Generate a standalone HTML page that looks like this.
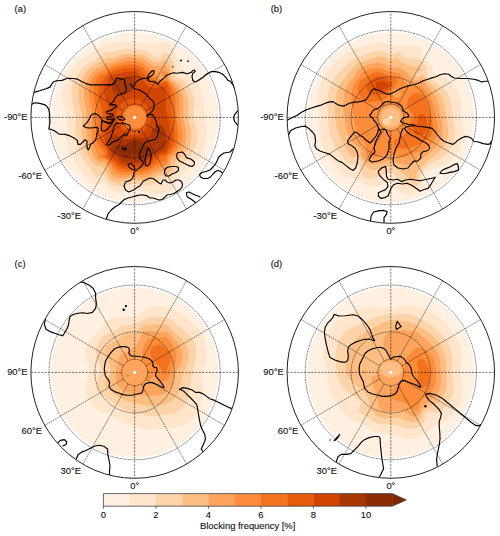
<!DOCTYPE html>
<html><head><meta charset="utf-8"><style>
html,body{margin:0;padding:0;background:#fff;width:500px;height:536px;overflow:hidden}
svg{display:block}
text{font-family:"Liberation Sans",sans-serif;fill:#111;stroke:#111;stroke-width:0.12px}
</style></head><body>
<svg width="500" height="536" viewBox="0 0 500 536">
<rect width="500" height="536" fill="#fff"/>
<clipPath id="cda"><ellipse cx="134.65" cy="117.4" rx="83.52" ry="85.25"/></clipPath>
<clipPath id="coa"><ellipse cx="134.65" cy="117.4" rx="103.75" ry="105.9"/></clipPath>
<g clip-path="url(#cda)">
<ellipse cx="134.65" cy="117.4" rx="103.75" ry="105.9" fill="#fff0e1"/>
<path d="M118.0 42.1L118.6 42.1L119.5 42.0L120.5 41.9L121.4 41.8L122.4 41.8L123.3 41.7L124.3 41.7L125.2 41.7L126.1 41.7L127.1 41.7L128.0 41.8L129.0 41.8L129.9 41.9L130.9 42.0L131.8 42.0L132.8 42.1L132.9 42.1L133.7 42.2L134.7 42.3L135.6 42.4L136.5 42.4L137.5 42.5L138.4 42.6L139.4 42.7L140.3 42.8L141.3 42.9L142.2 43.0L142.9 43.1L143.2 43.1L144.1 43.3L145.0 43.4L146.0 43.6L146.9 43.8L147.9 44.0L148.2 44.1L148.8 44.2L149.8 44.4L150.7 44.6L151.7 44.7L152.6 44.8L153.6 44.8L154.5 44.8L155.4 44.7L156.4 44.5L157.3 44.3L158.0 44.1L158.3 44.0L159.2 43.7L160.2 43.4L161.1 43.2L161.5 43.1L162.1 43.0L163.0 42.9L164.0 42.8L164.9 42.9L165.8 43.1L165.9 43.1L166.8 43.4L167.7 43.8L168.2 44.1L168.7 44.4L169.6 45.0L169.6 45.0L170.6 45.8L170.8 46.0L171.5 46.8L171.7 47.0L172.4 47.9L172.5 48.0L173.0 48.9L173.4 49.5L173.6 49.9L174.0 50.8L174.4 51.5L174.5 51.8L174.8 52.8L175.1 53.7L175.3 54.3L175.4 54.7L175.7 55.6L176.0 56.6L176.2 57.2L176.4 57.6L177.0 58.5L177.2 58.9L177.6 59.5L178.1 60.4L178.2 60.5L178.8 61.4L179.1 62.0L179.4 62.4L179.9 63.4L180.0 63.6L180.4 64.3L180.9 65.3L181.0 65.4L181.4 66.3L181.9 67.2L181.9 67.2L182.5 68.2L182.9 68.8L183.1 69.2L183.8 70.1L183.8 70.1L184.7 71.1L184.7 71.2L185.6 72.1L185.7 72.1L186.6 73.0L186.7 73.0L187.6 73.8L187.8 74.0L188.5 74.6L188.9 74.9L189.5 75.5L190.0 75.9L190.4 76.3L191.0 76.9L191.4 77.2L192.1 77.8L192.3 78.1L193.1 78.8L193.3 79.0L194.1 79.8L194.2 79.9L195.0 80.7L195.1 80.9L195.9 81.7L196.1 82.0L196.7 82.7L197.0 83.2L197.4 83.6L198.0 84.5L198.1 84.6L198.7 85.6L198.9 85.9L199.3 86.5L199.8 87.5L199.9 87.6L200.3 88.5L200.8 89.4L200.8 89.5L201.2 90.4L201.6 91.3L201.8 91.9L201.9 92.3L202.2 93.3L202.5 94.2L202.7 95.0L202.8 95.2L203.0 96.2L203.2 97.1L203.4 98.1L203.5 99.1L203.7 100.0L203.7 100.0L203.8 101.0L203.9 102.0L204.0 102.9L204.0 103.9L204.1 104.9L204.1 105.8L204.2 106.8L204.2 107.8L204.3 108.7L204.3 109.7L204.4 110.6L204.5 111.6L204.6 112.6L204.6 112.8L204.7 113.5L204.9 114.5L205.0 115.5L205.2 116.4L205.4 117.4L205.5 118.4L205.5 118.8L205.6 119.3L205.7 120.3L205.8 121.3L205.9 122.2L206.0 123.2L206.1 124.2L206.2 125.1L206.3 126.1L206.4 127.0L206.5 128.0L206.5 128.0L206.6 129.0L206.6 129.9L206.7 130.9L206.7 131.9L206.8 132.8L206.8 133.8L206.8 134.8L206.7 135.7L206.7 136.7L206.6 137.7L206.5 138.6L206.5 138.7L206.4 139.6L206.2 140.6L206.1 141.5L205.9 142.5L205.7 143.5L205.5 143.9L205.4 144.4L205.2 145.4L204.9 146.3L204.6 147.2L204.6 147.3L204.2 148.3L203.8 149.2L203.7 149.7L203.5 150.2L203.0 151.2L202.7 151.8L202.6 152.1L202.1 153.1L201.8 153.7L201.6 154.1L201.0 155.0L200.8 155.4L200.5 156.0L199.9 157.0L199.9 157.0L199.3 157.9L198.9 158.5L198.6 158.9L198.0 159.9L198.0 159.9L197.3 160.8L197.0 161.1L196.5 161.8L196.1 162.3L195.7 162.7L195.1 163.4L194.9 163.7L194.2 164.4L194.0 164.7L193.3 165.4L193.0 165.6L192.3 166.3L191.9 166.6L191.4 167.1L190.8 167.6L190.4 167.9L189.6 168.5L189.5 168.6L188.5 169.3L188.3 169.5L187.6 170.0L187.0 170.5L186.6 170.7L185.7 171.4L185.7 171.4L184.7 172.1L184.4 172.4L183.8 172.9L183.2 173.4L182.9 173.6L182.0 174.3L181.9 174.4L181.0 175.2L180.9 175.3L180.0 176.1L179.9 176.3L179.1 177.1L179.0 177.2L178.3 178.2L178.1 178.4L177.7 179.2L177.2 180.0L177.1 180.1L176.6 181.1L176.2 181.9L176.2 182.0L175.7 183.0L175.3 183.9L175.3 184.0L174.8 184.9L174.4 185.9L174.3 185.9L173.8 186.9L173.4 187.6L173.3 187.8L172.6 188.8L172.5 189.0L171.8 189.8L171.5 190.1L170.9 190.7L170.6 191.0L169.6 191.7L169.6 191.7L168.7 192.3L167.8 192.7L167.7 192.7L166.8 193.1L165.8 193.3L164.9 193.5L164.4 193.6L164.0 193.7L163.0 193.9L162.1 194.0L161.1 194.0L160.2 194.0L159.2 194.0L158.3 193.9L157.3 193.8L156.4 193.7L155.8 193.6L155.4 193.6L154.5 193.4L153.6 193.3L152.6 193.2L151.7 193.0L150.7 192.9L149.8 192.8L149.0 192.7L148.8 192.6L147.9 192.5L146.9 192.3L146.0 192.1L145.0 192.0L144.1 191.7L143.9 191.7L143.2 191.5L142.2 191.3L141.3 191.1L140.3 190.8L139.9 190.7L139.4 190.6L138.4 190.4L137.5 190.2L136.5 190.0L135.6 189.9L134.7 189.9L133.7 190.0L132.8 190.2L131.8 190.4L130.9 190.6L130.5 190.7L129.9 190.9L129.0 191.2L128.0 191.5L127.4 191.7L127.1 191.8L126.1 192.1L125.2 192.3L124.3 192.5L123.3 192.6L123.2 192.7L122.4 192.8L121.4 192.8L120.5 192.9L119.5 192.9L118.6 192.8L117.9 192.7L117.6 192.6L116.7 192.4L115.7 192.2L114.8 191.8L114.5 191.7L113.9 191.4L112.9 190.9L112.6 190.7L112.0 190.4L111.0 189.8L111.0 189.7L110.1 189.1L109.8 188.8L109.1 188.3L108.6 187.8L108.2 187.4L107.6 186.9L107.2 186.5L106.7 185.9L106.3 185.5L105.7 184.9L105.3 184.6L104.4 184.0L104.4 184.0L103.5 183.6L102.5 183.4L101.6 183.4L100.6 183.5L99.7 183.7L98.7 183.9L98.4 184.0L97.8 184.1L96.8 184.2L95.9 184.3L94.9 184.3L94.0 184.2L93.2 184.0L93.1 183.9L92.1 183.6L91.2 183.1L91.0 183.0L90.2 182.5L89.7 182.0L89.3 181.7L88.7 181.1L88.3 180.7L87.9 180.1L87.4 179.4L87.2 179.2L86.6 178.2L86.4 177.9L85.9 177.2L85.5 176.6L85.2 176.3L84.6 175.5L84.4 175.3L83.6 174.3L83.6 174.3L82.8 173.4L82.7 173.1L82.1 172.4L81.7 172.0L81.3 171.4L80.8 170.7L80.6 170.5L79.8 169.5L79.8 169.5L79.2 168.5L78.9 168.1L78.5 167.6L77.9 166.8L77.8 166.6L77.2 165.6L77.0 165.3L76.6 164.7L76.0 163.8L76.0 163.7L75.4 162.7L75.1 162.2L74.9 161.8L74.4 160.8L74.2 160.4L73.8 159.9L73.4 158.9L73.2 158.6L72.9 157.9L72.4 157.0L72.3 156.8L71.8 156.0L71.3 155.0L71.3 155.0L70.8 154.1L70.4 153.2L70.3 153.1L69.9 152.1L69.4 151.2L69.4 151.2L69.0 150.2L68.6 149.2L68.5 148.9L68.2 148.3L67.9 147.3L67.6 146.3L67.5 146.1L67.3 145.4L67.0 144.4L66.8 143.5L66.6 142.5L66.6 142.3L66.4 141.5L66.3 140.6L66.1 139.6L66.0 138.6L66.0 137.7L65.9 136.7L65.9 135.7L65.9 134.8L65.9 133.8L65.9 132.8L65.9 131.9L66.0 130.9L66.1 129.9L66.2 129.0L66.2 128.0L66.4 127.0L66.5 126.1L66.6 125.1L66.6 125.0L66.7 124.2L66.8 123.2L66.9 122.2L66.9 121.3L67.0 120.3L67.0 119.3L67.0 118.4L67.0 117.4L66.8 116.4L66.6 115.5L66.6 115.3L66.4 114.5L66.1 113.5L65.8 112.6L65.6 112.0L65.5 111.6L65.2 110.6L64.9 109.7L64.7 109.0L64.6 108.7L64.3 107.8L64.1 106.8L63.8 105.8L63.8 105.6L63.6 104.9L63.4 103.9L63.2 102.9L63.0 102.0L62.8 101.0L62.8 100.7L62.7 100.0L62.6 99.1L62.5 98.1L62.5 97.1L62.5 96.2L62.5 95.2L62.5 94.2L62.6 93.3L62.6 92.3L62.8 91.3L62.8 91.0L62.9 90.4L63.1 89.4L63.2 88.5L63.4 87.5L63.7 86.5L63.8 86.2L63.9 85.6L64.2 84.6L64.5 83.6L64.7 83.1L64.8 82.7L65.2 81.7L65.5 80.7L65.6 80.5L65.9 79.8L66.4 78.8L66.6 78.3L66.8 77.8L67.3 76.9L67.5 76.3L67.7 75.9L68.2 74.9L68.5 74.5L68.8 74.0L69.3 73.0L69.4 72.9L69.9 72.1L70.4 71.4L70.6 71.1L71.2 70.1L71.3 70.0L71.9 69.2L72.3 68.7L72.6 68.2L73.2 67.5L73.4 67.2L74.2 66.3L74.2 66.3L75.1 65.3L75.1 65.3L76.0 64.3L76.0 64.3L77.0 63.4L77.0 63.4L77.9 62.5L78.0 62.4L78.9 61.7L79.1 61.4L79.8 60.9L80.3 60.5L80.8 60.2L81.6 59.5L81.7 59.5L82.7 58.8L83.0 58.5L83.6 58.2L84.5 57.6L84.6 57.6L85.5 56.9L86.0 56.6L86.4 56.4L87.4 55.8L87.6 55.6L88.3 55.2L89.2 54.7L89.3 54.6L90.2 54.0L90.7 53.7L91.2 53.4L92.1 52.8L92.2 52.8L93.1 52.1L93.5 51.8L94.0 51.4L94.8 50.8L94.9 50.7L95.9 49.9L96.0 49.9L96.8 49.2L97.2 48.9L97.8 48.4L98.4 47.9L98.7 47.7L99.7 47.0L99.8 47.0L100.6 46.4L101.4 46.0L101.6 45.9L102.5 45.4L103.3 45.0L103.5 45.0L104.4 44.6L105.3 44.3L106.1 44.1L106.3 44.0L107.2 43.8L108.2 43.6L109.1 43.4L110.1 43.2L110.8 43.1L111.0 43.1L112.0 42.9L112.9 42.8L113.9 42.7L114.8 42.5L115.7 42.4L116.7 42.3L117.6 42.2Z" fill="#fee5cb"/>
<path d="M119.9 49.9L120.5 49.7L121.4 49.5L122.4 49.3L123.3 49.2L124.3 49.1L125.2 49.1L126.1 49.1L127.1 49.1L128.0 49.1L129.0 49.2L129.9 49.3L130.9 49.4L131.8 49.5L132.8 49.6L133.7 49.7L134.7 49.8L135.6 49.8L136.5 49.8L137.5 49.8L138.4 49.8L138.8 49.9L139.4 49.9L140.3 50.0L141.3 50.1L142.2 50.3L143.2 50.5L144.1 50.8L144.1 50.8L145.0 51.2L146.0 51.6L146.4 51.8L146.9 52.0L147.9 52.5L148.3 52.8L148.8 53.0L149.8 53.6L150.0 53.7L150.7 54.2L151.5 54.7L151.7 54.8L152.6 55.3L153.2 55.6L153.6 55.9L154.5 56.4L155.0 56.6L155.4 56.8L156.4 57.1L157.3 57.4L158.3 57.5L159.2 57.4L160.2 57.0L160.6 56.6L161.1 56.1L161.5 55.6L162.1 55.0L162.4 54.7L163.0 54.0L163.4 53.7L164.0 53.3L164.9 52.9L165.8 52.8L166.8 53.1L167.7 53.7L167.8 53.7L168.7 54.5L168.9 54.7L169.6 55.5L169.7 55.6L170.4 56.6L170.6 56.8L171.1 57.6L171.5 58.3L171.6 58.5L172.2 59.5L172.5 60.0L172.7 60.5L173.2 61.4L173.4 61.9L173.6 62.4L174.1 63.4L174.4 64.1L174.5 64.3L174.8 65.3L175.1 66.3L175.3 67.2L175.3 67.3L175.5 68.2L175.6 69.2L175.6 70.1L175.6 71.1L175.6 72.1L175.5 73.0L175.4 74.0L175.4 74.9L175.8 75.9L176.2 76.3L177.2 76.8L177.3 76.9L178.1 77.2L179.1 77.6L179.5 77.8L180.0 78.1L181.0 78.8L181.0 78.8L181.9 79.5L182.3 79.8L182.9 80.2L183.5 80.7L183.8 81.0L184.6 81.7L184.7 81.8L185.7 82.7L185.7 82.7L186.6 83.6L186.6 83.7L187.5 84.6L187.6 84.7L188.3 85.6L188.5 85.9L189.0 86.5L189.5 87.2L189.7 87.5L190.3 88.5L190.4 88.7L190.8 89.4L191.3 90.4L191.4 90.4L191.8 91.3L192.2 92.3L192.3 92.6L192.6 93.3L192.9 94.2L193.2 95.2L193.3 95.5L193.4 96.2L193.6 97.1L193.8 98.1L194.0 99.1L194.1 100.0L194.2 101.0L194.2 101.9L194.2 102.0L194.2 102.9L194.2 103.9L194.2 104.9L194.2 105.8L194.2 105.9L194.2 106.8L194.1 107.8L194.0 108.7L193.9 109.7L193.9 110.6L193.8 111.6L193.7 112.6L193.6 113.5L193.5 114.5L193.5 115.5L193.5 116.4L193.5 117.4L193.7 118.4L193.9 119.3L194.2 120.3L194.2 120.4L194.5 121.3L194.8 122.2L195.1 123.2L195.1 123.5L195.4 124.2L195.6 125.1L195.9 126.1L196.1 126.8L196.2 127.0L196.4 128.0L196.6 129.0L196.8 129.9L197.0 130.9L197.0 131.3L197.1 131.9L197.2 132.8L197.3 133.8L197.4 134.8L197.4 135.7L197.4 136.7L197.4 137.7L197.3 138.6L197.3 139.6L197.1 140.6L197.0 141.2L197.0 141.5L196.8 142.5L196.6 143.5L196.3 144.4L196.1 145.2L196.0 145.4L195.7 146.3L195.4 147.3L195.1 147.9L195.0 148.3L194.6 149.2L194.2 150.0L194.1 150.2L193.6 151.2L193.3 151.7L193.0 152.1L192.4 153.1L192.3 153.3L191.8 154.1L191.4 154.7L191.1 155.0L190.4 156.0L190.4 156.0L189.6 157.0L189.5 157.1L188.7 157.9L188.5 158.1L187.7 158.9L187.6 159.0L186.7 159.9L186.6 159.9L185.7 160.7L185.6 160.8L184.7 161.5L184.5 161.8L183.8 162.4L183.4 162.7L182.9 163.2L182.4 163.7L181.9 164.2L181.4 164.7L181.0 165.1L180.5 165.6L180.0 166.2L179.7 166.6L179.1 167.4L178.9 167.6L178.2 168.5L178.1 168.6L177.5 169.5L177.2 169.9L176.8 170.5L176.2 171.3L176.1 171.4L175.4 172.4L175.3 172.6L174.7 173.4L174.4 173.9L174.0 174.3L173.4 175.1L173.2 175.3L172.5 176.1L172.3 176.3L171.5 177.0L171.2 177.2L170.6 177.6L169.6 178.1L169.1 178.2L168.7 178.3L167.7 178.3L167.2 178.2L166.8 178.1L165.8 177.9L164.9 177.6L164.0 177.7L163.0 178.1L162.7 178.2L162.1 178.7L161.3 179.2L161.1 179.4L160.3 180.1L160.2 180.3L159.3 181.1L159.2 181.2L158.3 182.0L158.2 182.0L157.3 182.6L156.4 183.0L156.4 183.0L155.4 183.5L154.5 183.8L154.2 184.0L153.6 184.2L152.6 184.5L151.7 184.8L150.9 184.9L150.7 185.0L149.8 185.2L148.8 185.3L147.9 185.4L146.9 185.4L146.0 185.4L145.0 185.4L144.1 185.3L143.2 185.2L142.2 185.0L141.7 184.9L141.3 184.9L140.3 184.7L139.4 184.5L138.4 184.3L137.5 184.2L136.5 184.0L136.1 184.0L135.6 183.9L134.7 183.9L133.7 184.0L133.6 184.0L132.8 184.1L131.8 184.3L130.9 184.5L129.9 184.7L129.0 184.9L129.0 184.9L128.0 185.2L127.1 185.4L126.1 185.7L125.2 185.9L125.1 185.9L124.3 186.1L123.3 186.2L122.4 186.4L121.4 186.5L120.5 186.5L119.5 186.5L118.6 186.5L117.6 186.4L116.7 186.2L115.7 186.0L115.4 185.9L114.8 185.8L113.9 185.4L112.9 185.0L112.7 184.9L112.0 184.6L111.0 184.1L110.9 184.0L110.1 183.5L109.4 183.0L109.1 182.8L108.2 182.1L108.1 182.0L107.2 181.2L107.1 181.1L106.3 180.2L106.2 180.1L105.6 179.2L105.3 178.4L105.3 178.2L105.0 177.2L104.7 176.3L104.4 175.8L103.7 175.3L103.5 175.1L102.5 174.7L101.6 174.7L100.6 174.9L100.1 175.3L99.7 175.6L99.0 176.3L98.7 176.5L97.8 177.2L97.8 177.3L96.8 177.3L96.7 177.2L95.9 176.7L95.4 176.3L94.9 175.8L94.6 175.3L94.0 174.5L93.9 174.3L93.3 173.4L93.1 173.0L92.6 172.4L92.1 171.7L91.9 171.4L91.2 170.5L91.2 170.4L90.5 169.5L90.2 169.2L89.7 168.5L89.3 168.0L89.0 167.6L88.3 166.7L88.2 166.6L87.5 165.6L87.4 165.4L86.9 164.7L86.4 164.1L86.2 163.7L85.6 162.7L85.5 162.6L84.9 161.8L84.6 161.2L84.3 160.8L83.7 159.9L83.6 159.7L83.1 158.9L82.7 158.2L82.5 157.9L82.0 157.0L81.7 156.5L81.4 156.0L80.9 155.0L80.8 154.7L80.5 154.1L80.0 153.1L79.8 152.7L79.5 152.1L79.1 151.2L78.9 150.6L78.7 150.2L78.3 149.2L78.0 148.3L77.9 148.2L77.6 147.3L77.3 146.3L77.0 145.4L77.0 145.4L76.7 144.4L76.5 143.5L76.2 142.5L76.1 141.5L76.0 141.5L75.9 140.6L75.7 139.6L75.6 138.6L75.5 137.7L75.4 136.7L75.4 135.7L75.3 134.8L75.3 133.8L75.3 132.8L75.3 131.9L75.3 130.9L75.4 129.9L75.4 129.0L75.4 128.0L75.5 127.0L75.6 126.1L75.6 125.1L75.7 124.2L75.7 123.2L75.7 122.2L75.7 121.3L75.7 120.3L75.7 119.3L75.6 118.4L75.5 117.4L75.4 116.4L75.3 115.5L75.2 114.5L75.1 114.2L75.0 113.5L74.8 112.6L74.6 111.6L74.4 110.6L74.2 109.7L74.2 109.6L73.9 108.7L73.7 107.8L73.4 106.8L73.2 105.8L73.2 105.8L73.0 104.9L72.8 103.9L72.6 102.9L72.4 102.0L72.3 101.3L72.2 101.0L72.0 100.0L71.9 99.1L71.8 98.1L71.7 97.1L71.6 96.2L71.6 95.2L71.6 94.2L71.6 93.3L71.6 92.3L71.7 91.3L71.8 90.4L71.9 89.4L72.0 88.5L72.2 87.5L72.3 87.3L72.4 86.5L72.6 85.6L72.9 84.6L73.2 83.6L73.2 83.6L73.5 82.7L73.8 81.7L74.2 80.9L74.2 80.7L74.6 79.8L75.1 78.8L75.1 78.8L75.6 77.8L76.0 77.0L76.1 76.9L76.7 75.9L77.0 75.4L77.3 74.9L77.9 74.0L77.9 73.9L78.6 73.0L78.9 72.6L79.3 72.1L79.8 71.4L80.1 71.1L80.8 70.2L80.9 70.1L81.7 69.2L81.7 69.2L82.6 68.2L82.7 68.2L83.6 67.3L83.6 67.2L84.6 66.4L84.7 66.3L85.5 65.6L85.9 65.3L86.4 64.9L87.1 64.3L87.4 64.2L88.3 63.5L88.5 63.4L89.3 62.9L90.1 62.4L90.2 62.3L91.2 61.7L91.7 61.4L92.1 61.2L93.1 60.7L93.4 60.5L94.0 60.2L94.9 59.7L95.3 59.5L95.9 59.2L96.8 58.7L97.0 58.5L97.8 58.1L98.6 57.6L98.7 57.5L99.7 56.7L99.8 56.6L100.6 55.9L100.9 55.6L101.6 55.0L102.0 54.7L102.5 54.3L103.3 53.7L103.5 53.6L104.4 53.1L105.2 52.8L105.3 52.7L106.3 52.4L107.2 52.2L108.2 52.1L109.1 52.0L110.1 51.9L111.0 51.8L111.4 51.8L112.0 51.7L112.9 51.6L113.9 51.4L114.8 51.2L115.7 51.0L116.4 50.8L116.7 50.7L117.6 50.5L118.6 50.2L119.5 49.9Z" fill="#fdd4aa"/>
<path d="M125.5 53.7L126.1 53.7L127.1 53.7L128.0 53.7L128.5 53.7L129.0 53.8L129.9 53.8L130.9 53.9L131.8 54.1L132.8 54.2L133.7 54.2L134.7 54.3L135.6 54.2L136.5 54.1L137.5 54.1L138.4 54.1L139.4 54.2L140.3 54.3L141.3 54.6L141.5 54.7L142.2 54.9L143.2 55.3L143.8 55.6L144.1 55.8L145.0 56.3L145.5 56.6L146.0 56.9L146.9 57.5L147.1 57.6L147.9 58.1L148.7 58.5L148.8 58.7L149.8 59.2L150.3 59.5L150.7 59.8L151.7 60.3L152.0 60.5L152.6 60.7L153.6 61.1L154.4 61.4L154.5 61.5L155.4 61.7L156.4 61.9L157.3 61.9L158.3 61.9L159.2 61.8L160.2 61.5L160.5 61.4L161.1 61.2L162.1 60.8L162.9 60.5L163.0 60.4L164.0 60.0L164.9 59.7L165.8 59.8L166.8 60.3L167.1 60.5L167.7 61.0L168.1 61.4L168.7 62.1L168.9 62.4L169.6 63.4L169.6 63.5L170.1 64.3L170.6 65.2L170.6 65.3L171.0 66.3L171.3 67.2L171.5 67.9L171.6 68.2L171.8 69.2L171.9 70.1L172.0 71.1L171.9 72.1L171.8 73.0L171.6 74.0L171.5 74.3L171.4 74.9L171.1 75.9L170.9 76.9L171.1 77.8L171.5 78.5L171.9 78.8L172.5 79.3L173.2 79.8L173.4 79.9L174.4 80.5L174.8 80.7L175.3 81.0L176.2 81.5L176.6 81.7L177.2 82.1L178.1 82.7L178.1 82.7L179.1 83.4L179.4 83.6L180.0 84.2L180.5 84.6L181.0 85.0L181.5 85.6L181.9 86.0L182.4 86.5L182.9 87.1L183.1 87.5L183.8 88.4L183.8 88.5L184.5 89.4L184.7 89.9L185.0 90.4L185.5 91.3L185.7 91.7L186.0 92.3L186.4 93.3L186.6 94.0L186.7 94.2L187.0 95.2L187.3 96.2L187.5 97.1L187.6 97.4L187.7 98.1L187.9 99.1L188.0 100.0L188.1 101.0L188.2 102.0L188.2 102.9L188.3 103.9L188.3 104.9L188.2 105.8L188.2 106.8L188.2 107.8L188.1 108.7L188.1 109.7L188.1 110.6L188.1 111.6L188.0 112.6L188.1 113.5L188.1 114.5L188.2 115.5L188.3 116.4L188.4 117.4L188.5 118.4L188.5 118.9L188.6 119.3L188.7 120.3L188.9 121.3L189.0 122.2L189.2 123.2L189.4 124.2L189.5 124.3L189.7 125.1L189.9 126.1L190.1 127.0L190.3 128.0L190.4 128.7L190.5 129.0L190.7 129.9L190.8 130.9L190.9 131.9L191.0 132.8L191.1 133.8L191.2 134.8L191.2 135.7L191.2 136.7L191.1 137.7L191.1 138.6L190.9 139.6L190.8 140.6L190.6 141.5L190.4 142.3L190.4 142.5L190.1 143.5L189.8 144.4L189.5 145.4L189.5 145.4L189.1 146.3L188.7 147.3L188.5 147.6L188.2 148.3L187.6 149.2L187.6 149.3L187.0 150.2L186.6 150.8L186.4 151.2L185.7 152.1L185.6 152.1L184.8 153.1L184.7 153.2L184.0 154.1L183.8 154.2L183.0 155.0L182.9 155.2L182.0 156.0L181.9 156.1L181.0 156.9L180.9 157.0L180.0 157.7L179.8 157.9L179.1 158.6L178.7 158.9L178.1 159.4L177.6 159.9L177.2 160.3L176.7 160.8L176.2 161.4L175.9 161.8L175.3 162.7L175.3 162.8L174.8 163.7L174.4 164.6L174.3 164.7L173.8 165.6L173.4 166.5L173.4 166.6L172.9 167.6L172.5 168.3L172.3 168.5L171.7 169.5L171.5 169.9L171.1 170.5L170.6 171.4L170.5 171.4L169.8 172.4L169.6 172.7L169.1 173.4L168.7 173.8L168.1 174.3L167.7 174.6L166.8 175.2L166.7 175.3L165.8 175.6L164.9 175.7L164.0 175.6L163.0 175.4L162.1 175.4L161.1 175.4L160.2 175.5L159.2 175.7L158.3 176.0L157.4 176.3L157.3 176.3L156.4 176.6L155.4 177.0L154.9 177.2L154.5 177.4L153.6 178.0L153.2 178.2L152.6 178.6L151.7 179.1L151.6 179.2L150.7 179.7L149.8 180.1L149.7 180.1L148.8 180.5L147.9 180.8L146.9 180.9L146.0 181.1L145.8 181.1L145.0 181.1L144.1 181.1L143.3 181.1L143.2 181.1L142.2 181.0L141.3 180.9L140.3 180.8L139.4 180.6L138.4 180.5L137.5 180.3L136.5 180.2L135.6 180.1L135.0 180.1L134.7 180.1L134.4 180.1L133.7 180.2L132.8 180.3L131.8 180.4L130.9 180.6L129.9 180.7L129.0 180.9L128.2 181.1L128.0 181.1L127.1 181.3L126.1 181.5L125.2 181.6L124.3 181.8L123.3 181.9L122.4 182.0L122.0 182.0L121.4 182.1L120.5 182.1L119.5 182.1L118.6 182.1L118.0 182.0L117.6 182.0L116.7 181.9L115.7 181.7L114.8 181.5L113.9 181.2L113.4 181.1L112.9 180.9L112.0 180.5L111.1 180.1L111.0 180.1L110.1 179.5L109.5 179.2L109.1 178.9L108.4 178.2L108.2 177.9L107.8 177.2L107.6 176.3L107.5 175.3L107.2 174.4L107.2 174.3L106.9 173.4L106.5 172.4L106.3 172.0L106.0 171.4L105.4 170.5L105.3 170.3L104.7 169.5L104.4 169.1L103.8 168.5L103.5 168.2L102.6 167.6L102.5 167.5L101.6 167.0L100.7 166.6L100.6 166.6L99.7 166.3L98.7 166.0L97.8 165.7L97.6 165.6L96.8 165.4L95.9 164.9L95.5 164.7L94.9 164.4L94.1 163.7L94.0 163.7L93.1 162.8L93.0 162.7L92.1 161.8L92.1 161.7L91.4 160.8L91.2 160.5L90.8 159.9L90.2 158.9L90.2 158.9L89.7 157.9L89.3 157.2L89.1 157.0L88.6 156.0L88.3 155.6L88.0 155.0L87.5 154.1L87.4 153.9L86.9 153.1L86.4 152.1L86.4 152.1L86.0 151.2L85.5 150.2L85.5 150.1L85.1 149.2L84.7 148.3L84.6 147.8L84.3 147.3L84.0 146.3L83.7 145.4L83.6 145.1L83.4 144.4L83.1 143.5L82.9 142.5L82.7 141.6L82.6 141.5L82.4 140.6L82.3 139.6L82.1 138.6L82.0 137.7L81.9 136.7L81.8 135.7L81.8 134.8L81.7 133.8L81.7 132.8L81.7 131.9L81.7 130.9L81.8 129.9L81.8 129.0L81.8 128.0L81.9 127.0L82.0 126.1L82.0 125.1L82.1 124.2L82.2 123.2L82.2 122.2L82.3 121.3L82.3 120.3L82.3 119.3L82.3 118.4L82.3 117.4L82.2 116.4L82.0 115.5L81.9 114.5L81.7 113.7L81.7 113.5L81.5 112.6L81.3 111.6L81.0 110.6L80.8 109.7L80.8 109.5L80.6 108.7L80.4 107.8L80.1 106.8L79.9 105.8L79.8 105.4L79.7 104.9L79.5 103.9L79.3 102.9L79.1 102.0L78.9 101.0L78.9 100.6L78.8 100.0L78.6 99.1L78.5 98.1L78.4 97.1L78.4 96.2L78.3 95.2L78.3 94.2L78.3 93.3L78.3 92.3L78.4 91.3L78.5 90.4L78.6 89.4L78.8 88.5L78.9 87.9L79.0 87.5L79.2 86.5L79.4 85.6L79.7 84.6L79.8 84.2L80.0 83.6L80.4 82.7L80.8 81.7L80.8 81.7L81.2 80.7L81.7 79.8L81.7 79.7L82.2 78.8L82.7 78.0L82.7 77.8L83.3 76.9L83.6 76.4L83.9 75.9L84.5 74.9L84.6 74.9L85.2 74.0L85.5 73.6L85.9 73.0L86.4 72.4L86.7 72.1L87.4 71.3L87.6 71.1L88.3 70.3L88.5 70.1L89.3 69.4L89.5 69.2L90.2 68.6L90.7 68.2L91.2 67.8L92.0 67.2L92.1 67.1L93.1 66.5L93.4 66.3L94.0 65.9L94.9 65.3L95.0 65.3L95.9 64.7L96.6 64.3L96.8 64.2L97.8 63.6L98.2 63.4L98.7 63.1L99.7 62.5L99.8 62.4L100.6 61.9L101.3 61.4L101.6 61.2L102.5 60.6L102.6 60.5L103.5 59.9L104.0 59.5L104.4 59.3L105.3 58.8L106.0 58.5L106.3 58.4L107.2 58.2L108.2 58.0L109.1 57.9L110.1 57.8L111.0 57.8L112.0 57.7L112.9 57.6L113.2 57.6L113.9 57.5L114.8 57.2L115.7 56.9L116.4 56.6L116.7 56.5L117.6 56.1L118.6 55.7L118.6 55.6L119.5 55.3L120.5 54.9L121.1 54.7L121.4 54.6L122.4 54.3L123.3 54.0L124.3 53.9L125.2 53.7Z" fill="#fdbe84"/>
<path d="M124.8 57.6L125.2 57.5L126.1 57.4L127.1 57.3L128.0 57.3L129.0 57.4L129.9 57.4L130.9 57.5L131.8 57.5L132.4 57.6L132.8 57.6L133.7 57.6L134.6 57.6L134.9 57.6L135.6 57.5L136.5 57.4L137.5 57.4L138.4 57.5L138.7 57.6L139.4 57.8L140.3 58.1L141.3 58.5L141.3 58.5L142.2 59.0L143.1 59.5L143.2 59.6L144.1 60.1L144.6 60.5L145.0 60.7L146.0 61.4L146.1 61.4L146.9 62.0L147.6 62.4L147.9 62.6L148.8 63.2L149.1 63.4L149.8 63.8L150.7 64.3L150.7 64.3L151.7 64.8L152.6 65.3L152.6 65.3L153.6 65.7L154.5 66.0L155.4 66.3L155.4 66.3L156.4 66.4L157.3 66.5L158.3 66.4L159.2 66.3L159.5 66.3L160.2 66.1L161.1 65.9L162.1 65.8L163.0 65.6L164.0 65.6L164.9 65.8L165.8 66.2L165.9 66.3L166.8 67.0L167.0 67.2L167.7 68.1L167.8 68.2L168.4 69.2L168.7 69.6L168.9 70.1L169.3 71.1L169.5 72.1L169.6 72.7L169.7 73.0L169.7 74.0L169.6 74.3L169.6 74.9L169.4 75.9L169.3 76.9L169.3 77.8L169.6 78.8L169.6 78.9L170.3 79.8L170.6 80.1L171.2 80.7L171.5 81.0L172.3 81.7L172.5 81.8L173.4 82.6L173.5 82.7L174.4 83.4L174.6 83.6L175.3 84.3L175.7 84.6L176.2 85.2L176.6 85.6L177.2 86.2L177.5 86.5L178.1 87.3L178.3 87.5L179.0 88.5L179.1 88.5L179.7 89.4L180.0 90.0L180.3 90.4L180.8 91.3L181.0 91.8L181.2 92.3L181.6 93.3L181.9 94.0L182.0 94.2L182.3 95.2L182.6 96.2L182.8 97.1L182.9 97.4L183.0 98.1L183.2 99.1L183.3 100.0L183.4 101.0L183.5 102.0L183.5 102.9L183.5 103.9L183.5 104.9L183.5 105.8L183.5 106.8L183.4 107.8L183.4 108.7L183.4 109.7L183.3 110.6L183.2 111.6L183.2 112.6L183.2 113.5L183.2 114.5L183.2 115.5L183.2 116.4L183.3 117.4L183.4 118.4L183.6 119.3L183.8 120.2L183.8 120.3L184.0 121.3L184.3 122.2L184.5 123.2L184.7 124.2L184.7 124.3L184.9 125.1L185.2 126.1L185.4 127.0L185.5 128.0L185.7 128.8L185.7 129.0L185.9 129.9L186.0 130.9L186.1 131.9L186.2 132.8L186.3 133.8L186.3 134.8L186.3 135.7L186.3 136.7L186.2 137.7L186.1 138.6L186.0 139.6L185.8 140.6L185.7 141.0L185.6 141.5L185.3 142.5L185.0 143.5L184.7 144.1L184.6 144.4L184.2 145.4L183.8 146.2L183.8 146.3L183.2 147.3L182.9 147.9L182.7 148.3L182.0 149.2L181.9 149.4L181.3 150.2L181.0 150.6L180.5 151.2L180.0 151.7L179.6 152.1L179.1 152.6L178.6 153.1L178.1 153.5L177.5 154.1L177.2 154.4L176.4 155.0L176.2 155.1L175.3 155.9L175.1 156.0L174.4 156.6L173.8 157.0L173.4 157.2L172.5 157.9L172.4 157.9L171.5 158.9L171.5 158.9L171.2 159.9L171.0 160.8L170.8 161.8L170.6 162.7L170.6 162.8L170.3 163.7L169.9 164.7L169.6 165.1L169.3 165.6L168.7 166.6L168.6 166.6L167.8 167.6L167.7 167.6L166.8 168.5L166.7 168.5L165.8 169.2L165.3 169.5L164.9 169.9L164.1 170.5L164.0 170.6L163.0 171.1L162.2 171.4L162.1 171.5L161.1 171.7L160.2 171.9L159.2 172.1L158.3 172.4L158.2 172.4L157.3 172.7L156.4 173.0L155.4 173.3L155.3 173.4L154.5 173.7L153.6 174.1L153.2 174.3L152.6 174.6L151.7 175.1L151.3 175.3L150.7 175.6L149.8 176.1L149.5 176.3L148.8 176.6L147.9 177.0L147.3 177.2L146.9 177.4L146.0 177.6L145.0 177.7L144.1 177.7L143.2 177.7L142.2 177.7L141.3 177.6L140.3 177.6L139.4 177.5L138.4 177.4L137.5 177.3L136.5 177.3L135.7 177.2L135.6 177.2L134.7 177.2L134.0 177.2L133.7 177.2L132.8 177.3L131.8 177.4L130.9 177.5L129.9 177.6L129.0 177.7L128.0 177.8L127.1 178.0L126.1 178.1L125.2 178.2L124.9 178.2L124.3 178.2L123.3 178.3L122.4 178.3L121.4 178.4L120.5 178.3L119.5 178.3L118.6 178.2L118.5 178.2L117.6 178.1L116.7 177.9L115.7 177.6L114.8 177.3L114.5 177.2L113.9 177.0L112.9 176.4L112.6 176.3L112.0 175.7L111.6 175.3L111.0 174.4L111.0 174.3L110.5 173.4L110.1 172.4L110.1 172.3L109.7 171.4L109.2 170.5L109.1 170.2L108.8 169.5L108.3 168.5L108.2 168.4L107.7 167.6L107.2 166.8L107.1 166.6L106.4 165.6L106.3 165.4L105.8 164.7L105.3 164.1L105.1 163.7L104.4 162.8L104.3 162.7L103.5 162.2L102.5 162.1L101.6 162.1L100.6 162.0L99.7 161.9L99.4 161.8L98.7 161.6L97.8 161.2L97.1 160.8L96.8 160.6L96.0 159.9L95.9 159.8L95.1 158.9L94.9 158.6L94.5 157.9L94.0 157.0L94.0 157.0L93.5 156.0L93.1 155.1L93.0 155.0L92.6 154.1L92.2 153.1L92.1 152.9L91.8 152.1L91.4 151.2L91.2 150.6L91.0 150.2L90.6 149.2L90.2 148.3L90.2 148.3L89.8 147.3L89.5 146.3L89.3 145.8L89.1 145.4L88.8 144.4L88.5 143.5L88.3 142.9L88.2 142.5L88.0 141.5L87.8 140.6L87.6 139.6L87.4 138.6L87.4 138.4L87.3 137.7L87.2 136.7L87.1 135.7L87.0 134.8L87.0 133.8L87.0 132.8L87.0 131.9L87.0 130.9L87.0 129.9L87.0 129.0L87.1 128.0L87.2 127.0L87.2 126.1L87.3 125.1L87.3 124.2L87.4 123.4L87.4 123.2L87.4 122.2L87.5 121.3L87.5 120.3L87.5 119.3L87.5 118.4L87.4 117.4L87.4 117.1L87.3 116.4L87.3 115.5L87.2 114.5L87.0 113.5L86.9 112.6L86.7 111.6L86.6 110.6L86.4 110.1L86.4 109.7L86.1 108.7L85.9 107.8L85.7 106.8L85.5 105.8L85.5 105.7L85.3 104.9L85.1 103.9L84.9 102.9L84.7 102.0L84.6 101.0L84.6 101.0L84.4 100.0L84.3 99.1L84.1 98.1L84.0 97.1L84.0 96.2L83.9 95.2L83.9 94.2L83.9 93.3L83.9 92.3L84.0 91.3L84.1 90.4L84.2 89.4L84.3 88.5L84.5 87.5L84.6 87.4L84.7 86.5L85.0 85.6L85.3 84.6L85.5 84.0L85.6 83.6L86.0 82.7L86.4 81.7L86.4 81.5L86.8 80.7L87.3 79.8L87.4 79.6L87.8 78.8L88.3 77.9L88.3 77.8L88.9 76.9L89.3 76.3L89.5 75.9L90.2 74.9L90.2 74.9L91.0 74.0L91.2 73.8L91.8 73.0L92.1 72.7L92.8 72.1L93.1 71.8L94.0 71.1L94.0 71.0L94.9 70.3L95.2 70.1L95.9 69.7L96.7 69.2L96.8 69.1L97.8 68.5L98.3 68.2L98.7 68.0L99.7 67.4L100.0 67.2L100.6 66.9L101.6 66.3L101.6 66.3L102.5 65.7L103.2 65.3L103.5 65.2L104.4 64.6L104.9 64.3L105.3 64.1L106.3 63.6L106.8 63.4L107.2 63.2L108.2 62.8L109.1 62.5L109.3 62.4L110.1 62.2L111.0 61.9L112.0 61.7L112.9 61.5L113.1 61.4L113.9 61.2L114.8 61.0L115.7 60.7L116.4 60.5L116.7 60.4L117.6 60.0L118.6 59.7L119.0 59.5L119.5 59.3L120.5 58.9L121.4 58.6L121.5 58.5L122.4 58.3L123.3 58.0L124.3 57.7ZM164.0 77.8L163.3 77.8L164.0 78.0L164.0 77.8Z" fill="#fda55f"/>
<path d="M124.0 61.4L124.3 61.4L125.2 61.2L126.1 61.0L127.1 60.9L128.0 60.9L129.0 60.8L129.9 60.9L130.9 60.9L131.8 60.9L132.8 60.9L133.7 61.0L134.7 61.0L135.6 61.1L136.5 61.2L137.5 61.3L138.0 61.4L138.4 61.5L139.4 61.9L140.3 62.3L140.6 62.4L141.3 62.7L142.2 63.2L142.4 63.4L143.2 63.8L144.0 64.3L144.1 64.4L145.0 65.1L145.4 65.3L146.0 65.7L146.7 66.3L146.9 66.4L147.9 67.1L148.0 67.2L148.8 67.9L149.3 68.2L149.8 68.6L150.5 69.2L150.7 69.3L151.7 70.1L151.7 70.1L152.6 70.9L152.9 71.1L153.6 71.7L154.0 72.1L154.5 72.6L155.0 73.0L155.4 73.6L155.8 74.0L156.4 74.9L156.4 74.9L157.0 75.9L157.3 76.4L157.6 76.9L158.3 77.7L158.3 77.8L159.2 78.7L159.4 78.8L160.2 79.2L161.1 79.6L161.7 79.8L162.1 79.8L163.0 79.9L163.9 79.8L164.0 79.8L164.9 79.5L165.8 78.9L166.3 78.8L165.8 78.0L165.8 77.8L164.9 77.2L164.6 76.9L164.0 76.3L163.3 75.9L163.0 75.5L162.3 74.9L162.1 74.4L161.7 74.0L161.6 73.0L162.0 72.1L162.1 72.0L163.0 71.3L164.0 71.1L164.9 71.1L165.8 71.3L166.8 71.9L166.9 72.1L167.6 73.0L167.7 73.2L168.0 74.0L168.1 74.9L168.0 75.9L167.7 76.9L167.7 76.9L167.2 77.8L167.2 78.8L167.7 79.2L168.1 79.8L168.7 80.3L169.0 80.7L169.6 81.4L169.9 81.7L170.6 82.4L170.8 82.7L171.5 83.5L171.7 83.6L172.5 84.6L172.5 84.6L173.3 85.6L173.4 85.7L174.0 86.5L174.4 87.0L174.7 87.5L175.3 88.4L175.3 88.5L175.9 89.4L176.2 90.1L176.4 90.4L176.9 91.3L177.2 92.1L177.3 92.3L177.7 93.3L178.0 94.2L178.1 94.7L178.3 95.2L178.5 96.2L178.7 97.1L178.9 98.1L179.0 99.1L179.1 99.4L179.2 100.0L179.2 101.0L179.3 102.0L179.3 102.9L179.4 103.9L179.4 104.9L179.4 105.8L179.3 106.8L179.3 107.8L179.3 108.7L179.2 109.7L179.2 110.6L179.1 111.6L179.1 112.2L179.1 112.6L179.0 113.5L179.0 114.5L179.0 115.5L179.0 116.4L179.0 117.4L179.1 117.8L179.2 118.4L179.4 119.3L179.6 120.3L179.8 121.3L180.0 122.0L180.1 122.2L180.3 123.2L180.6 124.2L180.8 125.1L181.0 125.8L181.0 126.1L181.2 127.0L181.4 128.0L181.6 129.0L181.8 129.9L181.9 130.9L181.9 131.1L182.0 131.9L182.1 132.8L182.1 133.8L182.2 134.8L182.1 135.7L182.1 136.7L182.0 137.7L181.9 138.4L181.9 138.6L181.7 139.6L181.5 140.6L181.3 141.5L181.0 142.5L181.0 142.5L180.6 143.5L180.3 144.4L180.0 144.9L179.8 145.4L179.3 146.3L179.1 146.7L178.7 147.3L178.1 148.2L178.1 148.3L177.4 149.2L177.2 149.5L176.6 150.2L176.2 150.6L175.7 151.2L175.3 151.6L174.7 152.1L174.4 152.5L173.6 153.1L173.4 153.3L172.5 154.0L172.4 154.1L171.5 154.7L171.0 155.0L170.6 155.4L169.7 156.0L169.6 156.1L168.7 157.0L168.7 157.1L168.4 157.9L168.4 158.9L168.3 159.9L168.2 160.8L167.9 161.8L167.7 162.3L167.5 162.7L166.8 163.7L166.8 163.8L165.8 164.6L165.8 164.7L164.9 165.3L164.2 165.6L164.0 165.8L163.0 166.3L162.3 166.6L162.1 166.7L161.1 167.2L160.3 167.6L160.2 167.6L159.2 168.1L158.3 168.5L158.2 168.5L157.3 168.9L156.4 169.3L156.0 169.5L155.4 169.8L154.5 170.2L154.0 170.5L153.6 170.7L152.6 171.1L152.0 171.4L151.7 171.6L150.7 172.1L150.1 172.4L149.8 172.6L148.8 173.0L148.0 173.4L147.9 173.4L146.9 173.8L146.0 174.1L145.0 174.3L144.9 174.3L144.1 174.4L143.2 174.5L142.2 174.6L141.3 174.6L140.3 174.6L139.4 174.6L138.4 174.6L137.5 174.6L136.5 174.6L135.6 174.6L134.7 174.6L133.7 174.6L132.8 174.6L131.8 174.7L130.9 174.7L129.9 174.8L129.0 174.8L128.0 174.9L127.1 174.9L126.1 175.0L125.2 175.0L124.3 175.0L123.3 175.0L122.4 174.9L121.4 174.9L120.5 174.7L119.5 174.5L118.7 174.3L118.6 174.3L117.6 174.0L116.7 173.6L116.3 173.4L115.7 173.0L114.9 172.4L114.8 172.3L113.9 171.4L113.9 171.4L113.1 170.5L112.9 170.2L112.4 169.5L112.0 168.9L111.7 168.5L111.1 167.6L111.0 167.5L110.5 166.6L110.1 166.1L109.8 165.6L109.1 164.7L109.1 164.7L108.4 163.7L108.2 163.4L107.7 162.7L107.2 162.0L107.1 161.8L106.4 160.8L106.3 160.7L105.7 159.9L105.3 159.5L104.4 159.0L103.5 159.1L102.5 159.3L101.6 159.4L100.6 159.3L99.7 158.9L99.7 158.9L98.7 158.1L98.6 157.9L97.9 157.0L97.8 156.6L97.5 156.0L97.2 155.0L97.0 154.1L96.8 153.1L96.8 153.1L96.6 152.1L96.4 151.2L96.0 150.2L95.9 149.9L95.6 149.2L95.2 148.3L94.9 147.7L94.8 147.3L94.4 146.3L94.0 145.5L94.0 145.4L93.6 144.4L93.2 143.5L93.1 142.9L92.9 142.5L92.7 141.5L92.4 140.6L92.2 139.6L92.1 139.1L92.0 138.6L91.9 137.7L91.8 136.7L91.7 135.7L91.6 134.8L91.6 133.8L91.6 132.8L91.6 131.9L91.6 130.9L91.7 129.9L91.7 129.0L91.8 128.0L91.9 127.0L92.0 126.1L92.1 125.1L92.1 124.9L92.2 124.2L92.3 123.2L92.3 122.2L92.4 121.3L92.5 120.3L92.5 119.3L92.5 118.4L92.5 117.4L92.5 116.4L92.4 115.5L92.3 114.5L92.2 113.5L92.1 113.3L92.0 112.6L91.8 111.6L91.7 110.6L91.5 109.7L91.3 108.7L91.2 108.2L91.1 107.8L90.9 106.8L90.7 105.8L90.4 104.9L90.2 103.9L90.2 103.8L90.0 102.9L89.8 102.0L89.7 101.0L89.5 100.0L89.4 99.1L89.3 98.5L89.2 98.1L89.1 97.1L89.0 96.2L89.0 95.2L88.9 94.2L88.9 93.3L88.9 92.3L89.0 91.3L89.0 90.4L89.1 89.4L89.3 88.5L89.3 88.5L89.4 87.5L89.7 86.5L89.9 85.6L90.2 84.6L90.2 84.4L90.5 83.6L90.8 82.7L91.2 81.7L91.2 81.7L91.6 80.7L92.1 79.8L92.1 79.7L92.6 78.8L93.1 77.9L93.1 77.8L93.8 76.9L94.0 76.6L94.5 75.9L94.9 75.4L95.4 74.9L95.9 74.5L96.4 74.0L96.8 73.6L97.7 73.0L97.8 72.9L98.7 72.4L99.3 72.1L99.7 71.9L100.6 71.5L101.5 71.1L101.6 71.1L102.5 70.6L103.4 70.1L103.5 70.1L104.4 69.4L104.7 69.2L105.3 68.7L106.1 68.2L106.3 68.1L107.2 67.5L107.7 67.2L108.2 66.9L109.1 66.5L109.5 66.3L110.1 66.0L111.0 65.6L111.9 65.3L112.0 65.3L112.9 64.9L113.9 64.6L114.7 64.3L114.8 64.3L115.7 64.0L116.7 63.7L117.6 63.4L117.8 63.4L118.6 63.1L119.5 62.8L120.5 62.5L120.7 62.4L121.4 62.2L122.4 61.9L123.3 61.6Z" fill="#fd8c3b"/>
<path d="M128.7 64.3L129.0 64.3L129.9 64.3L130.9 64.3L131.1 64.3L131.8 64.4L132.8 64.4L133.7 64.6L134.7 64.7L135.6 64.8L136.5 65.0L137.5 65.2L137.7 65.3L138.4 65.5L139.4 65.9L140.1 66.3L140.3 66.3L141.3 66.9L141.8 67.2L142.2 67.5L143.2 68.1L143.2 68.2L144.1 68.9L144.5 69.2L145.0 69.7L145.6 70.1L146.0 70.5L146.6 71.1L146.9 71.4L147.6 72.1L147.9 72.4L148.5 73.0L148.8 73.4L149.3 74.0L149.8 74.5L150.2 74.9L150.7 75.6L151.0 75.9L151.7 76.6L151.9 76.9L152.6 77.6L152.8 77.8L153.6 78.5L153.9 78.8L154.5 79.3L155.2 79.8L155.4 79.9L156.4 80.4L157.0 80.7L157.3 80.8L158.3 81.1L159.2 81.3L160.2 81.4L161.1 81.4L162.1 81.3L163.0 81.1L164.0 80.9L164.8 80.7L164.9 80.7L165.8 80.7L166.0 80.7L166.8 81.0L167.7 81.6L167.8 81.7L168.7 82.6L168.7 82.7L169.4 83.6L169.6 83.9L170.1 84.6L170.6 85.4L170.7 85.6L171.2 86.5L171.5 87.0L171.8 87.5L172.3 88.5L172.5 88.9L172.7 89.4L173.1 90.4L173.4 91.2L173.5 91.3L173.8 92.3L174.1 93.3L174.3 94.2L174.4 94.3L174.6 95.2L174.8 96.2L174.9 97.1L175.1 98.1L175.2 99.1L175.3 100.0L175.3 100.7L175.3 101.0L175.4 102.0L175.4 102.9L175.4 103.9L175.4 104.9L175.4 105.8L175.4 106.8L175.4 107.8L175.4 108.7L175.4 109.7L175.4 110.6L175.4 111.6L175.4 112.6L175.5 113.5L175.5 114.5L175.5 115.5L175.6 116.4L175.7 117.4L175.8 118.4L175.9 119.3L176.1 120.3L176.2 121.0L176.3 121.3L176.5 122.2L176.7 123.2L176.9 124.2L177.1 125.1L177.2 125.5L177.3 126.1L177.5 127.0L177.7 128.0L177.8 129.0L178.0 129.9L178.1 130.9L178.1 131.1L178.2 131.9L178.3 132.8L178.3 133.8L178.3 134.8L178.3 135.7L178.3 136.7L178.2 137.7L178.1 138.1L178.1 138.6L177.9 139.6L177.7 140.6L177.5 141.5L177.2 142.4L177.2 142.5L176.8 143.5L176.4 144.4L176.2 144.8L176.0 145.4L175.5 146.3L175.3 146.7L174.9 147.3L174.4 148.2L174.3 148.3L173.6 149.2L173.4 149.5L172.8 150.2L172.5 150.6L172.0 151.2L171.5 151.7L171.1 152.1L170.6 152.7L170.2 153.1L169.6 153.6L169.2 154.1L168.7 154.6L168.3 155.0L167.7 155.8L167.6 156.0L167.2 157.0L167.0 157.9L166.8 158.6L166.7 158.9L166.1 159.9L165.8 160.4L165.4 160.8L164.9 161.2L164.0 161.5L163.0 161.5L162.2 161.8L162.1 161.8L161.1 162.3L160.4 162.7L160.2 162.9L159.2 163.5L158.9 163.7L158.3 164.1L157.4 164.7L157.3 164.7L156.4 165.3L155.9 165.6L155.4 165.9L154.5 166.5L154.3 166.6L153.6 167.0L152.7 167.6L152.6 167.6L151.7 168.1L150.9 168.5L150.7 168.7L149.8 169.2L149.1 169.5L148.8 169.6L147.9 170.0L146.9 170.4L146.8 170.5L146.0 170.8L145.0 171.1L144.1 171.3L143.3 171.4L143.2 171.5L142.2 171.6L141.3 171.7L140.3 171.8L139.4 171.8L138.4 171.9L137.5 171.9L136.5 171.9L135.6 172.0L134.6 172.0L133.7 172.0L132.8 172.0L131.8 172.0L130.9 172.0L129.9 172.0L129.0 172.0L128.0 172.0L127.1 172.0L126.1 172.0L125.2 172.0L124.3 171.9L123.3 171.8L122.4 171.6L121.4 171.4L121.4 171.4L120.5 171.2L119.5 170.8L118.7 170.5L118.6 170.4L117.6 169.9L117.1 169.5L116.7 169.2L115.9 168.5L115.7 168.4L114.9 167.6L114.8 167.5L114.0 166.6L113.9 166.5L113.1 165.6L112.9 165.4L112.3 164.7L112.0 164.3L111.4 163.7L111.0 163.3L110.5 162.7L110.1 162.3L109.6 161.8L109.1 161.3L108.6 160.8L108.2 160.4L107.6 159.9L107.2 159.6L106.5 158.9L106.3 158.8L105.3 158.0L105.1 157.9L104.4 157.4L103.5 157.1L102.5 157.2L102.0 157.0L101.8 156.0L102.5 155.2L102.8 155.0L103.5 154.8L104.4 154.2L104.5 154.1L104.8 153.1L104.4 152.1L104.4 152.1L103.6 151.2L103.5 151.0L102.6 150.2L102.5 150.1L101.6 149.2L101.6 149.2L100.7 148.3L100.6 148.2L99.9 147.3L99.7 147.0L99.2 146.3L98.7 145.6L98.6 145.4L98.1 144.4L97.8 143.8L97.6 143.5L97.2 142.5L96.9 141.5L96.8 141.2L96.7 140.6L96.4 139.6L96.2 138.6L96.1 137.7L96.0 136.7L95.9 135.7L95.9 134.8L95.9 133.8L95.9 132.8L96.0 131.9L96.1 130.9L96.1 129.9L96.3 129.0L96.4 128.0L96.5 127.0L96.6 126.1L96.8 125.1L96.8 124.7L96.9 124.2L97.1 123.2L97.2 122.2L97.3 121.3L97.4 120.3L97.5 119.3L97.6 118.4L97.6 117.4L97.6 116.4L97.5 115.5L97.4 114.5L97.3 113.5L97.1 112.6L97.0 111.6L96.8 110.9L96.8 110.6L96.6 109.7L96.4 108.7L96.2 107.8L96.0 106.8L95.9 106.5L95.7 105.8L95.5 104.9L95.3 103.9L95.1 102.9L94.9 102.4L94.9 102.0L94.7 101.0L94.5 100.0L94.3 99.1L94.1 98.1L94.0 97.1L94.0 97.1L93.9 96.2L93.8 95.2L93.7 94.2L93.7 93.3L93.7 92.3L93.7 91.3L93.8 90.4L93.9 89.4L94.0 88.5L94.0 88.4L94.2 87.5L94.4 86.5L94.6 85.6L94.9 84.6L94.9 84.3L95.2 83.6L95.5 82.7L95.9 81.7L95.9 81.6L96.3 80.7L96.7 79.8L96.8 79.6L97.3 78.8L97.8 78.0L97.9 77.8L98.6 76.9L98.7 76.7L99.5 75.9L99.7 75.7L100.6 75.1L101.0 74.9L101.6 74.7L102.5 74.5L103.5 74.4L104.4 74.3L105.2 74.0L105.3 73.9L106.3 73.0L106.3 73.0L107.1 72.1L107.2 72.0L108.2 71.1L108.2 71.1L109.1 70.3L109.4 70.1L110.1 69.7L111.0 69.2L111.0 69.1L112.0 68.7L112.9 68.3L113.1 68.2L113.9 67.9L114.8 67.6L115.7 67.2L115.8 67.2L116.7 66.9L117.6 66.7L118.6 66.4L119.0 66.3L119.5 66.1L120.5 65.8L121.4 65.6L122.4 65.3L122.5 65.3L123.3 65.1L124.3 64.9L125.2 64.7L126.1 64.6L127.1 64.4L128.0 64.4ZM164.8 74.9L164.9 74.7L165.8 74.6L166.1 74.9L166.1 75.9L165.8 76.1L164.9 75.9L164.9 75.9Z" fill="#f4721e"/>
<path d="M125.7 68.2L126.1 68.1L127.1 68.0L128.0 67.9L129.0 67.8L129.9 67.8L130.9 67.8L131.8 67.8L132.8 67.8L133.7 67.9L134.7 68.1L135.1 68.2L135.6 68.3L136.5 68.6L137.5 68.9L138.0 69.2L138.4 69.4L139.4 69.9L139.7 70.1L140.3 70.5L141.0 71.1L141.3 71.3L142.2 72.1L142.2 72.1L143.1 73.0L143.2 73.0L144.0 74.0L144.1 74.1L144.8 74.9L145.0 75.2L145.6 75.9L146.0 76.4L146.4 76.9L146.9 77.6L147.2 77.8L147.9 78.7L148.0 78.8L148.8 79.7L148.9 79.8L149.8 80.6L149.9 80.7L150.7 81.4L151.1 81.7L151.7 82.1L152.6 82.6L152.8 82.7L153.6 83.0L154.5 83.3L155.4 83.5L156.0 83.6L156.4 83.7L157.3 83.8L158.3 83.7L159.2 83.7L159.4 83.6L160.2 83.5L161.1 83.3L162.1 83.0L162.9 82.7L163.0 82.6L164.0 82.3L164.9 82.1L165.8 82.3L166.4 82.7L166.8 83.1L167.2 83.6L167.7 84.5L167.8 84.6L168.2 85.6L168.6 86.5L168.7 86.7L169.0 87.5L169.3 88.5L169.6 89.4L169.6 89.5L169.9 90.4L170.1 91.3L170.3 92.3L170.5 93.3L170.6 93.7L170.7 94.2L170.8 95.2L170.9 96.2L171.0 97.1L171.1 98.1L171.1 99.1L171.1 100.0L171.2 101.0L171.2 102.0L171.2 102.9L171.2 103.9L171.2 104.9L171.3 105.8L171.3 106.8L171.3 107.8L171.4 108.7L171.4 109.7L171.5 110.6L171.5 110.8L171.6 111.6L171.7 112.6L171.8 113.5L171.9 114.5L172.0 115.5L172.2 116.4L172.3 117.4L172.4 118.4L172.5 118.7L172.5 119.3L172.7 120.3L172.8 121.3L173.0 122.2L173.1 123.2L173.3 124.2L173.4 124.7L173.5 125.1L173.7 126.1L173.8 127.0L174.0 128.0L174.1 129.0L174.3 129.9L174.4 130.5L174.4 130.9L174.5 131.9L174.6 132.8L174.6 133.8L174.6 134.8L174.6 135.7L174.6 136.7L174.5 137.7L174.4 138.6L174.4 139.0L174.3 139.6L174.1 140.6L173.9 141.5L173.6 142.5L173.4 143.1L173.3 143.5L172.9 144.4L172.5 145.4L172.5 145.5L172.1 146.3L171.6 147.3L171.5 147.5L171.1 148.3L170.6 149.1L170.5 149.2L169.9 150.2L169.6 150.5L169.2 151.2L168.7 151.8L168.5 152.1L167.7 153.1L167.7 153.1L166.9 154.1L166.8 154.2L166.0 155.0L165.8 155.2L164.9 155.5L164.0 155.3L163.0 155.3L162.1 155.5L161.1 156.0L161.1 156.0L160.2 156.8L160.0 157.0L159.2 157.8L159.1 157.9L158.3 158.7L158.1 158.9L157.3 159.7L157.1 159.9L156.4 160.6L156.1 160.8L155.4 161.4L155.0 161.8L154.5 162.2L153.9 162.7L153.6 163.0L152.7 163.7L152.6 163.8L151.7 164.4L151.3 164.7L150.7 165.1L149.8 165.6L149.8 165.7L148.8 166.2L148.1 166.6L147.9 166.7L146.9 167.2L146.0 167.6L146.0 167.6L145.0 167.9L144.1 168.2L143.2 168.4L142.5 168.5L142.2 168.6L141.3 168.7L140.3 168.9L139.4 168.9L138.4 169.0L137.5 169.0L136.5 169.0L135.6 169.0L134.7 169.0L133.7 169.0L132.8 169.1L131.8 169.1L130.9 169.1L129.9 169.1L129.0 169.1L128.0 169.1L127.1 169.1L126.1 169.0L125.2 168.9L124.3 168.8L123.3 168.6L123.0 168.5L122.4 168.4L121.4 168.1L120.5 167.7L120.2 167.6L119.5 167.2L118.6 166.7L118.5 166.6L117.6 166.0L117.2 165.6L116.7 165.2L116.1 164.7L115.7 164.3L115.1 163.7L114.8 163.4L114.1 162.7L113.9 162.5L113.0 161.8L112.9 161.7L112.0 161.0L111.8 160.8L111.0 160.3L110.4 159.9L110.1 159.6L109.1 159.0L108.9 158.9L108.2 158.4L107.3 157.9L107.2 157.9L106.3 157.2L106.1 157.0L106.1 156.0L106.3 155.5L106.5 155.0L106.9 154.1L107.0 153.1L106.9 152.1L106.6 151.2L106.3 150.4L106.2 150.2L105.6 149.2L105.3 148.8L105.0 148.3L104.4 147.5L104.2 147.3L103.5 146.3L103.5 146.3L102.7 145.4L102.5 145.0L102.1 144.4L101.6 143.5L101.6 143.4L101.2 142.5L100.8 141.5L100.6 140.7L100.6 140.6L100.4 139.6L100.2 138.6L100.2 137.7L100.1 136.7L100.1 135.7L100.1 134.8L100.2 133.8L100.3 132.8L100.4 131.9L100.5 130.9L100.6 130.4L100.7 129.9L100.9 129.0L101.0 128.0L101.2 127.0L101.4 126.1L101.6 125.2L101.6 125.1L101.8 124.2L101.9 123.2L102.1 122.2L102.3 121.3L102.4 120.3L102.5 119.4L102.5 119.3L102.6 118.4L102.7 117.4L102.7 116.4L102.6 115.5L102.5 114.5L102.5 114.1L102.5 113.5L102.3 112.6L102.2 111.6L102.1 110.6L101.9 109.7L101.7 108.7L101.6 107.9L101.5 107.8L101.3 106.8L101.1 105.8L100.9 104.9L100.7 103.9L100.6 103.8L100.4 102.9L100.2 102.0L99.9 101.0L99.7 100.0L99.7 99.9L99.5 99.1L99.3 98.1L99.1 97.1L99.0 96.2L98.8 95.2L98.7 94.4L98.7 94.2L98.6 93.3L98.6 92.3L98.6 91.3L98.7 90.4L98.7 89.8L98.8 89.4L98.9 88.5L99.1 87.5L99.4 86.5L99.7 85.7L99.7 85.6L100.2 84.6L100.6 83.7L100.6 83.6L101.3 82.7L101.6 82.2L102.0 81.7L102.5 81.0L102.9 80.7L103.5 80.1L104.4 79.9L104.5 79.8L104.4 78.9L103.5 79.0L103.3 78.8L103.2 77.8L103.5 77.7L104.4 77.8L105.3 77.2L105.6 76.9L106.3 76.3L106.7 75.9L107.2 75.4L107.7 74.9L108.2 74.5L108.8 74.0L109.1 73.7L110.1 73.1L110.1 73.0L111.0 72.5L111.8 72.1L112.0 72.0L112.9 71.5L113.9 71.2L114.0 71.1L114.8 70.8L115.7 70.5L116.7 70.2L117.1 70.1L117.6 70.0L118.6 69.7L119.5 69.5L120.5 69.3L120.9 69.2L121.4 69.0L122.4 68.8L123.3 68.6L124.3 68.4L125.2 68.3Z" fill="#e65a0b"/>
<path d="M126.3 72.1L127.1 71.9L128.0 71.8L129.0 71.7L129.9 71.6L130.9 71.5L131.8 71.5L132.8 71.6L133.7 71.6L134.7 71.8L135.3 72.1L135.6 72.2L136.5 72.7L137.0 73.0L137.5 73.4L138.3 74.0L138.4 74.1L139.3 74.9L139.4 75.1L140.1 75.9L140.3 76.2L140.8 76.9L141.3 77.5L141.5 77.8L142.1 78.8L142.2 79.0L142.6 79.8L143.2 80.7L143.2 80.7L143.8 81.7L144.1 82.2L144.4 82.7L145.0 83.6L145.1 83.6L145.9 84.6L146.0 84.7L146.9 85.5L147.0 85.6L147.9 86.3L148.3 86.5L148.8 86.8L149.8 87.2L150.6 87.5L150.7 87.5L151.7 87.8L152.6 87.9L153.6 88.0L154.5 88.0L155.4 88.0L156.4 87.9L157.3 87.7L158.3 87.5L158.4 87.5L159.2 87.3L160.2 87.1L161.1 86.7L161.7 86.5L162.1 86.4L163.0 86.2L164.0 86.2L164.3 86.5L164.9 87.5L164.9 87.6L165.1 88.5L165.4 89.4L165.6 90.4L165.7 91.3L165.8 92.1L165.9 92.3L165.9 93.3L166.0 94.2L166.0 95.2L166.0 96.2L166.0 97.1L166.0 98.1L166.0 99.1L165.9 100.0L165.9 101.0L165.8 101.8L165.8 102.0L165.8 102.9L165.8 103.9L165.8 104.9L165.8 105.8L165.8 106.8L165.8 107.2L165.9 107.8L166.0 108.7L166.1 109.7L166.3 110.6L166.4 111.6L166.7 112.6L166.8 113.0L166.9 113.5L167.2 114.5L167.5 115.5L167.7 116.4L167.7 116.4L168.0 117.4L168.1 118.4L168.3 119.3L168.5 120.3L168.6 121.3L168.7 121.6L168.8 122.2L169.0 123.2L169.1 124.2L169.3 125.1L169.5 126.1L169.6 126.5L169.7 127.0L169.9 128.0L170.1 129.0L170.3 129.9L170.4 130.9L170.5 131.9L170.6 132.3L170.6 132.8L170.7 133.8L170.7 134.8L170.7 135.7L170.7 136.7L170.7 137.7L170.6 138.6L170.6 139.0L170.5 139.6L170.4 140.6L170.2 141.5L170.0 142.5L169.8 143.5L169.6 143.9L169.5 144.4L169.2 145.4L168.8 146.3L168.7 146.8L168.5 147.3L168.1 148.3L167.7 149.0L167.6 149.2L167.1 150.2L166.8 150.8L166.5 151.2L165.9 152.1L165.8 152.2L164.9 153.0L164.5 153.1L164.0 153.2L163.0 153.3L162.1 153.4L161.1 153.6L160.2 154.0L159.9 154.1L159.2 154.4L158.3 154.9L158.1 155.0L157.3 155.6L156.7 156.0L156.4 156.2L155.4 156.9L155.4 157.0L154.5 157.7L154.2 157.9L153.6 158.5L153.2 158.9L152.6 159.4L152.2 159.9L151.7 160.3L151.1 160.8L150.7 161.2L150.0 161.8L149.8 161.9L148.8 162.6L148.7 162.7L147.9 163.3L147.1 163.7L146.9 163.8L146.0 164.3L145.1 164.7L145.0 164.7L144.1 165.0L143.2 165.3L142.2 165.5L141.6 165.6L141.3 165.7L140.3 165.8L139.4 165.9L138.4 166.0L137.5 166.0L136.5 166.0L135.6 166.0L134.7 166.0L133.7 166.0L132.8 166.0L131.8 166.0L130.9 166.0L129.9 166.0L129.0 166.0L128.0 166.0L127.1 166.0L126.1 165.9L125.2 165.8L124.3 165.6L124.3 165.6L123.3 165.4L122.4 165.1L121.4 164.7L121.3 164.7L120.5 164.2L119.7 163.7L119.5 163.6L118.6 162.9L118.4 162.7L117.6 162.0L117.4 161.8L116.7 161.0L116.5 160.8L115.7 160.1L115.4 159.9L114.8 159.4L113.9 158.9L113.9 158.9L112.9 158.4L112.0 157.9L112.0 157.9L111.0 157.4L110.3 157.0L110.1 156.7L109.4 156.0L109.1 155.1L109.1 155.0L109.1 154.1L109.0 153.1L108.9 152.1L108.6 151.2L108.4 150.2L108.2 149.7L108.0 149.2L107.7 148.3L107.2 147.3L107.2 147.3L106.8 146.3L106.3 145.5L106.2 145.4L105.7 144.4L105.3 143.7L105.2 143.5L104.8 142.5L104.6 141.5L104.5 140.6L104.4 139.9L104.4 139.6L104.4 138.6L104.4 137.9L104.4 137.7L104.5 136.7L104.7 135.7L104.8 134.8L105.1 133.8L105.3 132.8L105.3 132.6L105.6 131.9L105.8 130.9L106.1 129.9L106.3 129.4L106.4 129.0L106.7 128.0L106.9 127.0L107.2 126.1L107.2 125.7L107.4 125.1L107.5 124.2L107.6 123.2L107.7 122.2L107.8 121.3L107.8 120.3L107.8 119.3L107.8 118.4L107.8 117.4L107.9 116.4L108.0 115.5L108.2 114.5L108.2 114.3L108.3 113.5L108.4 112.6L108.5 111.6L108.5 110.6L108.5 109.7L108.4 108.7L108.3 107.8L108.2 106.8L108.2 106.8L108.0 105.8L107.8 104.9L107.5 103.9L107.2 103.1L107.2 102.9L106.9 102.0L106.5 101.0L106.3 100.3L106.2 100.0L105.9 99.1L105.5 98.1L105.3 97.5L105.2 97.1L105.0 96.2L104.7 95.2L104.5 94.2L104.4 93.7L104.3 93.3L104.2 92.3L104.1 91.3L104.1 90.4L104.2 89.4L104.4 88.5L104.4 88.3L104.6 87.5L105.0 86.5L105.3 86.0L105.6 85.6L106.3 84.7L106.3 84.6L107.0 83.6L107.2 83.2L107.5 82.7L107.9 81.7L108.1 80.7L108.2 80.0L108.2 79.8L108.3 78.8L108.5 77.8L109.1 76.9L109.2 76.9L110.1 76.2L110.7 75.9L111.0 75.7L112.0 75.3L112.8 74.9L112.9 74.9L113.9 74.6L114.8 74.3L115.7 74.0L116.0 74.0L116.7 73.8L117.6 73.6L118.6 73.4L119.5 73.2L120.5 73.1L120.8 73.0L121.4 72.9L122.4 72.7L123.3 72.6L124.3 72.4L125.2 72.2L126.1 72.1ZM134.7 108.7L134.4 108.7L133.7 108.8L132.8 109.1L131.8 109.5L131.4 109.7L130.9 110.0L129.9 110.6L129.8 110.6L129.0 111.3L128.7 111.6L128.0 112.3L127.8 112.6L127.1 113.5L127.0 113.5L126.4 114.5L126.1 115.0L125.9 115.5L125.5 116.4L125.2 117.1L125.1 117.4L124.7 118.4L124.4 119.3L124.3 120.0L124.2 120.3L123.9 121.3L123.8 122.2L123.7 123.2L123.6 124.2L123.6 125.1L123.7 126.1L123.8 127.0L124.1 128.0L124.3 128.6L124.4 129.0L124.8 129.9L125.2 130.6L125.3 130.9L126.1 131.9L126.1 132.0L127.0 132.8L127.1 132.9L128.0 133.6L128.3 133.8L129.0 134.2L129.9 134.6L130.3 134.8L130.9 135.0L131.8 135.3L132.8 135.6L133.4 135.7L133.7 135.8L134.7 135.8L135.4 135.7L135.6 135.7L136.5 135.4L137.5 135.0L138.2 134.8L138.4 134.7L139.4 134.3L140.3 133.8L140.4 133.8L141.3 133.3L142.1 132.8L142.2 132.8L143.2 132.1L143.5 131.9L144.1 131.3L144.5 130.9L145.0 130.2L145.2 129.9L145.8 129.0L146.0 128.5L146.2 128.0L146.5 127.0L146.8 126.1L146.9 125.1L146.9 125.1L147.1 124.2L147.2 123.2L147.2 122.2L147.2 121.3L147.2 120.3L147.1 119.3L146.9 118.5L146.9 118.4L146.6 117.4L146.3 116.4L146.0 115.8L145.8 115.5L145.3 114.5L145.0 114.1L144.6 113.5L144.1 112.9L143.8 112.6L143.2 111.9L142.8 111.6L142.2 111.1L141.6 110.6L141.3 110.4L140.3 109.8L140.0 109.7L139.4 109.4L138.4 109.0L137.5 108.8L137.0 108.7L136.5 108.6L135.6 108.6Z" fill="#d04501"/>
<path d="M127.7 76.9L128.0 76.8L129.0 76.8L129.9 76.9L129.9 76.9L130.9 77.1L131.8 77.4L132.8 77.7L133.2 77.8L133.7 78.1L134.7 78.7L134.7 78.8L135.3 79.8L135.6 80.7L135.6 81.0L135.7 81.7L135.6 82.7L135.6 82.7L135.4 83.6L135.1 84.6L134.6 85.6L134.6 85.6L134.3 86.5L133.9 87.5L133.7 87.9L133.4 88.5L132.8 89.4L132.8 89.5L132.0 90.4L131.8 90.6L131.1 91.3L130.9 91.5L129.9 92.3L129.8 92.3L129.0 92.9L128.3 93.3L128.0 93.4L127.1 93.9L126.3 94.2L126.1 94.3L125.2 94.7L124.3 95.0L123.3 95.2L123.3 95.2L122.4 95.4L121.4 95.5L120.5 95.6L119.5 95.6L118.6 95.5L117.6 95.3L117.3 95.2L116.7 95.0L115.7 94.5L115.3 94.2L114.8 93.9L114.2 93.3L113.9 93.0L113.4 92.3L112.9 91.5L112.8 91.3L112.4 90.4L112.2 89.4L112.1 88.5L112.0 87.5L112.1 86.5L112.2 85.6L112.4 84.6L112.6 83.6L112.8 82.7L112.9 82.2L113.1 81.7L113.7 80.7L113.9 80.5L114.7 79.8L114.8 79.7L115.7 79.3L116.7 79.0L117.3 78.8L117.6 78.7L118.6 78.5L119.5 78.4L120.5 78.2L121.4 78.1L122.4 77.9L122.7 77.8L123.3 77.8L124.3 77.6L125.2 77.4L126.1 77.2L127.1 77.0ZM158.3 125.1L158.3 125.1L159.2 124.9L160.2 124.9L160.9 125.1L161.1 125.2L162.1 125.9L162.3 126.1L163.0 126.9L163.1 127.0L163.7 128.0L164.0 128.4L164.2 129.0L164.7 129.9L164.9 130.5L165.0 130.9L165.3 131.9L165.5 132.8L165.6 133.8L165.7 134.8L165.8 135.7L165.8 135.9L165.9 136.7L165.9 137.7L165.9 138.6L165.9 139.6L165.9 140.6L165.8 140.9L165.8 141.5L165.7 142.5L165.5 143.5L165.4 144.4L165.1 145.4L164.9 146.3L164.9 146.4L164.6 147.3L164.2 148.3L164.0 148.7L163.5 149.2L163.0 149.7L162.2 150.2L162.1 150.3L161.1 150.6L160.2 151.0L159.7 151.2L159.2 151.3L158.3 151.6L157.3 152.0L157.0 152.1L156.4 152.4L155.4 152.8L155.0 153.1L154.5 153.4L153.6 154.0L153.5 154.1L152.6 154.8L152.4 155.0L151.7 155.7L151.4 156.0L150.7 156.7L150.4 157.0L149.8 157.6L149.5 157.9L148.8 158.6L148.5 158.9L147.9 159.4L147.3 159.9L146.9 160.2L146.0 160.7L145.9 160.8L145.0 161.2L144.1 161.6L143.7 161.8L143.2 162.0L142.2 162.2L141.3 162.4L140.3 162.5L139.4 162.5L138.4 162.5L137.5 162.4L136.5 162.3L135.6 162.2L134.7 162.2L133.7 162.1L132.8 162.2L131.8 162.2L130.9 162.3L129.9 162.3L129.0 162.4L128.0 162.5L127.1 162.5L126.1 162.5L125.2 162.4L124.3 162.2L123.3 162.0L122.7 161.8L122.4 161.6L121.4 161.2L120.9 160.8L120.5 160.5L119.9 159.9L119.5 159.4L119.2 158.9L118.9 157.9L118.6 157.0L118.6 156.9L117.6 156.2L117.2 156.0L116.7 155.8L115.7 155.4L114.8 155.1L114.6 155.0L113.9 154.7L112.9 154.2L112.8 154.1L112.0 153.2L111.9 153.1L111.4 152.1L111.0 151.4L110.9 151.2L110.6 150.2L110.4 149.2L110.2 148.3L110.1 147.7L110.0 147.3L109.8 146.3L109.7 145.4L109.5 144.4L109.4 143.5L109.3 142.5L109.4 141.5L109.5 140.6L109.8 139.6L110.1 138.8L110.2 138.6L110.7 137.7L111.0 137.2L111.5 136.7L112.0 136.3L112.7 135.7L112.9 135.6L113.9 135.2L114.8 135.1L115.7 135.1L116.7 135.3L117.6 135.7L117.7 135.7L118.6 136.1L119.5 136.7L119.6 136.7L120.5 137.2L121.3 137.7L121.4 137.7L122.4 138.2L123.3 138.5L123.6 138.6L124.3 138.8L125.2 138.9L126.1 138.9L127.1 138.8L128.0 138.7L128.7 138.6L129.0 138.6L129.9 138.5L130.9 138.4L131.8 138.3L132.8 138.3L133.7 138.3L134.7 138.3L135.6 138.2L136.5 138.1L137.5 138.1L138.4 138.0L139.4 138.0L140.3 137.9L141.3 137.9L142.2 137.9L143.2 137.9L144.1 137.8L145.0 137.8L145.8 137.7L146.0 137.6L146.9 137.4L147.9 137.1L148.6 136.7L148.8 136.6L149.8 135.8L149.8 135.7L150.7 134.8L150.7 134.7L151.3 133.8L151.7 133.2L151.9 132.8L152.4 131.9L152.6 131.4L152.9 130.9L153.5 129.9L153.6 129.8L154.1 129.0L154.5 128.4L154.8 128.0L155.4 127.2L155.6 127.0L156.4 126.3L156.7 126.1L157.3 125.6Z" fill="#a93703"/>
<path d="M132.8 140.6L133.7 140.3L134.7 140.1L135.6 140.2L136.5 140.4L137.4 140.6L137.5 140.6L138.4 140.9L139.4 141.2L140.3 141.5L140.3 141.5L141.3 142.0L142.2 142.4L142.3 142.5L143.2 143.0L143.9 143.5L144.1 143.6L145.0 144.4L145.0 144.4L146.0 145.4L146.0 145.4L146.8 146.3L146.9 146.5L147.6 147.3L147.9 147.7L148.3 148.3L148.8 149.2L148.8 149.5L149.0 150.2L149.0 151.2L148.8 152.0L148.8 152.1L148.5 153.1L148.0 154.1L147.9 154.3L147.4 155.0L146.9 155.6L146.6 156.0L146.0 156.5L145.4 157.0L145.0 157.2L144.1 157.6L143.2 157.8L142.2 157.9L141.3 157.8L140.3 157.5L139.4 157.1L139.2 157.0L138.4 156.5L137.9 156.0L137.5 155.7L136.8 155.0L136.5 154.8L135.6 154.1L135.6 154.1L134.7 153.8L133.7 153.9L133.3 154.1L132.8 154.4L131.9 155.0L131.8 155.1L130.9 155.8L130.7 156.0L129.9 156.5L129.2 157.0L129.0 157.1L128.0 157.5L127.1 157.8L126.1 157.9L125.8 157.9L125.2 157.9L125.1 157.9L124.3 157.8L123.3 157.4L122.7 157.0L122.4 156.6L122.0 156.0L121.4 155.1L121.4 155.0L120.8 154.1L120.5 153.7L120.0 153.1L119.5 152.6L118.9 152.1L118.6 151.8L117.6 151.2L117.6 151.2L116.7 150.5L116.1 150.2L115.7 149.8L115.2 149.2L114.8 148.3L114.9 147.3L115.4 146.3L115.7 145.9L116.5 145.4L116.7 145.3L117.6 145.0L118.6 144.9L119.5 144.9L120.5 145.0L121.4 145.0L122.4 145.0L123.3 144.9L124.3 144.8L125.2 144.6L125.6 144.4L126.1 144.2L127.1 143.8L127.6 143.5L128.0 143.2L129.0 142.6L129.2 142.5L129.9 142.0L130.8 141.5L130.9 141.5L131.8 141.0L132.8 140.6Z" fill="#8c2c04"/>
<ellipse cx="133.2" cy="115.9" rx="17" ry="17" transform="rotate(0 133.2 115.9)" fill="#e65a0b"/>
<ellipse cx="134.7" cy="117.4" rx="12.8" ry="13.2" transform="rotate(0 134.7 117.4)" fill="#f4721e"/>
<ellipse cx="134.7" cy="117.4" rx="10.8" ry="11.2" transform="rotate(0 134.7 117.4)" fill="#fd8c3b"/>
</g>
<g fill="none" stroke="#000" stroke-opacity="0.62" stroke-width="0.75" stroke-dasharray="2 0.65"><ellipse cx="134.65" cy="117.4" rx="85.55" ry="87.32"/><ellipse cx="134.65" cy="117.4" rx="39.70" ry="40.52"/><ellipse cx="134.65" cy="117.4" rx="12.96" ry="13.23"/></g>
<g fill="none" stroke="#000" stroke-opacity="0.68" stroke-width="0.75" stroke-dasharray="2.3 1.1"><path d="M134.65 130.63L134.65 223.30"/><path d="M147.61 117.40L238.40 117.40"/><path d="M134.65 104.17L134.65 11.50"/><path d="M121.69 117.40L30.90 117.40"/></g>
<g fill="none" stroke="#000" stroke-opacity="0.62" stroke-width="0.7" stroke-dasharray="2 0.5"><path d="M141.13 128.86L186.53 209.11"/><path d="M145.88 124.02L224.50 170.35"/><path d="M145.88 110.78L224.50 64.45"/><path d="M141.13 105.94L186.53 25.69"/><path d="M128.17 105.94L82.77 25.69"/><path d="M123.42 110.78L44.80 64.45"/><path d="M123.42 124.02L44.80 170.35"/><path d="M128.17 128.86L82.77 209.11"/></g>
<g clip-path="url(#coa)" fill="none" stroke="#000" stroke-width="1.15" stroke-linejoin="round" stroke-linecap="round"><path d="M34 92.4L39.6 90.8L46 88.7L50 87.1L51.6 84.4L53.2 82L56.4 80.7L62 80.4L66 78.8L68.4 78.3L73.2 78.5L77.2 79.1L81.2 81.2L86 83.6L90.8 84.9L97.2 84.9L103.6 84.9L110 84.6L112 85L114.5 82.5L116 79L117 78L119.5 78.5L122 79L124 79.5L125 81.5L124.5 83.5L125.5 85.5L126.4 88L126.2 91L123.8 93L120.6 94.2L118.2 95L116.2 96.6L114.6 98.6L113.8 101L111.4 103.4L109.8 104.2L111 105L114.2 104.6L116.2 105.4L116.2 107L114.2 107.8L113 109L110.6 110.6L107.8 111L106.2 111.8L107 113.4L109.8 114.2L112.2 113.8L113.4 115L111.8 116.2L109 116.6L107 117L106.6 118.6L108.2 119.4L111 119L113 119.4L113 121.4L111 122.6L108.6 123.4L107.6 122.4L104.4 121.6L102 120.8L101.2 118.4L99.6 116.4L97.6 114.8L95.2 113.6L92.8 114L90.8 115.6L89.6 118.4L88 121.2L86 123.6L83.2 126L86 127.6L90 128L94 127.6L97.2 127.2L98.4 129.2L97.6 132L96.4 134.4L96.9 135.6L95.6 139.6L93.2 142.8L90.5 144.4L89.5 147.6L88.4 150L87.3 148.4L86.8 144.4L87.1 141.2L85.2 139.6L82.8 142L80.4 144.4L78 144.4L77.2 140.4L74 138L69.2 135.6L65.2 134.4L59.6 134.2L58 133.4L54.8 131L51.6 129.4L48.8 129L49.2 127L50 122.2L49.8 117.4L49.6 113.4L48.8 109.4L46.8 106.2L44.4 104.6L39.6 103.4L35.6 102.8L33.2 103.4L31.6 104.6"/><path d="M101.6 124L101.2 128.8L102 130.8L104.4 131.2L106.8 129.6L109.2 127.2L111.6 124L113.6 120.8L114.8 118.8L113 119.4L111 122.6L108.6 123.4L104.4 121.6L102 120.8L101.6 124Z"/><path d="M117.4 117L119.8 116.2L122.2 117L124.6 118.6L125 119.8L122.2 120.2L119 119.4L117.8 118.2Z"/><path d="M117 123L120 123.5L123 123L126 124L128.5 124.5L130 126L130.5 129L129.5 130L128 133L126.5 136L124.8 134L120.8 137.2L117.6 140.4L112.8 142L108.8 145.2L106.4 144.5L109.6 139.6L111 137L112 134L113 131L114 126L117 123Z"/><path d="M122.4 148.2L124.5 147.6L126.4 148.4L125.6 150L123.2 150Z"/><path d="M128 164.4L131.2 163.2L133.6 166L135 169.2L133.6 170L130.4 168.4L128.8 166.8Z"/><path d="M132 86.5L135 89L138.5 89.5L140 90.5L143 92L146 94L147.5 96L149.5 98.5L152 100L153.5 102L154.4 105L153.6 108.2L152 111.4L149.6 113.4L146.8 115.4L147.2 116.6L148.8 114.6L152.4 114.6L153.6 116.2L154.8 118.2L156 120.6L156.8 123.4L156.4 125.8L158 127L159.2 129L158.8 130.6L158 133L157.6 135.4L156.8 137.8L155.2 139.4L152 140.2L148 141L145.6 142.2L144 144.2L142.4 147.6L140 152.4L139.2 156.4L140 158.8L142.4 160.4L143.2 163.6L140.8 166.8L137.6 169.2L134.4 171.6L133.6 174.8L132.8 178L130.4 180.4L125.6 182L124 186L125.6 190L128.8 192L133.6 190L136.8 187.6L140 186L143.2 181.2L148 178.8L150 178L153 178.5L156 180.5L159 183L161 184L162 182L163 180L165 180L167 182L170 183L173 182L176 180L179 180L181.5 181.5L182.5 184.5L182 187L180 189.5L177 191.5L174 193.5L170 194.5L167 195L165 197L162 199.5L159 200L156 199L153 198L150 198L146.4 195.6L141.6 194.8L136.8 195.6L132 197L128 198L124 199.6L121.6 202L119.2 204.4L115.2 206.8L111.2 210L108 214L106.4 218.8"/><path d="M148 147.6L146.4 154L144.8 160.4L145.6 165.2L148 166L150.4 162L151.2 155.6L149.6 149.2Z"/><path d="M165 169.5L167 167.5L171 166.5L176 166.5L178.5 167.5L178.5 170.5L176 172.5L172 174L169 176L166 176L164.5 173.5L164.5 171Z"/><path d="M177.6 152.8L182.4 152L184.8 154.4L186.4 157.6L191.2 159.2L194.5 162L194 165L192 166.5L188.8 165.6L184 163.2L179.2 160.8L176.8 157.6L176.8 154.4Z"/><path d="M200 197L198 196L195 195L192 193.5L189 192L186.5 192.5L186.5 195L187.5 197L190 198.5L193 200.5L195.5 202.5L198 205"/><path d="M233 149L230 152L227 152.5L224 153L221 155L218.5 157.5L217 161L215.5 164L213 167L210 170L206 171.5L202 172.5L199.5 174.5L200.5 177L203.5 178.5L207.5 178.5L210.5 177L213 174L215.5 171.5L217.5 170.5L220 171L222 172.5L223.5 175"/><path d="M237.6 110.8L234.4 114.8L233.6 118L234.9 122L237.6 125.2"/><path d="M153 81.5L156 82.5L158 84L160 81.2L163.2 78.8L166.4 75.6L169.6 74L173.6 72.7L177.6 73.2L182.4 72.4L187.2 73.7L191.2 72.4L192.8 70.5L194.4 70L195.2 71.6L192.8 73.2L192 76.4L192.8 80.4L195.2 82L198.4 80.4L200.8 78.8L203.2 77.2L205.6 74.8L208 73.2L211.2 71.6L215.2 71.6L219.2 72.4L222.4 74L225.6 77.2L228 80.4L230.4 81.2L232 83.6L233.6 86L234.4 88.4"/><path d="M132 86.5L134 85.5L135.5 83L137 81L140 79.5L143 78.5L145.5 78.5L147.5 78L148 80.5L150 81.5L153 81.5"/><path d="M147.5 78L148 76L149.5 73.5L152 71L154 70.5L154 73L152 75.5L149.5 77L148 78.5"/><path d="M187.5 60.8L188.6 61.6"/></g>
<g fill="#000"><circle cx="130.5" cy="84.5" r="1.0"/><circle cx="139.2" cy="132.1" r="1.1"/><circle cx="180.9" cy="60.5" r="1.1"/><circle cx="172.8" cy="66.8" r="0.7"/><circle cx="152.8" cy="130.6" r="0.6"/></g>
<circle cx="134.65" cy="117.4" r="1.6" fill="#fff"/>
<ellipse cx="134.65" cy="117.4" rx="103.75" ry="105.9" fill="none" stroke="#222" stroke-width="1"/>
<clipPath id="cdb"><ellipse cx="390.8" cy="117.4" rx="83.52" ry="85.25"/></clipPath>
<clipPath id="cob"><ellipse cx="390.8" cy="117.4" rx="103.75" ry="105.9"/></clipPath>
<g clip-path="url(#cdb)">
<ellipse cx="390.8" cy="117.4" rx="103.75" ry="105.9" fill="#fff0e1"/>
<path d="M372.3 43.1L372.8 43.0L373.8 42.9L374.7 42.7L375.7 42.7L376.6 42.6L377.6 42.6L378.5 42.7L379.5 42.7L380.4 42.9L381.3 43.0L381.7 43.1L382.3 43.2L383.2 43.5L384.2 43.7L385.1 44.0L385.3 44.1L386.1 44.3L387.0 44.6L388.0 45.0L388.2 45.0L388.9 45.2L389.9 45.4L390.8 45.6L391.7 45.6L392.7 45.6L393.6 45.5L394.6 45.4L395.5 45.3L396.5 45.2L397.4 45.1L398.4 45.1L399.3 45.1L400.3 45.1L401.2 45.1L402.1 45.2L403.1 45.3L404.0 45.4L405.0 45.5L405.9 45.6L406.9 45.7L407.8 45.8L408.8 45.9L409.7 45.9L410.7 45.9L411.6 45.9L412.5 45.9L413.5 45.8L414.4 45.8L415.4 45.8L416.3 45.9L417.0 46.0L417.3 46.0L418.2 46.3L419.2 46.7L419.6 47.0L420.1 47.3L420.6 47.9L420.9 48.9L421.0 49.9L421.0 50.8L421.0 51.3L421.1 51.8L421.2 52.8L421.4 53.7L421.8 54.7L422.0 55.2L422.2 55.6L422.7 56.6L422.9 56.9L423.6 57.6L423.9 57.8L424.8 58.4L425.0 58.5L425.8 59.0L426.5 59.5L426.7 59.7L427.7 60.4L427.8 60.5L428.6 61.2L428.9 61.4L429.6 62.2L429.8 62.4L430.5 63.4L430.5 63.4L431.1 64.3L431.4 64.9L431.7 65.3L432.1 66.3L432.4 67.0L432.5 67.2L432.8 68.2L433.1 69.2L433.3 70.0L433.4 70.1L433.7 71.1L434.1 72.1L434.3 72.5L434.6 73.0L435.2 73.7L435.5 74.0L436.2 74.5L436.9 74.9L437.1 75.0L438.1 75.4L439.0 75.8L439.4 75.9L440.0 76.1L440.9 76.3L441.8 76.6L442.8 76.9L442.8 76.9L443.7 77.2L444.7 77.5L445.4 77.8L445.6 78.0L446.6 78.5L447.1 78.8L447.5 79.1L448.5 79.7L448.6 79.8L449.4 80.4L449.8 80.7L450.4 81.2L450.9 81.7L451.3 82.1L451.9 82.7L452.2 83.0L452.8 83.6L453.2 84.1L453.6 84.6L454.1 85.2L454.4 85.6L455.1 86.5L455.1 86.5L455.7 87.5L456.0 88.0L456.3 88.5L456.8 89.4L457.0 89.7L457.3 90.4L457.8 91.3L457.9 91.7L458.2 92.3L458.6 93.3L458.9 94.1L458.9 94.2L459.2 95.2L459.5 96.2L459.8 97.1L459.8 97.2L460.0 98.1L460.2 99.1L460.4 100.0L460.6 101.0L460.7 102.0L460.8 102.1L460.9 102.9L461.0 103.9L461.1 104.9L461.1 105.8L461.2 106.8L461.3 107.8L461.3 108.7L461.3 109.7L461.4 110.6L461.4 111.6L461.4 112.6L461.4 113.5L461.4 114.5L461.5 115.5L461.5 116.4L461.6 117.4L461.7 118.0L461.8 118.4L461.9 119.3L462.1 120.3L462.3 121.3L462.5 122.2L462.6 122.9L462.7 123.2L462.9 124.2L463.0 125.1L463.2 126.1L463.3 127.0L463.4 128.0L463.5 129.0L463.6 129.9L463.6 130.8L463.6 130.9L463.6 131.9L463.6 132.8L463.6 133.7L463.6 133.8L463.5 134.8L463.5 135.7L463.4 136.7L463.2 137.7L463.1 138.6L462.9 139.6L462.7 140.6L462.6 140.8L462.5 141.5L462.2 142.5L461.9 143.5L461.7 144.1L461.6 144.4L461.3 145.4L460.9 146.3L460.8 146.6L460.5 147.3L460.0 148.3L459.8 148.7L459.5 149.2L459.0 150.2L458.9 150.5L458.5 151.2L457.9 152.1L457.9 152.1L457.3 153.1L457.0 153.5L456.6 154.1L456.0 154.8L455.9 155.0L455.1 156.0L455.1 156.1L454.4 157.0L454.1 157.2L453.6 157.9L453.2 158.4L452.8 158.9L452.2 159.6L452.0 159.9L451.3 160.6L451.1 160.8L450.4 161.5L450.0 161.8L449.4 162.3L448.8 162.7L448.5 163.0L447.5 163.6L447.3 163.7L446.6 164.1L445.6 164.6L445.4 164.7L444.7 165.0L443.7 165.3L442.8 165.6L442.6 165.6L441.8 165.9L440.9 166.1L440.0 166.4L439.0 166.6L439.0 166.6L438.1 166.9L437.1 167.1L436.2 167.4L435.5 167.6L435.2 167.6L434.3 167.9L433.3 168.3L432.6 168.5L432.4 168.6L431.4 169.0L430.5 169.3L430.2 169.5L429.6 169.8L428.6 170.2L428.1 170.5L427.7 170.7L426.7 171.2L426.3 171.4L425.8 171.8L424.8 172.4L424.8 172.4L423.9 173.2L423.7 173.4L422.9 174.3L422.9 174.3L422.4 175.3L422.1 176.3L422.1 177.2L422.5 178.2L422.8 179.2L422.9 179.6L423.1 180.1L423.3 181.1L423.4 182.0L423.4 183.0L423.3 184.0L423.1 184.9L422.9 185.4L422.7 185.9L422.3 186.9L422.0 187.4L421.7 187.8L421.0 188.6L420.9 188.8L420.1 189.7L420.1 189.8L419.2 190.7L419.1 190.7L418.2 191.5L417.9 191.7L417.3 192.1L416.3 192.6L416.3 192.7L415.4 193.1L414.4 193.4L413.7 193.6L413.5 193.7L412.5 193.9L411.6 194.0L410.7 194.1L409.7 194.2L408.8 194.2L407.8 194.1L406.9 194.0L405.9 193.8L405.0 193.6L405.0 193.6L404.0 193.3L403.1 193.0L402.4 192.7L402.1 192.6L401.2 192.1L400.6 191.7L400.3 191.5L399.3 190.8L399.2 190.7L398.4 190.0L398.1 189.8L397.4 189.1L397.1 188.8L396.5 188.2L396.2 187.8L395.5 187.1L395.3 186.9L394.6 186.1L394.4 185.9L393.6 185.0L393.6 184.9L392.7 184.1L392.6 184.0L391.7 183.3L391.3 183.0L390.8 182.7L389.9 182.5L388.9 182.4L388.0 182.4L387.0 182.6L386.1 182.9L385.6 183.0L385.1 183.2L384.2 183.6L383.3 184.0L383.2 184.0L382.3 184.5L381.3 184.9L381.2 184.9L380.4 185.3L379.5 185.7L378.9 185.9L378.5 186.1L377.6 186.4L376.6 186.6L375.7 186.9L375.6 186.9L374.7 187.0L373.8 187.1L372.8 187.2L371.9 187.1L370.9 187.0L370.0 186.9L370.0 186.9L369.1 186.7L368.1 186.3L367.2 186.0L367.1 185.9L366.2 185.5L365.3 184.9L365.3 184.9L364.3 184.3L363.9 184.0L363.4 183.6L362.8 183.0L362.4 182.7L361.7 182.0L361.5 181.9L360.6 181.1L360.6 181.1L359.6 180.6L358.7 180.1L358.7 180.1L357.7 179.7L356.8 179.3L356.5 179.2L355.8 178.9L354.9 178.6L353.9 178.3L353.4 178.2L353.0 178.1L352.0 177.9L351.1 177.8L350.2 177.7L349.2 177.7L348.3 177.6L347.3 177.4L346.8 177.2L346.4 177.0L345.4 176.5L345.0 176.3L344.5 175.9L343.7 175.3L343.5 175.1L342.6 174.3L342.6 174.3L341.6 173.4L341.6 173.4L340.7 172.4L340.7 172.4L339.8 171.4L339.8 171.4L339.0 170.5L338.8 170.3L338.2 169.5L337.9 169.1L337.4 168.5L336.9 168.0L336.6 167.6L336.0 166.8L335.8 166.6L335.1 165.6L335.0 165.6L334.3 164.7L334.1 164.3L333.6 163.7L333.1 163.2L332.8 162.7L332.2 162.0L332.0 161.8L331.3 160.8L331.2 160.8L330.5 159.9L330.3 159.6L329.7 158.9L329.4 158.4L329.0 157.9L328.4 157.1L328.3 157.0L327.6 156.0L327.5 155.8L327.0 155.0L326.5 154.3L326.4 154.1L325.8 153.1L325.6 152.8L325.2 152.1L324.7 151.2L324.6 151.1L324.2 150.2L323.7 149.2L323.7 149.2L323.3 148.3L322.8 147.3L322.7 147.1L322.4 146.3L322.1 145.4L321.8 144.6L321.7 144.4L321.4 143.5L321.1 142.5L320.8 141.5L320.8 141.5L320.6 140.6L320.4 139.6L320.2 138.6L320.0 137.7L319.9 136.9L319.9 136.7L319.8 135.7L319.7 134.8L319.6 133.8L319.5 132.8L319.5 131.9L319.5 130.9L319.5 129.9L319.5 129.0L319.6 128.0L319.6 127.0L319.7 126.1L319.8 125.1L319.9 124.2L319.9 124.1L320.0 123.2L320.1 122.2L320.2 121.3L320.3 120.3L320.4 119.3L320.5 118.4L320.5 117.4L320.4 116.4L320.2 115.5L320.0 114.5L319.9 114.0L319.8 113.5L319.6 112.6L319.3 111.6L319.1 110.6L319.0 109.9L318.9 109.7L318.7 108.7L318.5 107.8L318.4 106.8L318.2 105.8L318.1 104.9L318.0 104.0L318.0 103.9L317.9 102.9L317.9 102.0L317.8 101.0L317.8 100.0L317.8 99.1L317.8 98.1L317.9 97.1L318.0 96.2L318.0 95.8L318.1 95.2L318.2 94.2L318.3 93.3L318.5 92.3L318.7 91.3L318.9 90.4L319.0 90.1L319.1 89.4L319.4 88.5L319.6 87.5L319.9 86.7L319.9 86.5L320.3 85.6L320.6 84.6L320.8 83.9L321.0 83.6L321.3 82.7L321.7 81.7L321.8 81.6L322.2 80.7L322.6 79.8L322.7 79.5L323.1 78.8L323.6 77.8L323.7 77.6L324.1 76.9L324.6 76.0L324.7 75.9L325.3 74.9L325.6 74.5L325.9 74.0L326.5 73.1L326.6 73.0L327.3 72.1L327.5 71.8L328.0 71.1L328.4 70.6L328.8 70.1L329.4 69.4L329.6 69.2L330.3 68.3L330.4 68.2L331.2 67.3L331.3 67.2L332.2 66.3L332.2 66.3L333.1 65.3L333.1 65.3L334.1 64.4L334.1 64.3L335.0 63.5L335.1 63.4L336.0 62.6L336.2 62.4L336.9 61.8L337.3 61.4L337.9 61.0L338.4 60.5L338.8 60.1L339.6 59.5L339.8 59.4L340.7 58.6L340.7 58.5L341.6 57.8L341.9 57.6L342.6 57.0L343.0 56.6L343.5 56.1L344.0 55.6L344.5 55.3L345.1 54.7L345.4 54.4L346.3 53.7L346.4 53.6L347.3 52.9L347.5 52.8L348.3 52.2L348.8 51.8L349.2 51.5L350.2 50.9L350.2 50.8L351.1 50.3L351.8 49.9L352.0 49.7L353.0 49.2L353.7 48.9L353.9 48.8L354.9 48.4L355.8 48.1L356.2 47.9L356.8 47.7L357.7 47.5L358.7 47.2L359.6 47.0L359.7 47.0L360.6 46.8L361.5 46.5L362.4 46.2L362.9 46.0L363.4 45.8L364.3 45.5L365.3 45.2L365.6 45.0L366.2 44.8L367.2 44.5L368.1 44.2L368.5 44.1L369.1 43.9L370.0 43.6L370.9 43.4L371.9 43.2Z" fill="#fee5cb"/>
<path d="M377.0 50.8L377.6 50.8L378.5 50.7L379.5 50.8L380.3 50.8L380.4 50.8L381.3 51.0L382.3 51.1L383.2 51.4L384.2 51.7L384.5 51.8L385.1 52.0L386.1 52.5L386.6 52.8L387.0 52.9L388.0 53.5L388.4 53.7L388.9 54.0L389.9 54.4L390.8 54.5L391.7 54.2L392.7 53.7L392.7 53.7L393.6 53.3L394.6 52.9L395.2 52.8L395.5 52.7L396.5 52.5L397.4 52.6L398.4 52.7L398.6 52.8L399.3 52.9L400.3 53.3L401.0 53.7L401.2 53.9L402.1 54.6L402.3 54.7L403.1 55.4L403.4 55.6L404.0 56.3L404.4 56.6L405.0 57.1L405.9 57.6L405.9 57.6L406.9 57.9L407.8 58.0L408.8 58.1L409.7 58.2L410.7 58.2L411.6 58.2L412.5 58.2L413.5 58.2L414.4 58.3L415.4 58.5L415.7 58.5L416.3 58.7L417.3 58.9L418.2 59.3L418.8 59.5L419.2 59.7L420.1 60.1L420.7 60.5L421.0 60.7L421.8 61.4L422.0 61.6L422.8 62.4L422.9 62.5L423.7 63.4L423.9 63.6L424.5 64.3L424.8 64.9L425.1 65.3L425.7 66.3L425.8 66.5L426.1 67.2L426.4 68.2L426.6 69.2L426.7 69.8L426.8 70.1L426.9 71.1L427.0 72.1L427.1 73.0L427.3 74.0L427.5 74.9L427.7 75.5L427.8 75.9L428.2 76.9L428.6 77.6L428.8 77.8L429.6 78.6L429.9 78.8L430.5 79.3L431.2 79.8L431.4 80.0L432.4 80.6L432.6 80.7L433.3 81.2L434.2 81.7L434.3 81.7L435.2 82.3L435.9 82.7L436.2 82.8L437.1 83.4L437.5 83.6L438.1 84.0L439.0 84.6L439.0 84.6L440.0 85.2L440.4 85.6L440.9 85.9L441.6 86.5L441.8 86.7L442.7 87.5L442.8 87.5L443.7 88.5L443.7 88.5L444.6 89.4L444.7 89.5L445.4 90.4L445.6 90.7L446.1 91.3L446.6 92.0L446.8 92.3L447.4 93.3L447.5 93.5L447.9 94.2L448.4 95.2L448.5 95.3L448.9 96.2L449.3 97.1L449.4 97.6L449.6 98.1L449.9 99.1L450.2 100.0L450.4 100.5L450.5 101.0L450.7 102.0L451.0 102.9L451.1 103.9L451.3 104.8L451.3 104.9L451.5 105.8L451.6 106.8L451.7 107.8L451.8 108.7L452.0 109.7L452.1 110.6L452.2 111.6L452.2 112.2L452.3 112.6L452.4 113.5L452.5 114.5L452.7 115.5L452.8 116.4L453.0 117.4L453.1 118.4L453.2 118.7L453.3 119.3L453.4 120.3L453.6 121.3L453.7 122.2L453.9 123.2L454.0 124.2L454.1 124.9L454.2 125.1L454.3 126.1L454.4 127.0L454.5 128.0L454.6 129.0L454.7 129.9L454.7 130.9L454.7 131.9L454.7 132.8L454.7 133.8L454.6 134.8L454.5 135.7L454.4 136.7L454.3 137.7L454.1 138.3L454.1 138.6L453.9 139.6L453.6 140.6L453.3 141.5L453.2 142.0L453.0 142.5L452.7 143.5L452.3 144.4L452.2 144.6L451.9 145.4L451.4 146.3L451.3 146.6L450.9 147.3L450.4 148.3L450.4 148.4L449.8 149.2L449.4 149.9L449.2 150.2L448.6 151.2L448.5 151.3L447.9 152.1L447.5 152.6L447.1 153.1L446.6 153.8L446.3 154.1L445.6 154.8L445.5 155.0L444.7 155.8L444.5 156.0L443.7 156.7L443.4 157.0L442.8 157.4L442.0 157.9L441.8 158.0L440.9 158.6L440.3 158.9L440.0 159.1L439.0 159.5L438.4 159.9L438.1 160.0L437.1 160.5L436.4 160.8L436.2 160.9L435.2 161.4L434.6 161.8L434.3 162.0L433.3 162.5L433.0 162.7L432.4 163.1L431.5 163.7L431.4 163.7L430.5 164.4L430.1 164.7L429.6 165.0L428.6 165.6L428.6 165.7L427.7 166.3L427.3 166.6L426.7 167.0L426.0 167.6L425.8 167.7L424.8 168.4L424.7 168.5L423.9 169.2L423.5 169.5L422.9 170.0L422.4 170.5L422.0 170.9L421.5 171.4L421.0 172.1L420.9 172.4L420.4 173.4L420.1 174.3L420.1 174.3L420.0 175.3L420.1 176.3L420.1 176.4L420.3 177.2L420.6 178.2L420.7 179.2L420.7 180.1L420.4 181.1L420.1 182.0L420.1 182.0L419.5 183.0L419.2 183.5L418.7 184.0L418.2 184.5L417.6 184.9L417.3 185.2L416.3 185.8L416.0 185.9L415.4 186.2L414.4 186.5L413.5 186.7L412.5 186.8L411.9 186.9L411.6 186.9L411.5 186.9L410.7 186.8L409.7 186.7L408.8 186.4L407.8 186.1L407.3 185.9L406.9 185.7L405.9 185.2L405.6 184.9L405.0 184.5L404.2 184.0L404.0 183.8L403.1 183.0L403.1 183.0L402.1 182.1L402.1 182.0L401.2 181.1L401.2 181.1L400.3 180.1L400.3 180.0L399.5 179.2L399.3 179.0L398.6 178.2L398.4 178.0L397.7 177.2L397.4 177.0L396.7 176.3L396.5 176.1L395.5 175.3L395.5 175.3L394.6 174.6L394.2 174.3L393.6 174.0L392.7 173.5L392.5 173.4L391.7 173.1L390.8 172.8L389.9 172.7L388.9 172.7L388.0 172.9L387.0 173.1L386.1 173.3L385.9 173.4L385.1 173.6L384.2 174.0L383.3 174.3L383.2 174.3L382.3 174.7L381.3 175.2L381.1 175.3L380.4 175.6L379.5 176.0L378.9 176.3L378.5 176.4L377.6 176.8L376.6 177.2L376.6 177.2L375.7 177.6L374.7 177.9L373.8 178.2L373.7 178.2L372.8 178.4L371.9 178.6L370.9 178.7L370.0 178.8L369.1 178.8L368.1 178.7L367.2 178.6L366.2 178.4L365.5 178.2L365.3 178.1L364.3 177.7L363.7 177.2L363.4 176.8L363.0 176.3L362.5 175.3L362.4 175.1L362.2 174.3L361.9 173.4L361.7 172.4L361.6 171.4L361.5 170.8L361.4 170.5L361.3 169.5L361.1 168.5L360.8 167.6L360.6 167.1L360.3 166.6L359.7 165.6L359.6 165.6L358.9 164.7L358.7 164.5L357.7 163.8L357.5 163.7L356.8 163.5L355.8 163.5L354.9 163.6L354.0 163.7L353.9 163.7L353.0 163.8L352.0 163.9L351.1 163.8L350.4 163.7L350.2 163.7L349.2 163.4L348.3 163.0L347.7 162.7L347.3 162.5L346.4 161.8L346.4 161.8L345.4 160.8L345.4 160.8L344.6 159.9L344.5 159.7L343.9 158.9L343.5 158.2L343.3 157.9L342.7 157.0L342.6 156.9L341.9 156.0L341.6 155.7L341.1 155.0L340.7 154.6L340.3 154.1L339.8 153.4L339.5 153.1L338.8 152.2L338.7 152.1L338.0 151.2L337.9 151.0L337.3 150.2L336.9 149.6L336.6 149.2L336.0 148.3L336.0 148.2L335.4 147.3L335.0 146.7L334.8 146.3L334.3 145.4L334.1 145.0L333.8 144.4L333.3 143.5L333.1 143.1L332.8 142.5L332.4 141.5L332.2 141.0L332.0 140.6L331.7 139.6L331.3 138.6L331.2 138.4L331.0 137.7L330.7 136.7L330.5 135.7L330.3 135.1L330.2 134.8L330.0 133.8L329.8 132.8L329.6 131.9L329.4 130.9L329.4 130.4L329.3 129.9L329.1 129.0L329.0 128.0L328.9 127.0L328.8 126.1L328.7 125.1L328.6 124.2L328.6 123.2L328.5 122.2L328.4 121.3L328.4 121.1L328.4 120.3L328.3 119.3L328.3 118.4L328.2 117.4L328.1 116.4L328.1 115.5L328.0 114.5L327.9 113.5L327.9 112.6L327.8 111.6L327.8 110.6L327.7 109.7L327.6 108.7L327.6 107.8L327.5 106.8L327.5 105.8L327.5 104.9L327.5 104.9L327.4 103.9L327.4 102.9L327.4 102.0L327.5 101.1L327.5 101.0L327.5 100.0L327.6 99.1L327.6 98.1L327.7 97.1L327.8 96.2L328.0 95.2L328.1 94.2L328.3 93.3L328.4 92.7L328.5 92.3L328.7 91.3L328.9 90.4L329.2 89.4L329.4 88.9L329.5 88.5L329.8 87.5L330.2 86.5L330.3 86.1L330.5 85.6L330.9 84.6L331.2 83.9L331.4 83.6L331.8 82.7L332.2 81.9L332.3 81.7L332.8 80.7L333.1 80.2L333.4 79.8L334.0 78.8L334.1 78.7L334.7 77.8L335.0 77.4L335.4 76.9L336.0 76.2L336.2 75.9L336.9 75.0L337.0 74.9L337.9 74.0L337.9 74.0L338.8 73.0L338.8 73.0L339.7 72.1L339.8 72.0L340.6 71.1L340.7 71.0L341.5 70.1L341.6 70.0L342.4 69.2L342.6 69.0L343.3 68.2L343.5 68.0L344.3 67.2L344.5 67.0L345.2 66.3L345.4 66.0L346.1 65.3L346.4 65.0L347.1 64.3L347.3 64.1L348.1 63.4L348.3 63.2L349.1 62.4L349.2 62.3L350.2 61.5L350.2 61.4L351.1 60.7L351.4 60.5L352.0 60.0L352.7 59.5L353.0 59.3L353.9 58.8L354.3 58.5L354.9 58.2L355.8 57.8L356.4 57.6L356.8 57.4L357.7 57.1L358.7 56.9L359.6 56.7L360.6 56.7L361.5 56.8L361.7 56.6L362.4 56.2L363.3 55.6L363.4 55.6L364.3 55.1L365.2 54.7L365.3 54.6L366.2 54.2L367.2 53.7L367.2 53.7L368.1 53.3L369.1 52.9L369.5 52.8L370.0 52.5L370.9 52.2L371.9 51.9L372.2 51.8L372.8 51.6L373.8 51.3L374.7 51.1L375.7 51.0L376.6 50.9Z" fill="#fdd4aa"/>
<path d="M379.3 56.6L379.5 56.6L380.4 56.6L381.3 56.6L382.2 56.6L382.3 56.6L383.2 56.7L384.2 56.9L385.1 57.2L385.8 57.6L386.1 57.8L386.9 58.5L387.0 58.6L388.0 59.5L388.0 59.5L388.9 60.3L389.2 60.5L389.9 60.9L390.8 61.1L391.7 60.8L392.2 60.5L392.7 60.0L393.1 59.5L393.6 58.9L393.9 58.5L394.6 57.8L395.1 57.6L395.5 57.4L396.4 57.6L396.5 57.6L397.4 58.1L398.0 58.5L398.4 58.9L399.0 59.5L399.3 59.7L400.1 60.5L400.3 60.6L401.2 61.4L401.3 61.4L402.1 62.1L402.7 62.4L403.1 62.7L404.0 63.2L404.3 63.4L405.0 63.7L405.9 64.1L406.5 64.3L406.9 64.5L407.8 64.9L408.8 65.2L409.1 65.3L409.7 65.5L410.7 65.8L411.6 66.1L412.2 66.3L412.5 66.4L413.5 66.6L414.4 66.8L415.4 67.0L416.3 67.1L416.9 67.2L417.3 67.3L418.2 67.6L419.2 67.9L419.5 68.2L420.1 68.7L420.4 69.2L420.5 70.1L420.1 70.7L419.2 71.1L419.2 71.1L418.2 71.2L417.3 71.4L416.4 72.1L416.3 72.2L415.9 73.0L415.6 74.0L415.7 74.9L416.0 75.9L416.3 76.4L416.8 76.9L417.3 77.2L418.2 77.3L419.2 76.9L419.2 76.9L420.1 75.9L420.2 75.9L421.0 75.2L422.0 75.1L422.9 75.5L423.4 75.9L423.9 76.2L424.4 76.9L424.8 77.4L425.2 77.8L425.8 78.7L425.8 78.8L426.5 79.8L426.7 80.0L427.3 80.7L427.7 81.2L428.1 81.7L428.6 82.2L429.0 82.7L429.6 83.2L430.0 83.6L430.5 84.1L431.1 84.6L431.4 84.9L432.2 85.6L432.4 85.8L433.3 86.5L433.3 86.6L434.3 87.4L434.3 87.5L435.2 88.3L435.4 88.5L436.2 89.3L436.3 89.4L437.1 90.3L437.2 90.4L438.1 91.3L438.1 91.4L438.8 92.3L439.0 92.6L439.5 93.3L440.0 93.9L440.2 94.2L440.8 95.2L440.9 95.5L441.3 96.2L441.8 97.1L441.8 97.3L442.2 98.1L442.6 99.1L442.8 99.5L443.0 100.0L443.3 101.0L443.6 102.0L443.7 102.4L443.9 102.9L444.1 103.9L444.3 104.9L444.5 105.8L444.7 106.6L444.7 106.8L444.9 107.8L445.0 108.7L445.1 109.7L445.3 110.6L445.4 111.6L445.5 112.6L445.6 113.5L445.6 114.1L445.7 114.5L445.8 115.5L445.9 116.4L446.0 117.4L446.2 118.4L446.4 119.3L446.6 120.0L446.6 120.3L446.9 121.3L447.1 122.2L447.3 123.2L447.5 124.2L447.5 124.5L447.6 125.1L447.8 126.1L447.9 127.0L448.0 128.0L448.1 129.0L448.1 129.9L448.1 130.9L448.1 131.9L448.1 132.8L448.0 133.8L447.9 134.8L447.8 135.7L447.6 136.7L447.5 137.3L447.4 137.7L447.2 138.6L446.9 139.6L446.6 140.6L446.6 140.7L446.3 141.5L445.9 142.5L445.6 143.0L445.4 143.5L445.0 144.4L444.7 144.9L444.4 145.4L443.8 146.3L443.7 146.5L443.2 147.3L442.8 147.9L442.5 148.3L441.8 149.1L441.7 149.2L440.9 150.2L440.9 150.2L440.0 151.2L440.0 151.2L439.0 152.0L438.9 152.1L438.1 152.8L437.7 153.1L437.1 153.6L436.4 154.1L436.2 154.2L435.2 154.9L435.0 155.0L434.3 155.5L433.6 156.0L433.3 156.2L432.4 156.8L432.2 157.0L431.4 157.5L431.0 157.9L430.5 158.4L429.9 158.9L429.6 159.2L428.9 159.9L428.6 160.1L427.9 160.8L427.7 161.1L426.9 161.8L426.7 162.0L425.9 162.7L425.8 162.9L424.9 163.7L424.8 163.7L423.9 164.6L423.8 164.7L422.9 165.5L422.7 165.6L422.0 166.3L421.7 166.6L421.0 167.2L420.7 167.6L420.1 168.1L419.6 168.5L419.2 169.0L418.7 169.5L418.2 170.1L417.9 170.5L417.3 171.4L417.3 171.5L416.9 172.4L416.6 173.4L416.4 174.3L416.4 175.3L416.4 176.3L416.4 177.2L416.3 177.7L416.2 178.2L415.5 179.2L415.4 179.3L414.4 179.7L413.5 179.8L412.5 179.8L411.6 179.6L410.7 179.2L410.5 179.2L409.7 178.7L408.8 178.2L408.8 178.1L407.8 177.4L407.6 177.2L406.9 176.6L406.5 176.3L405.9 175.8L405.4 175.3L405.0 174.9L404.4 174.3L404.0 174.0L403.4 173.4L403.1 173.1L402.3 172.4L402.1 172.3L401.2 171.5L401.2 171.4L400.3 170.7L399.9 170.5L399.3 170.0L398.6 169.5L398.4 169.4L397.4 168.8L397.0 168.5L396.5 168.2L395.5 167.7L395.2 167.6L394.6 167.3L393.6 166.9L392.7 166.7L392.5 166.6L391.7 166.4L390.8 166.3L389.9 166.3L388.9 166.3L388.0 166.4L387.0 166.6L386.8 166.6L386.1 166.8L385.1 167.0L384.2 167.3L383.5 167.6L383.2 167.7L382.3 168.0L381.3 168.3L380.7 168.5L380.4 168.7L379.5 169.0L378.5 169.3L377.8 169.5L377.6 169.6L376.6 169.8L375.7 170.1L374.7 170.2L373.8 170.3L372.8 170.3L371.9 170.2L370.9 170.0L370.0 169.7L369.6 169.5L369.1 169.2L368.2 168.5L368.1 168.4L367.2 167.6L367.2 167.5L366.4 166.6L366.2 166.4L365.6 165.6L365.3 165.3L364.8 164.7L364.3 164.1L364.1 163.7L363.4 162.8L363.4 162.7L362.7 161.8L362.4 161.4L362.1 160.8L361.6 159.9L361.5 159.8L361.0 158.9L360.6 158.2L360.3 157.9L359.6 157.4L358.8 157.0L358.7 156.8L357.7 156.5L356.8 156.3L355.8 156.4L354.9 156.6L354.1 157.0L353.9 157.0L353.0 157.3L352.0 157.2L351.6 157.0L351.1 156.5L350.6 156.0L350.2 155.4L349.9 155.0L349.3 154.1L349.2 153.9L348.8 153.1L348.3 152.1L348.3 152.1L347.7 151.2L347.3 150.4L347.2 150.2L346.6 149.2L346.4 148.8L346.1 148.3L345.5 147.3L345.4 147.2L344.9 146.3L344.5 145.7L344.3 145.4L343.7 144.4L343.5 144.1L343.2 143.5L342.6 142.5L342.6 142.4L342.1 141.5L341.6 140.6L341.6 140.6L341.2 139.6L340.7 138.6L340.7 138.6L340.3 137.7L339.9 136.7L339.8 136.3L339.5 135.7L339.2 134.8L338.9 133.8L338.8 133.6L338.6 132.8L338.3 131.9L338.0 130.9L337.9 130.4L337.7 129.9L337.5 129.0L337.3 128.0L337.0 127.0L336.9 126.6L336.8 126.1L336.6 125.1L336.4 124.2L336.2 123.2L336.0 122.2L336.0 122.2L335.8 121.3L335.6 120.3L335.4 119.3L335.2 118.4L335.1 117.4L335.1 116.4L335.1 115.5L335.1 114.5L335.1 113.5L335.1 112.6L335.1 111.6L335.2 110.6L335.2 109.7L335.2 108.7L335.2 107.8L335.2 106.8L335.3 105.8L335.3 104.9L335.4 103.9L335.4 102.9L335.5 102.0L335.6 101.0L335.6 100.0L335.7 99.1L335.9 98.1L336.0 97.3L336.0 97.1L336.2 96.2L336.3 95.2L336.5 94.2L336.8 93.3L336.9 92.7L337.0 92.3L337.3 91.3L337.6 90.4L337.9 89.6L337.9 89.4L338.3 88.5L338.7 87.5L338.8 87.2L339.1 86.5L339.6 85.6L339.8 85.3L340.1 84.6L340.7 83.6L340.7 83.6L341.3 82.7L341.6 82.2L342.0 81.7L342.6 80.8L342.7 80.7L343.4 79.8L343.5 79.6L344.2 78.8L344.5 78.5L345.0 77.8L345.4 77.4L345.8 76.9L346.4 76.3L346.7 75.9L347.3 75.1L347.5 74.9L348.3 74.0L348.3 74.0L349.0 73.0L349.2 72.8L349.7 72.1L350.2 71.5L350.5 71.1L351.1 70.2L351.2 70.1L351.9 69.2L352.0 69.0L352.7 68.2L353.0 67.8L353.5 67.2L353.9 66.8L354.5 66.3L354.9 65.9L355.6 65.3L355.8 65.1L356.8 64.3L356.8 64.3L357.7 63.7L358.2 63.4L358.7 63.1L359.6 62.6L360.1 62.4L360.6 62.2L361.5 62.0L362.4 61.8L363.4 61.6L363.9 61.4L364.3 61.3L365.3 61.0L366.2 60.7L366.7 60.5L367.2 60.3L368.1 59.9L369.0 59.5L369.1 59.5L370.0 59.1L370.9 58.7L371.3 58.5L371.9 58.3L372.8 58.0L373.8 57.7L374.2 57.6L374.7 57.4L375.7 57.2L376.6 57.0L377.6 56.8L378.5 56.7Z" fill="#fdbe84"/>
<path d="M372.7 63.4L372.8 63.3L373.8 63.1L374.7 62.9L375.7 62.8L376.6 62.6L377.6 62.6L378.5 62.6L379.5 62.6L380.4 62.7L381.3 62.9L382.3 63.2L382.7 63.4L383.2 63.6L384.2 64.1L384.6 64.3L385.1 64.6L386.1 65.1L386.4 65.3L387.0 65.6L388.0 66.0L388.5 66.3L388.9 66.4L389.9 66.7L390.8 66.9L391.7 67.0L392.7 67.1L393.6 67.1L394.6 67.1L395.5 67.1L396.5 67.2L396.7 67.2L397.4 67.3L398.4 67.5L399.3 67.8L400.3 68.2L400.3 68.2L401.2 68.6L402.1 69.1L402.3 69.2L403.1 69.6L403.9 70.1L404.0 70.2L405.0 70.9L405.2 71.1L405.9 71.7L406.3 72.1L406.9 72.6L407.3 73.0L407.8 73.6L408.1 74.0L408.8 74.8L408.9 74.9L409.6 75.9L409.7 76.0L410.4 76.9L410.7 77.2L411.1 77.8L411.6 78.4L411.9 78.8L412.5 79.4L413.0 79.8L413.5 80.1L414.4 80.5L415.3 80.7L415.4 80.7L416.3 80.8L417.3 80.7L417.3 80.7L418.2 80.5L419.2 80.1L419.6 79.8L420.1 79.4L421.0 78.9L422.0 79.1L422.8 79.8L422.9 80.0L423.5 80.7L423.9 81.3L424.1 81.7L424.8 82.7L424.8 82.7L425.4 83.6L425.8 84.1L426.2 84.6L426.7 85.3L426.9 85.6L427.7 86.4L427.7 86.5L428.6 87.5L428.6 87.5L429.4 88.5L429.6 88.6L430.3 89.4L430.5 89.7L431.1 90.4L431.4 90.8L431.9 91.3L432.4 92.0L432.6 92.3L433.3 93.3L433.3 93.3L434.0 94.2L434.3 94.7L434.6 95.2L435.2 96.2L435.2 96.3L435.7 97.1L436.2 98.1L436.2 98.1L436.6 99.1L437.0 100.0L437.1 100.4L437.4 101.0L437.7 102.0L438.0 102.9L438.1 103.2L438.3 103.9L438.5 104.9L438.7 105.8L439.0 106.8L439.0 107.0L439.2 107.8L439.3 108.7L439.5 109.7L439.7 110.6L439.8 111.6L440.0 112.3L440.0 112.6L440.2 113.5L440.3 114.5L440.5 115.5L440.7 116.4L440.9 117.4L440.9 117.4L441.1 118.4L441.3 119.3L441.4 120.3L441.6 121.3L441.8 122.2L441.8 122.4L442.0 123.2L442.1 124.2L442.3 125.1L442.4 126.1L442.5 127.0L442.6 128.0L442.6 129.0L442.7 129.9L442.6 130.9L442.6 131.9L442.5 132.8L442.4 133.8L442.2 134.8L442.0 135.7L441.8 136.4L441.8 136.7L441.5 137.7L441.2 138.6L440.9 139.3L440.8 139.6L440.4 140.6L440.0 141.4L439.9 141.5L439.3 142.5L439.0 143.0L438.8 143.5L438.1 144.4L438.1 144.5L437.4 145.4L437.1 145.7L436.6 146.3L436.2 146.8L435.7 147.3L435.2 147.8L434.8 148.3L434.3 148.7L433.8 149.2L433.3 149.6L432.7 150.2L432.4 150.5L431.6 151.2L431.4 151.3L430.5 152.1L430.4 152.1L429.6 152.9L429.3 153.1L428.6 153.7L428.2 154.1L427.7 154.5L427.0 155.0L426.7 155.3L425.8 156.0L425.8 156.1L424.8 156.8L424.6 157.0L423.9 157.5L423.2 157.9L422.9 158.1L422.0 158.8L421.7 158.9L421.0 159.4L420.1 159.1L419.9 158.9L419.4 157.9L419.2 157.8L418.2 157.9L418.1 157.9L417.5 158.9L417.3 159.3L417.0 159.9L416.3 160.8L416.3 160.8L415.6 161.8L415.4 162.0L414.6 162.7L414.4 162.9L413.5 163.7L413.5 163.7L412.5 164.4L412.0 164.7L411.6 164.9L410.7 165.3L409.7 165.5L408.8 165.6L407.8 165.6L406.9 165.5L405.9 165.3L405.0 165.1L404.0 164.8L403.7 164.7L403.1 164.5L402.1 164.1L401.2 163.8L401.1 163.7L400.3 163.4L399.3 163.0L398.7 162.7L398.4 162.6L397.4 162.3L396.5 161.9L396.1 161.8L395.5 161.6L394.6 161.3L393.6 161.0L392.8 160.8L392.7 160.8L391.7 160.6L390.8 160.5L389.9 160.5L388.9 160.5L388.0 160.7L387.0 160.8L386.9 160.8L386.1 161.0L385.1 161.2L384.2 161.5L383.2 161.8L383.2 161.8L382.3 162.1L381.3 162.4L380.4 162.7L380.2 162.7L379.5 163.0L378.5 163.3L377.6 163.5L376.6 163.7L376.6 163.7L375.7 163.9L374.7 164.0L373.8 164.0L372.8 164.0L371.9 163.8L371.5 163.7L370.9 163.6L370.0 163.3L369.1 162.8L368.9 162.7L368.1 162.3L367.3 161.8L367.2 161.7L366.2 161.0L366.0 160.8L365.3 160.3L364.8 159.9L364.3 159.4L363.8 158.9L363.4 158.5L362.8 157.9L362.4 157.5L362.1 157.0L361.7 156.0L361.5 155.4L361.4 155.0L361.1 154.1L361.0 153.1L360.9 152.1L360.9 151.2L360.8 150.2L360.6 149.6L360.4 149.2L359.6 148.3L359.6 148.3L358.7 147.4L358.5 147.3L357.7 146.7L357.2 146.3L356.8 146.0L355.9 145.4L355.8 145.3L354.9 144.5L354.7 144.4L353.9 143.7L353.7 143.5L353.0 142.7L352.8 142.5L352.0 141.6L352.0 141.5L351.2 140.6L351.1 140.3L350.6 139.6L350.2 138.9L350.0 138.6L349.5 137.7L349.2 137.2L349.0 136.7L348.5 135.7L348.3 135.2L348.1 134.8L347.7 133.8L347.3 132.8L347.3 132.8L347.0 131.9L346.7 130.9L346.4 129.9L346.4 129.9L346.1 129.0L345.9 128.0L345.7 127.0L345.5 126.1L345.4 125.7L345.3 125.1L345.2 124.2L345.0 123.2L344.9 122.2L344.9 121.3L344.8 120.3L344.7 119.3L344.7 118.4L344.6 117.4L344.5 116.6L344.5 116.4L344.3 115.5L344.1 114.5L344.0 113.5L343.9 112.6L343.7 111.6L343.6 110.6L343.6 109.7L343.5 109.5L343.5 108.7L343.4 107.8L343.4 106.8L343.4 105.8L343.3 104.9L343.3 103.9L343.4 102.9L343.4 102.0L343.4 101.0L343.5 100.0L343.5 99.2L343.5 99.1L343.6 98.1L343.7 97.1L343.9 96.2L344.0 95.2L344.2 94.2L344.4 93.3L344.5 93.0L344.6 92.3L344.9 91.3L345.2 90.4L345.4 89.7L345.5 89.4L345.9 88.5L346.3 87.5L346.4 87.3L346.7 86.5L347.2 85.6L347.3 85.4L347.8 84.6L348.3 83.8L348.4 83.6L349.0 82.7L349.2 82.4L349.7 81.7L350.2 81.2L350.5 80.7L351.1 80.0L351.3 79.8L352.0 78.9L352.1 78.8L353.0 77.9L353.0 77.8L353.8 76.9L353.9 76.7L354.5 75.9L354.9 75.2L355.0 74.9L355.5 74.0L355.8 73.4L356.0 73.0L356.5 72.1L356.8 71.7L357.2 71.1L357.7 70.4L358.0 70.1L358.7 69.5L359.1 69.2L359.6 68.8L360.6 68.2L360.6 68.2L361.5 67.6L362.2 67.2L362.4 67.1L363.4 66.6L364.1 66.3L364.3 66.1L365.3 65.8L366.2 65.4L366.6 65.3L367.2 65.1L368.1 64.8L369.1 64.5L369.4 64.3L370.0 64.1L370.9 63.9L371.9 63.6Z" fill="#fda55f"/>
<path d="M372.8 68.2L372.8 68.2L373.8 68.0L374.7 67.8L375.7 67.7L376.6 67.7L377.6 67.7L378.5 67.8L379.5 67.9L380.4 68.1L380.8 68.2L381.3 68.3L382.3 68.6L383.2 69.0L383.7 69.2L384.2 69.4L385.1 69.8L385.9 70.1L386.1 70.2L387.0 70.6L388.0 71.0L388.2 71.1L388.9 71.4L389.9 71.7L390.8 71.9L391.6 72.1L391.7 72.1L392.7 72.2L393.6 72.3L394.6 72.3L395.5 72.5L396.5 72.6L397.4 72.9L397.6 73.0L398.4 73.3L399.3 73.8L399.5 74.0L400.3 74.5L400.8 74.9L401.2 75.4L401.7 75.9L402.1 76.5L402.4 76.9L403.1 77.8L403.1 77.8L403.7 78.8L404.0 79.5L404.2 79.8L404.7 80.7L405.0 81.3L405.2 81.7L405.7 82.7L405.9 83.0L406.5 83.6L406.9 84.0L407.7 84.6L407.8 84.7L408.8 85.1L409.7 85.3L410.7 85.5L410.9 85.6L411.6 85.7L412.5 85.7L413.5 85.8L414.4 85.8L415.4 85.8L416.3 85.8L417.3 85.8L418.2 85.8L419.2 85.9L420.1 86.2L420.8 86.5L421.0 86.6L422.0 87.2L422.3 87.5L422.9 88.0L423.5 88.5L423.9 88.8L424.5 89.4L424.8 89.8L425.4 90.4L425.8 90.9L426.2 91.3L426.7 92.0L427.0 92.3L427.7 93.3L427.7 93.3L428.3 94.2L428.6 94.7L428.9 95.2L429.5 96.2L429.6 96.3L430.0 97.1L430.5 98.1L430.5 98.1L431.0 99.1L431.4 100.0L431.4 100.2L431.8 101.0L432.1 102.0L432.4 102.8L432.4 102.9L432.7 103.9L433.0 104.9L433.3 105.8L433.3 106.0L433.5 106.8L433.8 107.8L434.0 108.7L434.2 109.7L434.3 110.2L434.4 110.6L434.6 111.6L434.7 112.6L434.9 113.5L435.1 114.5L435.2 115.0L435.3 115.5L435.6 116.4L435.8 117.4L436.0 118.4L436.2 118.9L436.3 119.3L436.5 120.3L436.8 121.3L437.0 122.2L437.1 122.9L437.2 123.2L437.3 124.2L437.5 125.1L437.6 126.1L437.7 127.0L437.7 128.0L437.7 129.0L437.7 129.9L437.6 130.9L437.5 131.9L437.3 132.8L437.1 133.8L437.1 133.8L436.9 134.8L436.6 135.7L436.2 136.7L436.2 136.7L435.8 137.7L435.3 138.6L435.2 138.7L434.7 139.6L434.3 140.3L434.1 140.6L433.4 141.5L433.3 141.6L432.6 142.5L432.4 142.7L431.8 143.5L431.4 143.8L430.8 144.4L430.5 144.7L429.8 145.4L429.6 145.7L428.8 146.3L428.6 146.5L427.7 147.3L427.7 147.4L426.7 148.2L426.6 148.3L425.8 149.0L425.5 149.2L424.8 149.8L424.4 150.2L423.9 150.6L423.0 151.2L422.9 151.2L422.0 151.7L421.0 152.1L420.9 152.1L420.1 152.2L419.2 152.2L418.2 152.3L417.3 152.3L416.3 152.5L415.4 152.7L414.4 153.0L414.2 153.1L413.5 153.4L412.5 153.9L412.1 154.1L411.6 154.4L410.7 154.9L410.4 155.0L409.7 155.4L408.8 156.0L408.7 156.0L407.8 156.4L406.9 156.8L406.5 157.0L405.9 157.1L405.0 157.3L404.0 157.4L403.1 157.3L402.1 157.2L401.2 157.0L400.9 157.0L400.3 156.8L399.3 156.6L398.4 156.3L397.4 156.1L397.1 156.0L396.5 155.8L395.5 155.6L394.6 155.4L393.6 155.2L392.7 155.0L392.7 155.0L391.7 154.9L390.8 154.8L389.9 154.7L388.9 154.7L388.0 154.6L387.0 154.7L386.1 154.8L385.1 154.9L384.4 155.0L384.2 155.1L383.2 155.3L382.3 155.5L381.3 155.8L380.7 156.0L380.4 156.1L379.5 156.4L378.5 156.7L377.8 157.0L377.6 157.0L376.6 157.3L375.7 157.6L374.7 157.8L373.9 157.9L373.8 157.9L372.8 158.0L371.9 158.0L370.9 158.0L370.5 157.9L370.0 157.8L369.1 157.5L368.1 157.1L367.9 157.0L367.2 156.4L366.8 156.0L366.2 155.1L366.2 155.0L366.0 154.1L366.0 153.1L366.0 152.1L366.1 151.2L366.1 150.2L366.1 149.2L366.0 148.3L365.9 147.3L365.6 146.3L365.3 145.6L365.2 145.4L364.7 144.4L364.3 143.9L364.0 143.5L363.4 142.7L363.2 142.5L362.4 141.7L362.3 141.5L361.5 140.7L361.3 140.6L360.6 139.7L360.5 139.6L359.8 138.6L359.6 138.3L359.2 137.7L358.7 136.7L358.7 136.6L358.2 135.7L357.8 134.8L357.7 134.6L357.4 133.8L357.0 132.8L356.8 132.1L356.7 131.9L356.4 130.9L356.1 129.9L355.8 129.2L355.8 129.0L355.5 128.0L355.3 127.0L355.0 126.1L354.9 125.6L354.8 125.1L354.5 124.2L354.3 123.2L354.1 122.2L353.9 121.4L353.9 121.3L353.7 120.3L353.5 119.3L353.4 118.4L353.2 117.4L353.1 116.4L353.1 115.5L353.0 114.5L353.0 113.5L353.0 113.3L353.0 112.6L352.9 111.6L352.8 110.6L352.7 109.7L352.7 108.7L352.5 107.8L352.4 106.8L352.3 105.8L352.2 104.9L352.1 103.9L352.0 103.7L351.9 102.9L351.8 102.0L351.7 101.0L351.6 100.0L351.5 99.1L351.5 98.1L351.4 97.1L351.4 96.2L351.4 95.2L351.4 94.2L351.4 93.3L351.5 92.3L351.7 91.3L351.8 90.4L352.0 89.4L352.0 89.3L352.2 88.5L352.5 87.5L352.9 86.5L353.0 86.2L353.2 85.6L353.7 84.6L353.9 84.1L354.2 83.6L354.7 82.7L354.9 82.5L355.4 81.7L355.8 81.1L356.1 80.7L356.8 80.0L357.0 79.8L357.7 79.1L358.0 78.8L358.7 78.2L359.2 77.8L359.6 77.4L360.0 76.9L360.3 75.9L360.5 74.9L360.6 74.6L360.7 74.0L361.3 73.0L361.5 72.9L362.4 72.2L362.8 72.1L363.4 71.8L364.3 71.3L364.8 71.1L365.3 70.9L366.2 70.5L367.1 70.1L367.2 70.1L368.1 69.7L369.1 69.3L369.6 69.2L370.0 69.0L370.9 68.7L371.9 68.4ZM390.8 111.5L390.6 111.6L389.9 111.9L388.9 112.4L388.6 112.6L388.0 113.0L387.3 113.5L387.0 113.9L386.6 114.5L386.2 115.5L386.1 115.9L386.0 116.4L385.9 117.4L386.0 118.4L386.1 118.7L386.2 119.3L386.5 120.3L386.8 121.3L387.0 121.7L387.3 122.2L387.9 123.2L388.0 123.3L388.7 124.2L388.9 124.4L389.7 125.1L389.9 125.2L390.8 125.8L391.5 126.1L391.7 126.2L392.7 126.4L393.6 126.6L394.6 126.6L395.5 126.6L396.5 126.4L397.4 126.1L397.5 126.1L398.4 125.6L399.0 125.1L399.3 124.8L399.8 124.2L400.3 123.4L400.4 123.2L400.8 122.2L401.1 121.3L401.2 120.8L401.3 120.3L401.4 119.3L401.4 118.4L401.2 117.4L401.2 117.3L400.9 116.4L400.4 115.5L400.3 115.2L399.8 114.5L399.3 113.8L399.1 113.5L398.4 112.7L398.2 112.6L397.4 111.9L397.0 111.6L396.5 111.3L395.5 110.9L394.6 110.8L393.6 110.8L392.7 111.0L391.7 111.2ZM394.6 90.4L394.6 90.4L393.6 90.8L393.0 91.3L392.7 92.0L392.6 92.3L392.6 93.3L392.7 93.7L392.8 94.2L393.3 95.2L393.6 95.7L394.0 96.2L394.6 96.8L395.0 97.1L395.5 97.5L396.5 98.0L397.4 98.0L398.4 97.7L399.0 97.1L399.3 96.8L399.8 96.2L400.3 95.3L400.3 95.2L400.7 94.2L400.9 93.3L400.9 92.3L400.6 91.3L400.3 90.8L399.7 90.4L399.3 90.2L398.4 90.0L397.4 90.0L396.5 90.0L395.5 90.2Z" fill="#fd8c3b"/>
<path d="M372.7 73.0L372.8 73.0L373.8 72.7L374.7 72.4L375.7 72.3L376.6 72.2L377.6 72.2L378.5 72.2L379.5 72.3L380.4 72.5L381.3 72.7L382.2 73.0L382.3 73.0L383.2 73.4L384.2 73.8L384.6 74.0L385.1 74.2L386.1 74.7L386.5 74.9L387.0 75.3L388.0 75.9L388.0 75.9L388.9 76.5L389.5 76.9L389.9 77.1L390.8 77.5L391.7 77.6L392.7 77.6L393.6 77.5L394.6 77.5L395.5 77.8L395.5 77.8L396.4 78.8L396.5 79.0L396.8 79.8L397.0 80.7L397.0 81.7L396.8 82.7L396.5 83.5L396.4 83.6L395.9 84.6L395.5 85.1L395.2 85.6L394.6 86.2L394.3 86.5L393.6 87.1L393.3 87.5L392.7 87.9L391.9 88.5L391.7 88.6L390.8 89.3L390.7 89.4L390.0 90.4L389.9 90.7L389.5 91.3L389.0 92.3L388.9 92.6L388.6 93.3L388.2 94.2L388.0 94.9L387.8 95.2L387.4 96.2L387.0 96.9L386.9 97.1L386.2 98.1L386.1 98.2L385.1 99.0L385.0 99.1L384.2 99.5L383.2 99.9L382.9 100.0L382.3 100.2L381.3 100.4L380.4 100.6L379.5 100.7L378.5 100.9L377.6 101.0L377.6 101.0L376.6 101.1L375.7 101.3L374.7 101.5L373.8 101.7L372.8 101.8L371.9 102.0L371.9 102.0L370.9 102.1L370.0 102.2L369.1 102.2L368.1 102.2L367.2 102.0L366.9 102.0L366.2 101.8L365.3 101.4L364.5 101.0L364.3 100.9L363.4 100.2L363.2 100.0L362.4 99.3L362.2 99.1L361.5 98.2L361.4 98.1L360.8 97.1L360.6 96.8L360.2 96.2L359.6 95.2L359.6 95.2L359.2 94.2L358.8 93.3L358.7 92.7L358.6 92.3L358.3 91.3L358.2 90.4L358.1 89.4L358.1 88.5L358.1 87.5L358.2 86.5L358.4 85.6L358.6 84.6L358.7 84.5L358.9 83.6L359.3 82.7L359.6 82.1L359.8 81.7L360.5 80.7L360.6 80.6L361.5 79.9L361.7 79.8L362.4 79.4L363.4 78.9L363.5 78.8L364.3 78.4L365.3 77.9L365.4 77.8L366.2 77.3L366.8 76.9L367.2 76.6L368.0 75.9L368.1 75.8L369.1 75.0L369.2 74.9L370.0 74.4L370.7 74.0L370.9 73.8L371.9 73.4ZM415.7 93.3L416.3 93.2L417.3 93.1L418.2 93.2L418.6 93.3L419.2 93.4L420.1 93.7L421.0 94.2L421.0 94.3L422.0 95.2L422.0 95.2L422.8 96.2L422.9 96.3L423.5 97.1L423.9 97.8L424.1 98.1L424.6 99.1L424.8 99.6L425.0 100.0L425.5 101.0L425.8 101.7L425.9 102.0L426.3 102.9L426.6 103.9L426.7 104.2L426.9 104.9L427.3 105.8L427.6 106.8L427.7 107.0L427.9 107.8L428.2 108.7L428.5 109.7L428.6 110.0L428.8 110.6L429.1 111.6L429.4 112.6L429.6 113.2L429.6 113.5L429.9 114.5L430.1 115.5L430.4 116.4L430.5 117.0L430.6 117.4L430.9 118.4L431.3 119.3L431.4 119.8L431.6 120.3L431.9 121.3L432.2 122.2L432.4 123.0L432.4 123.2L432.6 124.2L432.8 125.1L432.9 126.1L432.9 127.0L432.9 128.0L432.9 129.0L432.8 129.9L432.6 130.9L432.4 131.8L432.4 131.9L432.1 132.8L431.7 133.8L431.4 134.3L431.2 134.8L430.7 135.7L430.5 136.0L430.0 136.7L429.6 137.3L429.3 137.7L428.6 138.4L428.3 138.6L427.7 139.2L427.2 139.6L426.7 140.0L425.9 140.6L425.8 140.6L424.8 141.2L424.2 141.5L423.9 141.7L422.9 142.1L422.1 142.5L422.0 142.5L421.0 142.9L420.1 143.4L420.0 143.5L419.2 143.9L418.3 144.4L418.2 144.4L417.3 144.9L416.3 145.3L416.2 145.4L415.4 145.7L414.4 146.0L413.6 146.3L413.5 146.4L412.5 146.7L411.6 147.0L410.7 147.3L410.6 147.3L409.7 147.6L408.8 147.9L407.8 148.1L407.1 148.3L406.9 148.3L405.9 148.5L405.0 148.6L404.0 148.7L403.1 148.7L402.1 148.7L401.2 148.6L400.3 148.4L399.8 148.3L399.3 148.2L398.4 147.8L397.4 147.5L397.1 147.3L396.5 147.0L395.5 146.4L395.5 146.3L394.6 145.6L394.4 145.4L393.8 144.4L393.6 144.1L393.5 143.5L393.5 142.5L393.6 141.9L393.7 141.5L394.3 140.6L394.6 140.2L395.0 139.6L395.5 139.1L396.1 138.6L396.5 138.4L397.4 137.8L397.6 137.7L398.4 137.3L399.3 136.9L399.9 136.7L400.3 136.6L401.2 136.2L402.1 135.7L402.1 135.7L403.1 135.2L403.7 134.8L404.0 134.6L404.9 133.8L405.0 133.7L405.7 132.8L405.9 132.5L406.3 131.9L406.8 130.9L406.9 130.8L407.2 129.9L407.5 129.0L407.8 128.0L407.8 128.0L408.1 127.0L408.5 126.1L408.8 125.3L408.8 125.1L409.3 124.2L409.7 123.4L409.8 123.2L410.4 122.2L410.7 121.9L411.1 121.3L411.6 120.5L411.8 120.3L412.5 119.3L412.5 119.2L413.0 118.4L413.3 117.4L413.3 116.4L413.1 115.5L412.7 114.5L412.5 114.1L412.2 113.5L411.6 112.6L411.6 112.6L410.8 111.6L410.7 111.4L410.0 110.6L409.7 110.3L409.2 109.7L408.8 109.0L408.5 108.7L408.0 107.8L407.8 107.4L407.6 106.8L407.3 105.8L407.1 104.9L407.1 103.9L407.2 102.9L407.3 102.0L407.6 101.0L407.8 100.4L408.0 100.0L408.4 99.1L408.8 98.5L409.0 98.1L409.7 97.1L409.7 97.1L410.5 96.2L410.7 96.0L411.5 95.2L411.6 95.1L412.5 94.5L413.0 94.2L413.5 94.0L414.4 93.6L415.4 93.3Z" fill="#f4721e"/>
<path d="M375.5 76.9L375.7 76.8L376.6 76.6L377.6 76.5L378.5 76.4L379.5 76.4L380.4 76.5L381.3 76.7L382.0 76.9L382.3 77.0L383.2 77.3L384.2 77.6L384.6 77.8L385.1 78.1L386.1 78.6L386.5 78.8L387.0 79.1L388.0 79.6L388.2 79.8L388.9 80.2L389.9 80.7L389.9 80.7L390.8 81.4L391.2 81.7L391.7 82.4L391.9 82.7L392.2 83.6L392.2 84.6L392.0 85.6L391.7 86.0L391.5 86.5L390.9 87.5L390.8 87.6L390.0 88.5L389.9 88.6L388.9 89.4L388.9 89.4L388.0 90.2L387.8 90.4L387.0 91.1L386.7 91.3L386.1 92.0L385.7 92.3L385.1 92.8L384.5 93.3L384.2 93.5L383.2 94.0L382.8 94.2L382.3 94.5L381.3 94.8L380.4 95.0L379.5 95.2L379.1 95.2L378.5 95.3L377.6 95.3L376.6 95.2L376.4 95.2L375.7 95.1L374.7 95.0L373.8 94.8L372.8 94.5L372.2 94.2L371.9 94.1L370.9 93.6L370.3 93.3L370.0 93.1L369.1 92.3L369.0 92.3L368.1 91.4L368.1 91.3L367.4 90.4L367.2 90.0L366.9 89.4L366.5 88.5L366.3 87.5L366.3 86.5L366.5 85.6L367.0 84.6L367.2 84.3L367.6 83.6L368.1 83.1L368.5 82.7L369.1 82.1L369.4 81.7L370.0 81.1L370.3 80.7L370.9 80.1L371.2 79.8L371.9 79.1L372.3 78.8L372.8 78.3L373.5 77.8L373.8 77.7L374.7 77.2ZM419.7 114.5L420.1 114.1L421.0 113.7L422.0 113.8L422.9 114.2L423.3 114.5L423.9 115.0L424.3 115.5L424.8 116.2L425.0 116.4L425.5 117.4L425.8 117.9L426.0 118.4L426.4 119.3L426.7 120.3L426.7 120.3L427.0 121.3L427.2 122.2L427.4 123.2L427.5 124.2L427.6 125.1L427.5 126.1L427.4 127.0L427.3 128.0L427.1 129.0L426.8 129.9L426.7 130.1L426.4 130.9L425.8 131.9L425.8 131.9L425.0 132.8L424.8 133.0L423.9 133.7L423.7 133.8L422.9 134.2L422.0 134.6L421.4 134.8L421.0 134.9L420.1 135.0L419.2 135.1L418.2 135.1L417.3 135.0L416.5 134.8L416.3 134.7L415.4 134.1L415.1 133.8L414.4 132.9L414.4 132.8L414.0 131.9L413.8 130.9L413.7 129.9L413.6 129.0L413.7 128.0L413.9 127.0L414.2 126.1L414.4 125.6L414.7 125.1L415.4 124.4L415.8 124.2L416.3 123.7L417.1 123.2L417.3 122.9L417.5 122.2L417.6 121.3L417.7 120.3L417.9 119.3L418.0 118.4L418.2 117.4L418.2 117.4L418.6 116.4L419.0 115.5L419.2 115.2ZM420.1 124.9L419.8 125.1L420.1 125.3L420.3 125.1Z" fill="#e65a0b"/>
<path d="M377.6 81.7L378.5 81.3L379.5 81.0L380.4 80.9L381.3 80.9L382.3 81.0L383.2 81.2L384.2 81.5L384.8 81.7L385.1 81.8L386.1 82.3L386.9 82.7L387.0 82.7L388.0 83.4L388.2 83.6L388.9 84.5L389.0 84.6L389.2 85.6L389.1 86.5L388.9 86.9L388.3 87.5L388.0 87.7L387.0 88.2L386.5 88.5L386.1 88.6L385.1 89.0L384.2 89.4L384.2 89.4L383.2 89.7L382.3 89.9L381.3 90.0L380.4 90.0L379.5 89.9L378.5 89.6L378.1 89.4L377.6 89.1L376.8 88.5L376.6 88.3L376.1 87.5L375.7 86.5L375.7 86.1L375.6 85.6L375.7 84.9L375.7 84.6L376.0 83.6L376.6 82.7L376.6 82.6L377.6 81.8Z" fill="#d04501"/>
<ellipse cx="390.8" cy="117.4" rx="12.8" ry="13.2" transform="rotate(0 390.8 117.4)" fill="#fda55f"/>
<ellipse cx="390.8" cy="117.4" rx="10" ry="10" transform="rotate(0 390.8 117.4)" fill="#fdbe84"/>
<ellipse cx="386.8" cy="121.4" rx="4" ry="3.5" transform="rotate(0 386.8 121.4)" fill="#fdd4aa"/>
</g>
<g fill="none" stroke="#000" stroke-opacity="0.62" stroke-width="0.75" stroke-dasharray="2 0.65"><ellipse cx="390.8" cy="117.4" rx="85.55" ry="87.32"/><ellipse cx="390.8" cy="117.4" rx="39.70" ry="40.52"/><ellipse cx="390.8" cy="117.4" rx="12.96" ry="13.23"/></g>
<g fill="none" stroke="#000" stroke-opacity="0.68" stroke-width="0.75" stroke-dasharray="2.3 1.1"><path d="M390.80 130.63L390.80 223.30"/><path d="M403.76 117.40L494.55 117.40"/><path d="M390.80 104.17L390.80 11.50"/><path d="M377.84 117.40L287.05 117.40"/></g>
<g fill="none" stroke="#000" stroke-opacity="0.62" stroke-width="0.7" stroke-dasharray="2 0.5"><path d="M397.28 128.86L442.68 209.11"/><path d="M402.03 124.02L480.65 170.35"/><path d="M402.03 110.78L480.65 64.45"/><path d="M397.28 105.94L442.68 25.69"/><path d="M384.32 105.94L338.93 25.69"/><path d="M379.57 110.78L300.95 64.45"/><path d="M379.57 124.02L300.95 170.35"/><path d="M384.32 128.86L338.92 209.11"/></g>
<g clip-path="url(#cob)" fill="none" stroke="#000" stroke-width="1.15" stroke-linejoin="round" stroke-linecap="round"><path d="M287.6 120L292.4 117.6L297.2 115.2L302 112L306.8 109.6L311.6 108L316.4 106.4L321.2 105.1L326 102.9L330 101.9L333.2 101.6L335.6 103.5L338.8 105.1L342.8 106.1L346 105.1L349.2 103.2L353.2 102.4L358 101.9L362 101.2L365.6 100L368.8 96L371.2 91.2L373.6 88.8L376.8 89.6L380.8 91.2L385.6 93.6L389.6 94.4L392.8 92.8L396 91.2L400 88.8L404 87.2L408.8 85.6L413.6 84.8L418.4 83.2L423.2 80.8L428 79.2L432.8 77.6L436 76.8L440 74.8L444.8 73.7L448.8 74.3L451.2 76.4L454.4 78L460.8 78.5L467.2 78.5L473.6 79.3L478.4 80.4L481.6 82L484.8 81.2L488.5 81.2"/><path d="M288.4 135.2L290.8 130.4L295.6 128L300.4 126.7L305.2 126.1L309.2 128.8L312.4 132L314.8 135.2L315.6 140.8L314.8 145.6L316.4 148.8L320.4 151.2L325.2 152.8L330 154.4L334 157.6L338 160.8L342 162.4L346 165.6L350 168.8L353.2 170.4L355.6 168L357.2 163.2L358 156.8L357.2 152L354.8 148L351.6 145.6L348.4 144L347.6 140.8L350 137.6L353.2 133.6L354.8 132L357.2 132.8L359.6 135.2L362.8 136.8L366 140L370 143L373 140L376 136L378 132L378.5 128L377.5 125L376 122.5L374 120.5L372.5 118L370.5 116.5L369.5 115L371 114L372 112L373.5 110L376 109L378.5 108L381 106L383 103.5L385 102L388 101.5L391 102L394 102.5L397 103L399.5 104.5L401.5 106L402.5 108L403 110.5L405 112L407.5 113.5L409 116L407 117L404 117.5L402 119L400.5 121.5L403 123L407 124L410 125L413 124.5L416 126L422.4 126.8L428.8 127.6L432 128.4L434.4 130.8L436.8 134L440 138L444 141.2L448 142.8L452.8 144.4L455.2 142.8L457.6 140.4L461.6 138L465.6 136.4L469.6 137.2L472 138.8L473.6 141.2L478.4 142L483.2 143.6L488 144.4L490.4 143.6L491.2 141.2"/><path d="M378.5 128L381 132L379 135L377.5 138L376 141L375 144L374 148L375 152L371 156L369 160L372 162L378 161L383 159L387 155L389 149L389 142L390.5 138L388 135L387 132.5L386 130L384 129L381 129.5"/><path d="M403 128.5L401 133L400 138L399 143L396 148L394 154L393 160L394 165L398 168L403 169L408 168L411 164L414 161L417.6 161.2L420.8 158L420.8 154L423.2 151.6L427.2 150.8L429.6 148.4L428.8 145.2L425.6 142.8L420.8 140.4L416 137.2L411 135L407 132L404.5 128.5L406 127L410 126L414 126"/><path d="M378.4 171.2L381.6 168L385.6 166.4L386.4 171.2L386.4 176L388 179.2L392.8 180L397.6 179.2L401.6 181.6L405.6 180L410.4 179.2L415.2 180L420 180.8L428 179L433 178L435.2 177.2L432.8 181.2L430.4 185.2L428 188.4L424 189.5L420 191.2L416.8 188.8L412 185.6L407.2 183.2L402.4 184L397.6 183.2L393.6 184.8L391.2 188L389.6 192L388 196L384.8 197.6L380.8 198.4L378.4 196L378.4 192.8L381.6 191.2L385.6 189.6L388 186.4L387.2 182.4L383.2 179.2L380 176L378.4 172.8Z"/><path d="M440 173.2L442.4 170L446.4 168.4L450.4 166.8L454.4 164.4L457.3 163.6L458.4 166.8L458.4 170L454.4 171.6L449.6 172.4L444.8 173.7Z"/><path d="M370.4 220.8L371.2 216L373.6 212L378.4 210.9L383.2 210.4L387.2 211.5L386.4 214.4L384 217.6L384 222.4"/></g>
<g fill="#000"></g>
<circle cx="390.8" cy="117.4" r="1.6" fill="#fff"/>
<ellipse cx="390.8" cy="117.4" rx="103.75" ry="105.9" fill="none" stroke="#222" stroke-width="1"/>
<clipPath id="cdc"><ellipse cx="134.65" cy="372.4" rx="83.52" ry="85.25"/></clipPath>
<clipPath id="coc"><ellipse cx="134.65" cy="372.4" rx="103.75" ry="105.9"/></clipPath>
<g clip-path="url(#cdc)">
<ellipse cx="134.65" cy="372.4" rx="103.75" ry="105.9" fill="#fff0e1"/>
<path d="M154.9 306.8L155.4 306.7L156.4 306.6L157.3 306.5L158.3 306.5L159.2 306.5L160.2 306.6L161.1 306.6L162.1 306.7L162.5 306.8L163.0 306.8L164.0 307.0L164.9 307.1L165.8 307.3L166.8 307.4L167.7 307.6L168.3 307.8L168.7 307.8L169.6 308.1L170.6 308.4L171.5 308.7L171.7 308.7L172.5 309.0L173.4 309.4L174.1 309.7L174.4 309.8L175.3 310.2L176.1 310.6L176.2 310.7L177.2 311.2L177.8 311.6L178.1 311.8L179.1 312.4L179.4 312.6L180.0 313.0L180.8 313.5L181.0 313.7L181.9 314.4L182.1 314.5L182.9 315.1L183.4 315.5L183.8 315.8L184.7 316.4L184.7 316.5L185.7 317.3L185.9 317.4L186.6 318.0L187.1 318.4L187.6 318.8L188.3 319.3L188.5 319.5L189.5 320.3L189.5 320.3L190.4 321.1L190.6 321.3L191.4 321.9L191.8 322.2L192.3 322.7L192.9 323.2L193.3 323.5L193.9 324.2L194.2 324.4L195.0 325.1L195.1 325.3L196.0 326.1L196.1 326.2L196.9 327.1L197.0 327.2L197.8 328.0L198.0 328.2L198.6 329.0L198.9 329.3L199.4 329.9L199.9 330.5L200.2 330.9L200.8 331.8L200.9 331.9L201.5 332.8L201.8 333.4L202.0 333.8L202.5 334.8L202.7 335.3L202.9 335.7L203.3 336.7L203.7 337.5L203.7 337.7L204.1 338.6L204.4 339.6L204.6 340.1L204.8 340.6L205.1 341.5L205.3 342.5L205.5 343.4L205.6 343.5L205.8 344.4L206.0 345.4L206.2 346.3L206.3 347.3L206.5 348.3L206.5 348.6L206.6 349.2L206.6 350.2L206.7 351.2L206.7 352.1L206.8 353.1L206.7 354.1L206.7 355.0L206.6 356.0L206.6 357.0L206.5 357.6L206.5 357.9L206.3 358.9L206.2 359.9L206.0 360.8L205.8 361.8L205.6 362.8L205.5 362.8L205.3 363.7L205.0 364.7L204.8 365.6L204.6 366.2L204.5 366.6L204.2 367.6L203.9 368.5L203.7 369.2L203.6 369.5L203.3 370.5L203.0 371.4L202.8 372.4L202.7 373.1L202.7 373.4L202.6 374.3L202.6 375.3L202.5 376.3L202.6 377.2L202.6 378.2L202.6 379.2L202.6 380.1L202.7 381.1L202.7 381.4L202.7 382.0L202.8 383.0L202.9 384.0L202.9 384.9L202.9 385.9L203.0 386.9L203.0 387.8L203.0 388.8L203.0 389.8L203.0 390.7L203.0 391.7L203.0 392.7L203.0 393.6L202.9 394.6L202.8 395.6L202.7 396.5L202.7 396.5L202.6 397.5L202.5 398.5L202.3 399.4L202.1 400.4L201.9 401.3L201.8 402.1L201.7 402.3L201.5 403.3L201.2 404.2L201.0 405.2L200.8 405.6L200.7 406.2L200.3 407.1L200.0 408.1L199.9 408.4L199.6 409.1L199.2 410.0L198.9 410.6L198.7 411.0L198.2 412.0L198.0 412.4L197.7 412.9L197.0 413.8L197.0 413.9L196.2 414.9L196.1 415.0L195.4 415.8L195.1 416.1L194.6 416.8L194.2 417.2L193.6 417.7L193.3 418.1L192.6 418.7L192.3 419.0L191.5 419.7L191.4 419.8L190.4 420.5L190.3 420.6L189.5 421.3L189.0 421.6L188.5 421.9L187.6 422.6L187.6 422.6L186.6 423.1L186.0 423.5L185.7 423.7L184.7 424.2L184.2 424.5L183.8 424.7L182.9 425.1L182.1 425.5L181.9 425.5L181.0 425.9L180.0 426.3L179.5 426.4L179.1 426.6L178.1 426.9L177.2 427.1L176.2 427.3L175.9 427.4L175.3 427.5L174.4 427.7L173.4 427.9L172.5 428.0L171.5 428.1L170.6 428.2L169.6 428.3L168.7 428.4L168.7 428.4L167.7 428.4L166.8 428.5L165.8 428.5L164.9 428.6L164.0 428.7L163.0 428.8L162.1 428.9L161.1 429.0L160.2 429.1L159.2 429.1L158.3 429.2L157.3 429.3L156.5 429.3L156.4 429.3L155.4 429.4L154.5 429.4L153.6 429.4L152.6 429.4L151.7 429.4L150.7 429.3L150.6 429.3L149.8 429.3L148.8 429.2L147.9 429.1L146.9 429.0L146.0 428.9L145.0 428.7L144.1 428.6L143.2 428.4L143.0 428.4L142.2 428.2L141.3 428.0L140.3 427.8L139.4 427.5L138.9 427.4L138.4 427.3L137.5 427.0L136.5 426.7L135.6 426.5L135.5 426.4L134.7 426.2L133.7 426.0L132.8 425.7L131.9 425.5L131.8 425.4L130.9 425.2L129.9 424.9L129.0 424.6L128.6 424.5L128.0 424.3L127.1 424.0L126.1 423.7L125.7 423.5L125.2 423.4L124.3 423.0L123.3 422.6L123.2 422.6L122.4 422.2L121.4 421.8L121.0 421.6L120.5 421.4L119.5 420.9L119.0 420.6L118.6 420.4L117.6 419.9L117.2 419.7L116.7 419.4L115.7 418.8L115.6 418.7L114.8 418.2L114.0 417.7L113.9 417.6L112.9 417.0L112.5 416.8L112.0 416.4L111.1 415.8L111.0 415.7L110.1 415.1L109.8 414.9L109.1 414.4L108.4 413.9L108.2 413.7L107.2 413.1L106.9 412.9L106.3 412.5L105.3 412.1L104.8 412.0L104.4 411.9L104.2 412.0L103.5 412.2L102.5 412.3L101.6 412.0L101.4 412.0L100.6 411.6L99.7 411.1L99.5 411.0L98.7 410.5L98.1 410.0L97.8 409.8L96.8 409.1L96.8 409.1L95.9 408.3L95.7 408.1L94.9 407.5L94.6 407.1L94.0 406.6L93.6 406.2L93.1 405.6L92.7 405.2L92.1 404.6L91.8 404.2L91.2 403.5L91.0 403.3L90.3 402.3L90.2 402.2L89.6 401.3L89.3 400.9L89.0 400.4L88.4 399.4L88.3 399.2L87.9 398.5L87.5 397.5L87.4 397.3L87.1 396.5L86.7 395.6L86.4 394.6L86.4 394.6L86.2 393.6L86.0 392.7L85.8 391.7L85.7 390.7L85.6 389.8L85.6 388.8L85.6 387.8L85.7 386.9L85.7 385.9L85.9 384.9L86.0 384.0L86.2 383.0L86.4 382.1L86.5 382.0L86.7 381.1L87.0 380.1L87.3 379.2L87.4 378.9L87.6 378.2L88.0 377.2L88.3 376.3L88.3 376.2L88.6 375.3L88.9 374.3L89.2 373.4L89.3 373.0L89.4 372.4L89.4 371.4L89.4 370.5L89.3 369.5L89.3 369.4L89.1 368.5L88.9 367.6L88.6 366.6L88.4 365.6L88.3 365.6L88.0 364.7L87.7 363.7L87.4 362.8L87.4 362.7L87.1 361.8L86.8 360.8L86.5 359.9L86.4 359.6L86.2 358.9L86.0 357.9L85.8 357.0L85.6 356.0L85.5 355.0L85.5 354.7L85.4 354.1L85.4 353.1L85.4 352.1L85.4 351.2L85.5 350.7L85.5 350.2L85.7 349.2L85.9 348.3L86.1 347.3L86.4 346.4L86.5 346.3L86.8 345.4L87.3 344.4L87.4 344.2L87.7 343.5L88.3 342.5L88.3 342.5L89.0 341.5L89.3 341.1L89.7 340.6L90.2 339.9L90.5 339.6L91.2 338.8L91.3 338.6L92.1 337.9L92.3 337.7L93.1 337.0L93.3 336.7L94.0 336.1L94.4 335.7L94.9 335.3L95.6 334.8L95.9 334.5L96.7 333.8L96.8 333.7L97.8 332.8L97.8 332.8L98.6 331.9L98.7 331.6L99.2 330.9L99.7 330.1L99.8 329.9L100.4 329.0L100.6 328.6L101.0 328.0L101.6 327.1L101.6 327.1L102.3 326.1L102.5 325.7L103.0 325.1L103.5 324.5L103.7 324.2L104.4 323.4L104.6 323.2L105.3 322.5L105.7 322.2L106.3 321.8L107.1 321.3L107.2 321.2L108.2 320.6L108.8 320.3L109.1 320.1L110.1 319.7L110.9 319.3L111.0 319.3L112.0 318.9L112.9 318.6L113.6 318.4L113.9 318.3L114.8 318.0L115.7 317.7L116.7 317.5L117.3 317.4L117.6 317.3L118.6 317.2L119.5 317.0L120.5 316.9L121.4 316.8L122.4 316.8L123.3 316.7L124.3 316.7L125.2 316.7L126.1 316.7L127.1 316.7L128.0 316.7L129.0 316.8L129.9 316.8L130.9 316.7L131.8 316.7L132.8 316.6L133.7 316.4L133.7 316.4L134.7 316.2L135.6 315.8L136.2 315.5L136.5 315.3L137.5 314.8L137.9 314.5L138.4 314.2L139.4 313.6L139.4 313.5L140.3 313.0L140.9 312.6L141.3 312.4L142.2 311.8L142.5 311.6L143.2 311.2L144.1 310.7L144.1 310.6L145.0 310.1L145.9 309.7L146.0 309.7L146.9 309.2L147.9 308.8L148.0 308.7L148.8 308.4L149.8 308.0L150.6 307.8L150.7 307.7L151.7 307.4L152.6 307.2L153.6 307.0L154.5 306.8Z" fill="#fee5cb"/>
<path d="M151.0 317.4L151.7 317.2L152.6 317.1L153.6 316.9L154.5 316.8L155.4 316.6L156.4 316.6L157.3 316.5L158.3 316.5L159.2 316.4L160.2 316.5L161.1 316.5L162.1 316.6L163.0 316.7L164.0 316.9L164.9 317.0L165.8 317.3L166.3 317.4L166.8 317.6L167.7 317.9L168.7 318.3L168.9 318.4L169.6 318.7L170.6 319.2L170.8 319.3L171.5 319.8L172.2 320.3L172.5 320.5L173.4 321.2L173.5 321.3L174.4 322.0L174.6 322.2L175.3 322.9L175.6 323.2L176.2 323.8L176.6 324.2L177.2 324.7L177.6 325.1L178.1 325.7L178.6 326.1L179.1 326.6L179.6 327.1L180.0 327.4L180.8 328.0L181.0 328.1L181.9 328.8L182.1 329.0L182.9 329.5L183.5 329.9L183.8 330.2L184.7 330.9L184.8 330.9L185.7 331.5L186.1 331.9L186.6 332.3L187.3 332.8L187.6 333.1L188.4 333.8L188.5 334.0L189.3 334.8L189.5 334.9L190.2 335.7L190.4 336.0L191.0 336.7L191.4 337.2L191.7 337.7L192.3 338.6L192.4 338.6L192.9 339.6L193.3 340.2L193.5 340.6L193.9 341.5L194.2 342.2L194.3 342.5L194.7 343.5L195.0 344.4L195.1 344.8L195.3 345.4L195.6 346.3L195.8 347.3L196.0 348.3L196.1 349.1L196.1 349.2L196.2 350.2L196.3 351.2L196.4 352.1L196.4 353.1L196.4 354.1L196.3 355.0L196.3 356.0L196.2 357.0L196.1 357.5L196.0 357.9L195.9 358.9L195.7 359.9L195.5 360.8L195.3 361.8L195.1 362.6L195.1 362.8L194.9 363.7L194.6 364.7L194.4 365.6L194.2 366.2L194.1 366.6L193.8 367.6L193.5 368.5L193.3 369.5L193.3 369.6L193.0 370.5L192.8 371.4L192.5 372.4L192.3 373.2L192.3 373.4L192.1 374.3L191.9 375.3L191.7 376.3L191.5 377.2L191.4 378.0L191.3 378.2L191.2 379.2L191.0 380.1L190.9 381.1L190.8 382.0L190.7 383.0L190.5 384.0L190.4 384.9L190.4 385.1L190.3 385.9L190.2 386.9L190.1 387.8L190.0 388.8L189.9 389.8L189.8 390.7L189.6 391.7L189.5 392.5L189.5 392.7L189.3 393.6L189.1 394.6L188.9 395.6L188.6 396.5L188.5 396.8L188.3 397.5L188.0 398.5L187.7 399.4L187.6 399.7L187.3 400.4L186.9 401.3L186.6 401.8L186.4 402.3L185.9 403.3L185.7 403.6L185.3 404.2L184.7 405.0L184.6 405.2L183.9 406.2L183.8 406.2L183.0 407.1L182.9 407.3L182.1 408.1L181.9 408.3L181.0 409.1L181.0 409.1L180.0 409.8L179.8 410.0L179.1 410.5L178.3 411.0L178.1 411.1L177.2 411.6L176.6 412.0L176.2 412.1L175.3 412.5L174.4 412.9L174.2 412.9L173.4 413.2L172.5 413.4L171.5 413.7L170.6 413.9L170.5 413.9L169.6 414.1L168.7 414.2L167.7 414.4L166.8 414.5L165.8 414.6L164.9 414.8L164.3 414.9L164.0 414.9L163.0 415.0L162.1 415.1L161.1 415.3L160.2 415.4L159.2 415.5L158.3 415.5L157.3 415.6L156.4 415.7L155.4 415.7L154.5 415.7L153.6 415.7L152.6 415.7L151.7 415.7L150.7 415.7L149.8 415.6L148.8 415.6L147.9 415.5L146.9 415.4L146.0 415.3L145.0 415.2L144.1 415.0L143.2 414.9L142.9 414.9L142.2 414.7L141.3 414.6L140.3 414.4L139.4 414.2L138.4 414.0L138.2 413.9L137.5 413.7L136.5 413.5L135.6 413.3L134.7 413.0L134.4 412.9L133.7 412.7L132.8 412.4L131.8 412.1L131.3 412.0L130.9 411.8L129.9 411.5L129.0 411.2L128.4 411.0L128.0 410.9L127.1 410.5L126.1 410.1L125.9 410.0L125.2 409.7L124.3 409.3L123.7 409.1L123.3 408.9L122.4 408.5L121.6 408.1L121.4 408.0L120.5 407.5L119.8 407.1L119.5 407.0L118.6 406.4L118.1 406.2L117.6 405.9L116.7 405.3L116.5 405.2L115.7 404.7L115.0 404.2L114.8 404.1L113.9 403.5L113.6 403.3L112.9 402.8L112.2 402.3L112.0 402.2L111.0 401.5L110.8 401.3L110.1 400.8L109.5 400.4L109.1 400.1L108.2 399.4L108.2 399.4L107.2 398.6L107.0 398.5L106.3 397.9L105.9 397.5L105.3 397.1L104.7 396.5L104.4 396.3L103.5 395.6L103.4 395.6L102.5 394.9L102.1 394.6L101.6 394.2L100.9 393.6L100.6 393.3L100.0 392.7L99.7 392.3L99.1 391.7L98.7 391.1L98.5 390.7L97.9 389.8L97.8 389.5L97.5 388.8L97.1 387.8L96.8 386.9L96.8 386.8L96.7 385.9L96.6 384.9L96.6 384.0L96.6 383.0L96.8 382.0L96.8 381.7L97.0 381.1L97.2 380.1L97.6 379.2L97.8 378.6L97.9 378.2L98.4 377.2L98.7 376.5L98.8 376.3L99.3 375.3L99.7 374.5L99.8 374.3L100.2 373.4L100.6 372.4L100.6 372.3L100.8 371.4L101.0 370.5L101.0 369.5L100.9 368.5L100.7 367.6L100.6 367.3L100.4 366.6L100.1 365.6L99.8 364.7L99.7 364.5L99.4 363.7L98.9 362.8L98.7 362.3L98.5 361.8L98.1 360.8L97.8 360.1L97.7 359.9L97.3 358.9L97.0 357.9L96.8 357.5L96.7 357.0L96.4 356.0L96.2 355.0L96.0 354.1L95.9 353.1L95.9 352.8L95.9 352.1L95.9 351.2L95.9 350.8L95.9 350.2L96.1 349.2L96.3 348.3L96.5 347.3L96.8 346.5L96.9 346.3L97.3 345.4L97.8 344.4L97.8 344.4L98.3 343.5L98.7 342.8L98.9 342.5L99.5 341.5L99.7 341.3L100.2 340.6L100.6 340.1L101.0 339.6L101.6 338.8L101.7 338.6L102.5 337.7L102.5 337.6L103.3 336.7L103.5 336.5L104.2 335.7L104.4 335.5L105.3 334.9L105.5 334.8L106.3 334.4L107.2 334.0L107.8 333.8L108.2 333.7L109.1 333.4L110.1 333.2L111.0 332.9L111.3 332.8L112.0 332.6L112.9 332.2L113.5 331.9L113.9 331.6L114.8 331.0L114.9 330.9L115.7 330.2L116.1 329.9L116.7 329.5L117.4 329.0L117.6 328.8L118.6 328.2L118.8 328.0L119.5 327.6L120.5 327.1L120.5 327.0L121.4 326.6L122.4 326.2L122.7 326.1L123.3 325.9L124.3 325.6L125.2 325.4L126.1 325.2L126.9 325.1L127.1 325.1L128.0 325.0L129.0 325.0L129.9 324.9L130.9 324.9L131.8 324.9L132.8 324.8L133.7 324.6L134.7 324.4L135.3 324.2L135.6 324.0L136.5 323.6L137.4 323.2L137.5 323.1L138.4 322.6L139.2 322.2L139.4 322.1L140.3 321.6L141.0 321.3L141.3 321.1L142.2 320.6L142.9 320.3L143.2 320.2L144.1 319.7L145.0 319.3L145.0 319.3L146.0 318.9L146.9 318.6L147.6 318.4L147.9 318.3L148.8 318.0L149.8 317.7L150.7 317.5Z" fill="#fdd4aa"/>
<path d="M146.8 325.1L146.9 325.1L147.9 324.9L148.8 324.7L149.8 324.5L150.7 324.4L151.7 324.4L152.6 324.3L153.6 324.3L154.5 324.3L155.4 324.3L156.4 324.3L157.3 324.3L158.3 324.3L159.2 324.3L160.2 324.3L161.1 324.3L162.1 324.3L163.0 324.4L164.0 324.5L164.9 324.7L165.8 325.0L166.1 325.1L166.8 325.4L167.7 326.0L167.9 326.1L168.7 326.6L169.2 327.1L169.6 327.4L170.3 328.0L170.6 328.3L171.2 329.0L171.5 329.4L172.0 329.9L172.5 330.5L172.8 330.9L173.4 331.7L173.6 331.9L174.4 332.7L174.5 332.8L175.3 333.5L175.7 333.8L176.2 334.2L177.0 334.8L177.2 334.9L178.1 335.6L178.3 335.7L179.1 336.3L179.5 336.7L180.0 337.1L180.7 337.7L181.0 337.9L181.7 338.6L181.9 338.8L182.6 339.6L182.9 339.8L183.5 340.6L183.8 341.0L184.3 341.5L184.7 342.2L184.9 342.5L185.5 343.5L185.7 343.7L186.1 344.4L186.5 345.4L186.6 345.6L187.0 346.3L187.3 347.3L187.6 348.2L187.6 348.3L187.9 349.2L188.1 350.2L188.3 351.2L188.4 352.1L188.5 353.1L188.5 354.1L188.5 355.0L188.5 356.0L188.4 357.0L188.3 357.9L188.2 358.9L188.1 359.9L187.9 360.8L187.7 361.8L187.6 362.1L187.4 362.8L187.1 363.7L186.9 364.7L186.6 365.3L186.5 365.6L186.2 366.6L185.9 367.6L185.7 368.0L185.5 368.5L185.1 369.5L184.8 370.5L184.7 370.5L184.4 371.4L184.0 372.4L183.8 372.8L183.5 373.4L183.1 374.3L182.9 374.8L182.7 375.3L182.3 376.3L182.0 377.2L181.9 377.6L181.8 378.2L181.6 379.2L181.4 380.1L181.2 381.1L181.0 382.0L181.0 382.4L180.9 383.0L180.7 384.0L180.5 384.9L180.3 385.9L180.1 386.9L180.0 387.2L179.9 387.8L179.6 388.8L179.3 389.8L179.1 390.5L179.0 390.7L178.6 391.7L178.2 392.7L178.1 392.9L177.8 393.6L177.3 394.6L177.2 394.8L176.7 395.6L176.2 396.3L176.1 396.5L175.3 397.5L175.3 397.5L174.5 398.5L174.4 398.6L173.5 399.4L173.4 399.5L172.5 400.3L172.4 400.4L171.5 401.0L171.0 401.3L170.6 401.6L169.6 402.2L169.4 402.3L168.7 402.6L167.7 403.1L167.2 403.3L166.8 403.4L165.8 403.7L164.9 404.0L164.1 404.2L164.0 404.3L163.0 404.5L162.1 404.7L161.1 404.9L160.2 405.1L159.3 405.2L159.2 405.2L158.3 405.3L157.3 405.4L156.4 405.5L155.4 405.6L154.5 405.6L153.6 405.7L152.6 405.7L151.7 405.7L150.7 405.7L149.8 405.6L148.8 405.6L147.9 405.5L146.9 405.5L146.0 405.4L145.0 405.3L144.5 405.2L144.1 405.2L143.2 405.0L142.2 404.9L141.3 404.7L140.3 404.5L139.4 404.3L138.9 404.2L138.4 404.1L137.5 403.9L136.5 403.7L135.6 403.4L134.9 403.3L134.7 403.2L133.7 403.0L132.8 402.8L131.8 402.6L130.9 402.3L130.7 402.3L129.9 402.1L129.0 401.8L128.0 401.5L127.6 401.3L127.1 401.2L126.1 400.8L125.2 400.4L125.2 400.4L124.3 400.0L123.3 399.5L123.1 399.4L122.4 399.1L121.4 398.6L121.2 398.5L120.5 398.0L119.5 397.5L119.5 397.5L118.6 396.9L117.9 396.5L117.6 396.3L116.7 395.7L116.5 395.6L115.7 395.1L115.1 394.6L114.8 394.4L113.9 393.7L113.7 393.6L112.9 393.0L112.5 392.7L112.0 392.3L111.3 391.7L111.0 391.5L110.1 390.7L110.1 390.7L109.1 389.9L109.0 389.8L108.2 389.0L108.0 388.8L107.2 388.0L107.0 387.8L106.3 386.9L106.2 386.9L105.6 385.9L105.3 385.5L105.1 384.9L104.8 384.0L104.7 383.0L104.9 382.0L105.3 381.1L105.3 381.0L105.9 380.1L106.3 379.7L106.7 379.2L107.2 378.5L107.5 378.2L108.2 377.3L108.3 377.2L109.0 376.3L109.1 376.1L109.6 375.3L110.1 374.6L110.2 374.3L110.7 373.4L111.0 372.4L111.0 371.4L111.0 371.4L111.0 371.4L110.9 370.5L110.8 369.5L110.6 368.5L110.4 367.6L110.1 366.6L110.1 366.3L109.9 365.6L109.6 364.7L109.2 363.7L109.1 363.5L108.9 362.8L108.5 361.8L108.2 361.1L108.1 360.8L107.6 359.9L107.2 359.0L107.2 358.9L106.8 357.9L106.3 357.0L106.3 356.9L105.9 356.0L105.5 355.0L105.3 354.5L105.2 354.1L104.9 353.1L104.7 352.1L104.7 351.2L104.8 350.2L105.0 349.2L105.3 348.6L105.5 348.3L106.1 347.3L106.3 347.0L106.8 346.3L107.2 345.9L107.7 345.4L108.2 345.0L108.8 344.4L109.1 344.2L110.1 343.5L110.2 343.5L111.0 343.0L112.0 342.5L112.0 342.5L112.9 342.0L113.9 341.6L114.0 341.5L114.8 341.1L115.7 340.7L116.0 340.6L116.7 340.2L117.6 339.7L117.8 339.6L118.6 339.1L119.4 338.6L119.5 338.5L120.5 337.9L120.7 337.7L121.4 337.1L122.0 336.7L122.4 336.4L123.1 335.7L123.3 335.6L124.3 334.8L124.3 334.8L125.2 334.1L125.5 333.8L126.1 333.4L127.1 332.8L127.1 332.8L128.0 332.6L129.0 332.6L129.8 332.8L129.9 332.9L130.9 333.5L131.5 333.8L131.8 334.0L132.8 334.4L133.7 334.5L134.7 334.2L135.1 333.8L135.6 333.3L135.9 332.8L136.5 332.0L136.7 331.9L137.4 330.9L137.5 330.9L138.3 329.9L138.4 329.8L139.3 329.0L139.4 329.0L140.3 328.2L140.5 328.0L141.3 327.5L142.0 327.1L142.2 326.9L143.2 326.4L143.9 326.1L144.1 326.0L145.0 325.6L146.0 325.3Z" fill="#fdbe84"/>
<path d="M148.5 330.9L148.8 330.9L149.8 330.9L150.7 330.9L151.0 330.9L151.7 331.0L152.6 331.1L153.6 331.2L154.5 331.4L155.4 331.5L156.4 331.7L157.1 331.9L157.3 331.9L158.3 332.1L159.2 332.2L160.2 332.3L161.1 332.3L162.1 332.1L162.8 331.9L163.0 331.8L164.0 331.6L164.9 331.5L165.8 331.8L166.1 331.9L166.8 332.2L167.7 332.7L167.9 332.8L168.7 333.5L169.0 333.8L169.6 334.3L170.1 334.8L170.6 335.3L171.0 335.7L171.5 336.3L172.0 336.7L172.5 337.2L172.9 337.7L173.4 338.2L173.8 338.6L174.4 339.2L174.7 339.6L175.3 340.3L175.6 340.6L176.2 341.3L176.4 341.5L177.2 342.5L177.2 342.5L177.9 343.5L178.1 343.8L178.6 344.4L179.1 345.2L179.2 345.4L179.7 346.3L180.0 347.0L180.2 347.3L180.6 348.3L181.0 349.2L181.0 349.3L181.3 350.2L181.5 351.2L181.7 352.1L181.9 353.1L181.9 353.5L182.0 354.1L182.0 355.0L182.0 356.0L182.0 357.0L181.9 357.9L181.9 358.0L181.8 358.9L181.6 359.9L181.4 360.8L181.1 361.8L181.0 362.3L180.8 362.8L180.4 363.7L180.0 364.7L180.0 364.7L179.6 365.6L179.1 366.5L179.0 366.6L178.4 367.6L178.1 368.0L177.8 368.5L177.2 369.4L177.1 369.5L176.5 370.5L176.2 370.8L175.8 371.4L175.3 372.4L175.3 372.5L175.1 373.4L174.9 374.3L174.7 375.3L174.6 376.3L174.4 377.2L174.4 377.7L174.3 378.2L174.1 379.2L173.8 380.1L173.6 381.1L173.4 381.7L173.3 382.0L172.9 383.0L172.6 384.0L172.5 384.2L172.1 384.9L171.6 385.9L171.5 386.1L171.1 386.9L170.6 387.7L170.5 387.8L169.8 388.8L169.6 389.0L169.0 389.8L168.7 390.2L168.1 390.7L167.7 391.1L167.1 391.7L166.8 391.9L165.8 392.7L165.8 392.7L164.9 393.3L164.2 393.6L164.0 393.7L163.0 394.1L162.1 394.4L161.5 394.6L161.1 394.7L160.2 394.9L159.2 395.1L158.3 395.2L157.3 395.4L156.4 395.5L155.5 395.6L155.4 395.6L154.5 395.6L153.6 395.7L152.6 395.7L151.7 395.7L150.7 395.8L149.8 395.8L148.8 395.8L147.9 395.8L146.9 395.8L146.0 395.7L145.0 395.7L144.1 395.7L143.2 395.6L142.2 395.6L141.3 395.6L141.1 395.6L140.3 395.5L139.4 395.5L138.4 395.4L137.5 395.3L136.5 395.2L135.6 395.1L134.7 395.0L133.7 394.7L133.4 394.6L132.8 394.3L131.8 394.0L131.0 393.6L130.9 393.6L129.9 393.2L129.0 392.8L128.7 392.7L128.0 392.4L127.1 391.9L126.6 391.7L126.1 391.5L125.2 391.0L124.7 390.7L124.3 390.5L123.3 390.0L123.0 389.8L122.4 389.4L121.5 388.8L121.4 388.7L120.5 388.0L120.2 387.8L119.5 387.2L119.1 386.9L118.6 386.3L118.2 385.9L117.6 385.1L117.5 384.9L116.9 384.0L116.7 383.5L116.5 383.0L116.2 382.0L115.9 381.1L115.8 380.1L115.8 379.2L115.8 378.2L115.8 377.2L115.8 376.3L115.9 375.3L115.9 374.3L115.9 373.4L116.0 372.4L116.1 371.4L116.3 370.5L116.4 369.5L116.6 368.5L116.7 367.9L116.8 367.6L116.9 366.6L117.1 365.6L117.3 364.7L117.5 363.7L117.6 362.9L117.7 362.8L117.9 361.8L118.2 360.8L118.5 359.9L118.6 359.5L118.8 358.9L119.3 357.9L119.5 357.5L119.8 357.0L120.5 356.1L120.6 356.0L121.4 355.1L121.5 355.0L122.4 354.3L122.7 354.1L123.3 353.7L124.3 353.1L124.3 353.1L125.2 352.6L126.1 352.2L126.3 352.1L127.1 351.8L128.0 351.4L128.5 351.2L129.0 351.0L129.9 350.6L130.7 350.2L130.9 350.1L131.8 349.6L132.4 349.2L132.8 349.0L133.7 348.3L133.7 348.3L134.7 347.4L134.7 347.3L135.4 346.3L135.6 346.1L136.0 345.4L136.5 344.6L136.6 344.4L137.2 343.5L137.5 343.0L137.8 342.5L138.3 341.5L138.4 341.4L138.9 340.6L139.4 339.7L139.4 339.6L140.0 338.6L140.3 337.9L140.5 337.7L140.9 336.7L141.3 336.1L141.4 335.7L141.9 334.8L142.2 334.3L142.5 333.8L143.2 332.9L143.2 332.8L144.1 332.1L144.5 331.9L145.0 331.6L146.0 331.3L146.9 331.1L147.9 331.0Z" fill="#fda55f"/>
<path d="M154.6 337.7L155.4 337.6L156.4 337.6L157.3 337.5L158.3 337.5L159.2 337.4L160.2 337.3L161.1 337.2L162.1 337.0L163.0 336.9L164.0 336.9L164.9 337.0L165.8 337.5L166.1 337.7L166.8 338.2L167.2 338.6L167.7 339.2L168.1 339.6L168.7 340.3L168.9 340.6L169.6 341.5L169.7 341.5L170.4 342.5L170.6 342.7L171.1 343.5L171.5 344.1L171.7 344.4L172.4 345.4L172.5 345.5L173.0 346.3L173.4 347.1L173.5 347.3L174.1 348.3L174.4 348.9L174.5 349.2L174.9 350.2L175.3 351.2L175.3 351.2L175.6 352.1L175.8 353.1L176.0 354.1L176.2 355.0L176.2 355.9L176.2 356.0L176.3 357.0L176.2 357.9L176.2 357.9L176.2 358.9L176.0 359.9L175.8 360.8L175.6 361.8L175.3 362.6L175.3 362.8L174.9 363.7L174.5 364.7L174.4 364.9L174.0 365.6L173.5 366.6L173.4 366.9L173.1 367.6L172.6 368.5L172.5 368.8L172.1 369.5L171.7 370.5L171.5 371.0L171.3 371.4L171.0 372.4L170.7 373.4L170.6 373.7L170.3 374.3L170.0 375.3L169.6 376.1L169.5 376.3L169.0 377.2L168.7 377.8L168.4 378.2L167.7 379.0L167.6 379.2L166.8 379.9L166.5 380.1L165.8 380.6L164.9 381.1L164.9 381.1L164.0 381.4L163.0 381.7L162.1 381.7L161.1 381.7L160.2 381.4L159.3 381.1L159.2 381.1L158.3 380.4L157.9 380.1L157.3 379.5L157.0 379.2L156.5 378.2L156.4 377.6L156.3 377.2L156.2 376.3L156.2 375.3L156.3 374.3L156.3 373.4L155.5 372.4L155.4 372.4L155.4 372.4L154.5 373.1L154.3 373.4L153.9 374.3L153.6 375.1L153.5 375.3L152.9 376.3L152.6 376.6L152.0 377.2L151.7 377.5L150.7 378.2L150.7 378.2L149.8 378.7L148.8 379.0L148.5 379.2L147.9 379.3L146.9 379.5L146.0 379.7L145.0 379.7L144.1 379.8L143.2 379.7L142.2 379.7L141.3 379.6L140.3 379.4L139.4 379.3L138.5 379.2L138.4 379.1L137.5 378.9L136.5 378.7L135.6 378.5L134.7 378.3L134.4 378.2L133.7 377.9L132.8 377.6L131.9 377.2L131.8 377.2L130.9 376.6L130.4 376.3L129.9 375.7L129.6 375.3L129.1 374.3L129.0 373.4L129.3 372.4L129.8 371.4L129.9 371.3L130.7 370.5L130.9 370.4L131.8 369.6L132.0 369.5L132.8 369.0L133.5 368.5L133.7 368.4L134.7 367.9L135.2 367.6L135.6 367.3L136.5 366.8L136.8 366.6L137.5 366.1L138.1 365.6L138.4 365.4L139.2 364.7L139.4 364.5L140.0 363.7L140.3 363.3L140.7 362.8L141.1 361.8L141.3 361.4L141.4 360.8L141.6 359.9L141.7 358.9L141.8 357.9L141.8 357.0L141.8 356.0L141.9 355.0L142.0 354.1L142.1 353.1L142.2 352.7L142.3 352.1L142.5 351.2L142.7 350.2L143.0 349.2L143.2 348.6L143.2 348.3L143.6 347.3L143.9 346.3L144.1 345.9L144.3 345.4L144.8 344.4L145.0 343.8L145.2 343.5L145.8 342.5L146.0 342.2L146.4 341.5L146.9 340.9L147.2 340.6L147.9 339.9L148.3 339.6L148.8 339.2L149.8 338.7L149.9 338.6L150.7 338.3L151.7 338.1L152.6 337.9L153.6 337.8L154.5 337.7Z" fill="#fd8c3b"/>
<path d="M155.6 345.4L156.4 345.2L157.3 345.0L158.3 344.9L159.2 344.9L160.2 345.0L161.1 345.2L161.5 345.4L162.1 345.6L163.0 346.2L163.2 346.3L164.0 346.9L164.3 347.3L164.9 347.8L165.4 348.3L165.8 348.7L166.3 349.2L166.8 349.8L167.1 350.2L167.7 351.0L167.8 351.2L168.4 352.1L168.7 352.6L169.0 353.1L169.4 354.1L169.6 354.7L169.8 355.0L170.0 356.0L170.2 357.0L170.4 357.9L170.4 358.9L170.4 359.9L170.3 360.8L170.1 361.8L169.9 362.8L169.6 363.5L169.5 363.7L169.1 364.7L168.7 365.6L168.7 365.6L168.2 366.6L167.7 367.6L167.7 367.6L167.2 368.5L166.8 369.5L166.8 369.7L166.4 370.5L166.0 371.4L165.8 371.7L165.3 372.4L164.9 372.8L164.0 372.7L163.7 372.4L163.0 371.6L162.9 371.4L162.4 370.5L162.1 369.9L161.9 369.5L161.2 368.5L161.1 368.4L160.5 367.6L160.2 367.2L159.6 366.6L159.2 366.2L158.6 365.6L158.3 365.3L157.6 364.7L157.3 364.5L156.5 363.7L156.4 363.6L155.5 362.8L155.4 362.7L154.6 361.8L154.5 361.7L153.8 360.8L153.6 360.4L153.2 359.9L152.6 359.0L152.6 358.9L152.0 357.9L151.7 357.2L151.5 357.0L151.1 356.0L150.7 355.0L150.7 355.0L150.4 354.1L150.3 353.1L150.2 352.1L150.3 351.2L150.6 350.2L150.7 349.8L151.0 349.2L151.6 348.3L151.7 348.1L152.4 347.3L152.6 347.1L153.6 346.4L153.6 346.3L154.5 345.8L155.4 345.4Z" fill="#f4721e"/>
<ellipse cx="134.7" cy="372.4" rx="12.8" ry="13.2" transform="rotate(0 134.7 372.4)" fill="#fda55f"/>
<ellipse cx="127.7" cy="375.4" rx="2" ry="1.5" transform="rotate(0 127.7 375.4)" fill="#fd8c3b"/>
</g>
<g fill="none" stroke="#000" stroke-opacity="0.62" stroke-width="0.75" stroke-dasharray="2 0.65"><ellipse cx="134.65" cy="372.4" rx="85.55" ry="87.32"/><ellipse cx="134.65" cy="372.4" rx="39.70" ry="40.52"/><ellipse cx="134.65" cy="372.4" rx="12.96" ry="13.23"/></g>
<g fill="none" stroke="#000" stroke-opacity="0.68" stroke-width="0.75" stroke-dasharray="2.3 1.1"><path d="M134.65 385.63L134.65 478.30"/><path d="M147.61 372.40L238.40 372.40"/><path d="M134.65 359.17L134.65 266.50"/><path d="M121.69 372.40L30.90 372.40"/></g>
<g fill="none" stroke="#000" stroke-opacity="0.62" stroke-width="0.7" stroke-dasharray="2 0.5"><path d="M141.13 383.86L186.53 464.11"/><path d="M145.88 379.02L224.50 425.35"/><path d="M145.88 365.78L224.50 319.45"/><path d="M141.13 360.94L186.53 280.69"/><path d="M128.17 360.94L82.77 280.69"/><path d="M123.42 365.78L44.80 319.45"/><path d="M123.42 379.02L44.80 425.35"/><path d="M128.17 383.86L82.77 464.11"/></g>
<g clip-path="url(#coc)" fill="none" stroke="#000" stroke-width="1.15" stroke-linejoin="round" stroke-linecap="round"><path d="M79.6 282L84.4 282.8L89.2 285.2L93.2 288.4L95.6 293.2L95.6 298L96.4 303.6L95.6 308.4L92.4 312.4L87.6 313.5L82.8 312.7L78 313.2L73.2 314.5L70 316.4L69.2 320.4L68.4 325.2L66.8 329.2L64.4 333.2L62.8 335.6L58.8 334.8L54.8 333.2L50 331.6L46 329.2L44.4 324.4L45.2 319.6L44.4 318"/><path d="M116.8 347.8L121 346.6L125.2 346.6L128.8 347.8L129.4 350.2L128.8 353.2L130.6 355.6L133.6 356.2L137.2 356.2L140.2 356.8L143.2 357L146.4 357.8L149.6 359L152 361L153.2 363.8L152.8 366.2L154.8 367.4L156.8 367.8L157.2 369.8L156.8 371.8L155.6 373.8L155.6 375.8L157.2 377.8L159.2 380.2L161.2 382.6L163.2 385.4L164 387.8L161.6 387L159.2 385.8L156.8 384.6L154.4 383.4L152 382.6L148.8 382.6L146.4 383.4L144.4 384.6L143.6 387L143.2 389.4L142.4 391.8L140.8 393.2L137.2 394L132.4 395.2L127.6 395.2L122.8 394.6L118 392.8L114.4 391.6L110.8 389.2L109 386.2L109.6 383.2L109 380.8L107.2 378.4L105.4 376L104.8 372.4L104.2 368.8L104.8 365.2L105.4 361.6L107.2 358L109.6 354.4L112 351.4L114.4 349L116.8 347.8Z"/><path d="M231.4 408.4L229 407.6L224.2 405.2L219.4 402.8L214.6 400.4L209.8 398.8L206.6 396.4L203.4 394L199.4 392.4L195.4 392.4L192.2 390L187.4 388.4L182.6 387.6L180.2 389.2L184.2 391.6L187.4 394.8L190.6 398L193.8 401.2L197 405.2L197.8 410L198.6 414.8L199.4 419.6L200.7 425.8L203 431L204.8 434.5L205.5 438.5L204.7 441.4L202.7 445.8L201.2 449L202.8 451.2"/><path d="M76.4 458.8L78 454.8L81.2 452.4L85.2 450.8L90 448.4L94.8 446L99.6 445.2L104.4 446.5L107.6 449.2L107.9 454.8L109.2 461.2L110 466L109.5 470.8L109.5 474.8"/><path d="M58 442.8L60.4 440.4L64.4 439.6L66.8 442L66 444.4L62.8 446"/></g>
<g fill="#000"><circle cx="126" cy="306.2" r="1.15"/><circle cx="123.7" cy="309.7" r="1.25"/><circle cx="179.6" cy="389.4" r="0.8"/></g>
<circle cx="134.65" cy="372.4" r="1.6" fill="#fff"/>
<ellipse cx="134.65" cy="372.4" rx="103.75" ry="105.9" fill="none" stroke="#222" stroke-width="1"/>
<clipPath id="cdd"><ellipse cx="390.8" cy="372.4" rx="83.52" ry="85.25"/></clipPath>
<clipPath id="cod"><ellipse cx="390.8" cy="372.4" rx="103.75" ry="105.9"/></clipPath>
<g clip-path="url(#cdd)">
<ellipse cx="390.8" cy="372.4" rx="103.75" ry="105.9" fill="#fff0e1"/>
<path d="M403.1 305.8L403.1 305.8L404.0 305.7L405.0 305.5L405.9 305.4L406.9 305.4L407.8 305.3L408.8 305.3L409.7 305.3L410.7 305.4L411.6 305.5L412.5 305.6L413.5 305.7L414.0 305.8L414.4 305.9L415.4 306.1L416.3 306.4L417.3 306.6L417.8 306.8L418.2 306.9L419.2 307.2L420.1 307.6L420.7 307.8L421.0 307.9L422.0 308.2L422.9 308.5L423.5 308.7L423.9 308.8L424.8 309.2L425.8 309.6L426.1 309.7L426.7 309.9L427.7 310.4L428.3 310.6L428.6 310.8L429.6 311.3L430.2 311.6L430.5 311.8L431.4 312.3L432.0 312.6L432.4 312.8L433.3 313.4L433.6 313.5L434.3 314.0L435.1 314.5L435.2 314.6L436.2 315.3L436.5 315.5L437.1 315.9L437.8 316.4L438.1 316.7L439.0 317.4L439.0 317.4L440.0 318.2L440.1 318.4L440.9 319.0L441.2 319.3L441.8 319.9L442.3 320.3L442.8 320.8L443.3 321.3L443.7 321.7L444.2 322.2L444.7 322.7L445.1 323.2L445.6 323.8L446.0 324.2L446.6 324.8L446.8 325.1L447.5 326.0L447.6 326.1L448.4 327.1L448.5 327.1L449.2 328.0L449.4 328.3L449.9 329.0L450.4 329.6L450.6 329.9L451.3 330.9L451.3 330.9L452.0 331.9L452.2 332.2L452.7 332.8L453.2 333.5L453.4 333.8L454.1 334.8L454.1 334.8L454.8 335.7L455.1 336.1L455.4 336.7L456.0 337.6L456.1 337.7L456.6 338.6L457.0 339.2L457.2 339.6L457.7 340.6L457.9 341.0L458.2 341.5L458.6 342.5L458.9 343.1L459.0 343.5L459.4 344.4L459.7 345.4L459.8 345.6L460.1 346.3L460.3 347.3L460.6 348.3L460.8 348.9L460.8 349.2L461.0 350.2L461.2 351.2L461.4 352.1L461.5 353.1L461.6 354.1L461.6 355.0L461.7 356.0L461.7 356.3L461.7 357.0L461.7 357.9L461.7 358.9L461.7 359.0L461.7 359.9L461.6 360.8L461.5 361.8L461.5 362.8L461.4 363.7L461.3 364.7L461.1 365.6L461.0 366.6L460.9 367.6L460.8 368.5L460.8 369.2L460.7 369.5L460.7 370.5L460.6 371.4L460.6 372.4L460.7 373.4L460.8 374.0L460.8 374.3L460.9 375.3L461.1 376.3L461.3 377.2L461.4 378.2L461.6 379.2L461.7 379.7L461.8 380.1L461.9 381.1L462.1 382.0L462.2 383.0L462.3 384.0L462.4 384.9L462.5 385.9L462.5 386.9L462.5 387.8L462.6 388.8L462.5 389.8L462.5 390.7L462.4 391.7L462.3 392.7L462.2 393.6L462.1 394.6L461.9 395.6L461.7 396.4L461.7 396.5L461.4 397.5L461.2 398.5L460.9 399.4L460.8 399.9L460.6 400.4L460.2 401.3L459.9 402.3L459.8 402.4L459.5 403.3L459.0 404.2L458.9 404.6L458.5 405.2L458.0 406.2L457.9 406.4L457.5 407.1L457.0 408.0L456.9 408.1L456.3 409.1L456.0 409.5L455.7 410.0L455.1 410.9L455.0 411.0L454.3 412.0L454.1 412.2L453.6 412.9L453.2 413.5L452.9 413.9L452.2 414.8L452.2 414.9L451.4 415.8L451.3 415.9L450.5 416.8L450.4 417.0L449.6 417.7L449.4 418.0L448.6 418.7L448.5 418.8L447.5 419.6L447.5 419.7L446.6 420.3L446.1 420.6L445.6 421.0L444.7 421.6L444.6 421.6L443.7 422.1L442.8 422.6L442.8 422.6L441.8 423.0L440.9 423.4L440.6 423.5L440.0 423.8L439.0 424.2L438.3 424.5L438.1 424.6L437.1 425.0L436.2 425.5L436.2 425.5L435.2 426.0L434.5 426.4L434.3 426.6L433.3 427.2L433.1 427.4L432.4 428.0L432.0 428.4L431.4 428.8L430.8 429.3L430.5 429.6L429.7 430.3L429.6 430.4L428.6 431.2L428.6 431.3L427.7 432.0L427.4 432.2L426.7 432.7L426.0 433.2L425.8 433.4L424.8 434.0L424.6 434.2L423.9 434.6L423.0 435.1L422.9 435.1L422.0 435.6L421.1 436.1L421.0 436.1L420.1 436.5L419.2 436.9L418.9 437.0L418.2 437.3L417.3 437.6L416.3 437.9L415.9 438.0L415.4 438.2L414.4 438.4L413.5 438.5L412.5 438.7L411.6 438.7L410.7 438.8L409.7 438.8L408.8 438.8L407.8 438.7L406.9 438.6L405.9 438.5L405.0 438.4L404.0 438.2L403.3 438.0L403.1 438.0L402.1 437.7L401.2 437.5L400.3 437.2L399.8 437.0L399.3 436.9L398.4 436.6L397.4 436.3L396.8 436.1L396.5 436.0L395.5 435.7L394.6 435.4L393.7 435.1L393.6 435.1L392.7 434.8L391.7 434.6L390.8 434.4L389.9 434.3L389.0 434.2L388.9 434.1L388.0 434.0L387.0 434.0L386.1 433.9L385.1 433.8L384.2 433.7L383.2 433.6L382.3 433.5L381.3 433.4L380.4 433.2L380.2 433.2L379.5 433.0L378.5 432.8L377.6 432.6L376.6 432.3L376.4 432.2L375.7 432.0L374.7 431.6L374.0 431.3L373.8 431.2L372.8 430.7L372.0 430.3L371.9 430.2L370.9 429.7L370.4 429.3L370.0 429.1L369.1 428.5L368.9 428.4L368.1 427.8L367.6 427.4L367.2 427.1L366.3 426.4L366.2 426.4L365.3 425.6L365.1 425.5L364.3 424.9L363.9 424.5L363.4 424.2L362.5 423.5L362.4 423.5L361.5 422.9L360.9 422.6L360.6 422.4L359.6 422.1L358.7 421.9L357.7 421.7L357.4 421.6L356.8 421.5L355.8 421.3L354.9 421.0L353.9 420.7L353.7 420.6L353.0 420.4L352.0 420.0L351.3 419.7L351.1 419.6L350.2 419.1L349.5 418.7L349.2 418.5L348.3 417.9L348.1 417.7L347.3 417.1L346.9 416.8L346.4 416.3L345.9 415.8L345.4 415.3L345.0 414.9L344.5 414.3L344.1 413.9L343.5 413.1L343.4 412.9L342.7 412.0L342.6 411.8L342.0 411.0L341.6 410.5L341.3 410.0L340.7 409.2L340.6 409.1L340.0 408.1L339.8 407.8L339.3 407.1L338.8 406.4L338.7 406.2L338.0 405.2L337.9 405.0L337.4 404.2L336.9 403.5L336.8 403.3L336.1 402.3L336.0 402.1L335.5 401.3L335.0 400.6L334.9 400.4L334.3 399.4L334.1 399.0L333.7 398.5L333.2 397.5L333.1 397.4L332.7 396.5L332.2 395.6L332.2 395.6L331.7 394.6L331.3 393.6L331.2 393.5L330.9 392.7L330.5 391.7L330.3 391.1L330.2 390.7L329.8 389.8L329.5 388.8L329.4 388.2L329.3 387.8L329.0 386.9L328.8 385.9L328.6 384.9L328.4 384.0L328.4 383.8L328.3 383.0L328.2 382.0L328.1 381.1L328.0 380.1L327.9 379.2L327.8 378.2L327.8 377.2L327.7 376.3L327.7 375.3L327.6 374.3L327.5 373.4L327.5 373.0L327.4 372.4L327.2 371.4L326.9 370.5L326.6 369.5L326.5 369.3L326.3 368.5L325.9 367.6L325.6 366.6L325.6 366.4L325.3 365.6L325.0 364.7L324.7 363.7L324.6 363.3L324.5 362.8L324.2 361.8L324.0 360.8L323.8 359.9L323.7 359.2L323.6 358.9L323.5 357.9L323.3 357.0L323.2 356.0L323.1 355.0L323.1 354.1L323.1 353.1L323.1 352.1L323.1 351.2L323.1 350.2L323.2 349.2L323.3 348.3L323.4 347.3L323.6 346.3L323.7 345.7L323.8 345.4L323.9 344.4L324.2 343.5L324.4 342.5L324.6 341.8L324.7 341.5L325.0 340.6L325.3 339.6L325.6 338.9L325.7 338.6L326.1 337.7L326.5 336.7L326.5 336.6L326.9 335.7L327.4 334.8L327.5 334.6L327.8 333.8L328.4 332.8L328.4 332.7L328.9 331.9L329.4 331.1L329.5 330.9L330.1 329.9L330.3 329.6L330.7 329.0L331.2 328.2L331.4 328.0L332.1 327.1L332.2 326.9L332.9 326.1L333.1 325.8L333.7 325.1L334.1 324.7L334.6 324.2L335.0 323.7L335.5 323.2L336.0 322.7L336.5 322.2L336.9 321.9L337.6 321.3L337.9 321.0L338.8 320.3L338.8 320.3L339.8 319.5L340.0 319.3L340.7 318.8L341.4 318.4L341.6 318.2L342.6 317.6L342.9 317.4L343.5 317.0L344.5 316.4L344.5 316.4L345.4 315.9L346.2 315.5L346.4 315.4L347.3 314.9L348.1 314.5L348.3 314.4L349.2 314.0L350.2 313.6L350.2 313.5L351.1 313.1L352.0 312.7L352.4 312.6L353.0 312.3L353.9 311.9L354.7 311.6L354.9 311.5L355.8 311.1L356.8 310.8L357.1 310.6L357.7 310.4L358.7 310.1L359.6 309.7L359.7 309.7L360.6 309.4L361.5 309.1L362.4 308.8L362.7 308.7L363.4 308.5L364.3 308.3L365.3 308.1L366.2 307.9L366.8 307.8L367.2 307.7L368.1 307.5L369.1 307.4L370.0 307.3L370.9 307.2L371.9 307.1L372.8 307.1L373.8 307.1L374.7 307.1L375.7 307.1L376.6 307.1L377.6 307.2L378.5 307.3L379.5 307.4L380.4 307.5L381.3 307.6L382.3 307.7L382.5 307.8L383.2 307.9L384.2 308.0L385.1 308.2L386.1 308.3L387.0 308.4L388.0 308.6L388.9 308.7L389.1 308.7L389.9 308.8L390.8 308.8L391.3 308.7L391.7 308.7L392.7 308.5L393.6 308.2L394.6 308.0L395.4 307.8L395.5 307.7L396.5 307.4L397.4 307.2L398.4 306.9L398.8 306.8L399.3 306.6L400.3 306.4L401.2 306.2L402.1 306.0Z" fill="#fee5cb"/>
<path d="M392.3 314.5L392.7 314.5L393.6 314.4L394.6 314.4L395.5 314.3L396.5 314.3L397.4 314.2L398.4 314.2L399.3 314.1L400.3 314.1L401.2 314.1L402.1 314.1L403.1 314.1L404.0 314.1L405.0 314.2L405.9 314.2L406.9 314.3L407.8 314.4L408.5 314.5L408.8 314.5L409.7 314.7L410.7 314.9L411.6 315.1L412.5 315.3L413.1 315.5L413.5 315.6L414.4 315.9L415.4 316.2L416.1 316.4L416.3 316.5L417.3 316.9L418.2 317.3L418.5 317.4L419.2 317.7L420.1 318.1L420.5 318.4L421.0 318.6L422.0 319.2L422.3 319.3L422.9 319.7L423.9 320.3L423.9 320.3L424.8 320.9L425.4 321.3L425.8 321.5L426.7 322.1L427.0 322.2L427.7 322.7L428.5 323.2L428.6 323.3L429.6 323.9L430.0 324.2L430.5 324.5L431.4 325.1L431.4 325.2L432.4 325.9L432.7 326.1L433.3 326.6L433.9 327.1L434.3 327.3L435.1 328.0L435.2 328.1L436.2 329.0L436.2 329.0L437.1 329.9L437.2 329.9L438.1 330.8L438.2 330.9L439.0 331.8L439.1 331.9L440.0 332.8L440.0 332.8L440.9 333.8L440.9 333.8L441.8 334.8L441.8 334.8L442.7 335.7L442.8 335.9L443.5 336.7L443.7 337.0L444.2 337.7L444.7 338.2L445.0 338.6L445.6 339.5L445.7 339.6L446.3 340.6L446.6 340.9L447.0 341.5L447.5 342.4L447.5 342.5L448.1 343.5L448.5 344.1L448.6 344.4L449.1 345.4L449.4 346.1L449.5 346.3L449.9 347.3L450.3 348.3L450.4 348.5L450.6 349.2L450.9 350.2L451.2 351.2L451.3 351.6L451.4 352.1L451.6 353.1L451.8 354.1L452.0 355.0L452.1 356.0L452.2 357.0L452.2 357.8L452.3 357.9L452.3 358.9L452.3 359.9L452.4 360.8L452.3 361.8L452.3 362.8L452.3 363.7L452.3 364.7L452.2 364.9L452.2 365.6L452.2 366.6L452.1 367.6L452.1 368.5L452.0 369.5L452.0 370.5L452.0 371.4L452.0 372.4L452.1 373.4L452.1 374.3L452.2 375.3L452.2 375.4L452.3 376.3L452.5 377.2L452.6 378.2L452.7 379.2L452.8 380.1L452.9 381.1L453.0 382.0L453.1 383.0L453.1 384.0L453.2 384.9L453.2 385.9L453.2 386.9L453.1 387.8L453.1 388.8L453.0 389.8L452.9 390.7L452.7 391.7L452.6 392.7L452.4 393.6L452.2 394.1L452.1 394.6L451.8 395.6L451.5 396.5L451.3 397.2L451.2 397.5L450.8 398.5L450.4 399.4L450.4 399.5L449.9 400.4L449.4 401.3L449.4 401.4L448.9 402.3L448.5 403.0L448.3 403.3L447.6 404.2L447.5 404.4L446.9 405.2L446.6 405.7L446.2 406.2L445.6 406.9L445.4 407.1L444.7 407.9L444.5 408.1L443.7 408.8L443.5 409.1L442.8 409.7L442.4 410.0L441.8 410.4L441.0 411.0L440.9 411.1L440.0 411.6L439.3 412.0L439.0 412.1L438.1 412.4L437.1 412.5L436.2 412.5L435.2 412.5L434.3 412.5L433.3 412.4L432.4 412.4L431.4 412.4L430.5 412.5L429.6 412.6L428.6 412.8L428.1 412.9L427.7 413.1L426.7 413.6L426.4 413.9L425.8 414.7L425.7 414.9L425.5 415.8L425.4 416.8L425.3 417.7L425.2 418.7L425.0 419.7L424.8 420.1L424.7 420.6L424.3 421.6L423.9 422.2L423.7 422.6L422.9 423.5L422.9 423.5L422.0 424.5L422.0 424.5L421.0 425.3L420.8 425.5L420.1 426.0L419.5 426.4L419.2 426.6L418.2 427.1L417.7 427.4L417.3 427.6L416.3 427.9L415.4 428.2L414.8 428.4L414.4 428.5L413.5 428.6L412.5 428.7L411.6 428.8L410.7 428.8L409.7 428.7L408.8 428.6L407.8 428.5L407.0 428.4L406.9 428.3L405.9 428.1L405.0 427.9L404.0 427.6L403.2 427.4L403.1 427.4L402.1 427.1L401.2 426.8L400.3 426.5L400.1 426.4L399.3 426.2L398.4 425.9L397.4 425.6L396.8 425.5L396.5 425.4L395.5 425.2L394.6 425.0L393.6 424.8L392.7 424.7L391.7 424.6L390.8 424.5L389.9 424.5L388.9 424.5L388.0 424.6L387.0 424.6L386.1 424.7L385.1 424.7L384.2 424.6L383.2 424.6L382.3 424.5L382.3 424.5L381.3 424.4L380.4 424.2L379.5 424.0L378.5 423.7L377.9 423.5L377.6 423.4L376.6 423.1L375.7 422.6L375.5 422.6L374.7 422.2L373.8 421.7L373.7 421.6L372.8 421.1L372.1 420.6L371.9 420.5L370.9 419.9L370.6 419.7L370.0 419.2L369.3 418.7L369.1 418.6L368.1 417.9L367.9 417.7L367.2 417.2L366.5 416.8L366.2 416.6L365.3 416.0L364.9 415.8L364.3 415.4L363.4 414.9L363.2 414.9L362.4 414.4L361.5 414.0L361.3 413.9L360.6 413.5L359.6 412.9L359.6 412.9L358.8 412.0L358.7 411.4L358.6 411.0L358.6 410.0L358.7 409.6L358.8 409.1L359.1 408.1L359.6 407.1L359.6 407.0L360.0 406.2L360.4 405.2L360.6 404.7L360.7 404.2L360.8 403.3L360.7 402.3L360.6 402.0L360.2 401.3L359.6 400.6L359.4 400.4L358.7 399.6L358.4 399.4L357.7 398.8L357.2 398.5L356.8 398.1L355.9 397.5L355.8 397.4L354.9 396.8L354.4 396.5L353.9 396.2L353.0 395.6L353.0 395.6L352.0 394.9L351.6 394.6L351.1 394.3L350.2 393.6L350.2 393.6L349.2 392.9L348.9 392.7L348.3 392.1L347.8 391.7L347.3 391.3L346.7 390.7L346.4 390.5L345.6 389.8L345.4 389.5L344.7 388.8L344.5 388.5L343.9 387.8L343.5 387.4L343.1 386.9L342.6 386.2L342.4 385.9L341.7 384.9L341.6 384.9L341.1 384.0L340.7 383.3L340.5 383.0L340.0 382.0L339.8 381.5L339.6 381.1L339.1 380.1L338.8 379.3L338.7 379.2L338.4 378.2L338.1 377.2L337.9 376.6L337.8 376.3L337.5 375.3L337.2 374.3L337.0 373.4L336.9 373.0L336.8 372.4L336.6 371.4L336.5 370.5L336.3 369.5L336.2 368.5L336.1 367.6L336.0 366.6L336.0 366.5L335.9 365.6L335.8 364.7L335.7 363.7L335.6 362.8L335.6 361.8L335.5 360.8L335.5 359.9L335.5 358.9L335.5 357.9L335.5 357.0L335.5 356.0L335.5 355.0L335.6 354.1L335.7 353.1L335.8 352.1L335.9 351.2L336.0 351.0L336.1 350.2L336.3 349.2L336.5 348.3L336.7 347.3L336.9 346.5L336.9 346.3L337.2 345.4L337.5 344.4L337.9 343.5L337.9 343.5L338.2 342.5L338.6 341.5L338.8 341.1L339.1 340.6L339.5 339.6L339.8 339.1L340.0 338.6L340.6 337.7L340.7 337.5L341.2 336.7L341.6 336.0L341.8 335.7L342.5 334.8L342.6 334.7L343.3 333.8L343.5 333.5L344.2 332.8L344.5 332.5L345.2 331.9L345.4 331.7L346.3 330.9L346.4 330.9L347.3 330.2L347.7 329.9L348.3 329.6L349.2 329.0L349.2 329.0L350.2 328.4L350.9 328.0L351.1 327.9L352.0 327.5L352.9 327.1L353.0 327.0L353.9 326.6L354.9 326.2L355.2 326.1L355.8 325.8L356.8 325.5L357.7 325.1L357.7 325.1L358.7 324.8L359.6 324.4L360.2 324.2L360.6 324.0L361.5 323.5L362.1 323.2L362.4 323.0L363.4 322.5L363.9 322.2L364.3 322.0L365.3 321.4L365.6 321.3L366.2 320.9L367.2 320.4L367.4 320.3L368.1 320.0L369.1 319.5L369.4 319.3L370.0 319.1L370.9 318.7L371.7 318.4L371.9 318.3L372.8 317.9L373.8 317.6L374.3 317.4L374.7 317.3L375.7 317.0L376.6 316.7L377.6 316.5L377.7 316.4L378.5 316.2L379.5 316.0L380.4 315.8L381.3 315.7L382.3 315.5L382.6 315.5L383.2 315.4L384.2 315.2L385.1 315.1L386.1 315.0L387.0 314.9L388.0 314.8L388.9 314.7L389.9 314.7L390.8 314.6L391.7 314.5Z" fill="#fdd4aa"/>
<path d="M391.0 320.3L391.7 320.2L392.7 320.2L393.6 320.2L394.6 320.3L394.8 320.3L395.5 320.3L396.5 320.4L397.4 320.5L398.4 320.6L399.3 320.7L400.3 320.7L401.2 320.9L402.1 321.0L403.1 321.1L404.0 321.2L404.4 321.3L405.0 321.4L405.9 321.5L406.9 321.7L407.8 321.9L408.8 322.1L409.3 322.2L409.7 322.3L410.7 322.6L411.6 322.9L412.5 323.2L412.6 323.2L413.5 323.5L414.4 323.9L414.9 324.2L415.4 324.4L416.3 324.8L416.8 325.1L417.3 325.4L418.2 325.9L418.4 326.1L419.2 326.6L419.9 327.1L420.1 327.2L421.0 327.8L421.4 328.0L422.0 328.4L422.9 328.9L423.1 329.0L423.9 329.4L424.7 329.9L424.8 330.0L425.8 330.6L426.3 330.9L426.7 331.2L427.7 331.9L427.7 331.9L428.6 332.6L429.0 332.8L429.6 333.3L430.2 333.8L430.5 334.1L431.3 334.8L431.4 334.9L432.4 335.7L432.4 335.7L433.3 336.6L433.4 336.7L434.3 337.6L434.4 337.7L435.2 338.5L435.3 338.6L436.2 339.5L436.2 339.6L437.1 340.6L437.1 340.6L437.9 341.5L438.1 341.8L438.6 342.5L439.0 343.0L439.4 343.5L440.0 344.3L440.0 344.4L440.7 345.4L440.9 345.8L441.2 346.3L441.8 347.3L441.8 347.4L442.3 348.3L442.8 349.2L442.8 349.3L443.2 350.2L443.6 351.2L443.7 351.6L443.9 352.1L444.2 353.1L444.5 354.1L444.7 354.6L444.8 355.0L445.0 356.0L445.2 357.0L445.4 357.9L445.5 358.9L445.6 359.9L445.6 359.9L445.7 360.8L445.8 361.8L445.9 362.8L445.9 363.7L445.9 364.7L445.9 365.6L445.9 366.6L446.0 367.6L446.0 368.5L446.0 369.5L446.0 370.5L446.0 371.4L446.0 372.4L446.1 373.4L446.1 374.3L446.2 375.3L446.3 376.3L446.3 377.2L446.4 378.2L446.5 379.2L446.5 380.1L446.5 381.1L446.6 382.0L446.6 383.0L446.5 384.0L446.5 384.9L446.4 385.9L446.3 386.9L446.2 387.8L446.0 388.8L445.8 389.8L445.6 390.5L445.6 390.7L445.3 391.7L445.0 392.7L444.7 393.4L444.6 393.6L444.2 394.6L443.7 395.5L443.7 395.6L443.2 396.5L442.8 397.2L442.6 397.5L441.9 398.5L441.8 398.6L441.2 399.4L440.9 399.8L440.3 400.4L440.0 400.8L439.4 401.3L439.0 401.7L438.2 402.3L438.1 402.4L437.1 403.1L436.9 403.3L436.2 403.7L435.2 404.2L435.2 404.2L434.3 404.7L433.3 405.1L433.0 405.2L432.4 405.5L431.4 405.9L430.7 406.2L430.5 406.2L429.6 406.7L428.6 407.1L428.6 407.1L427.7 407.6L426.8 408.1L426.7 408.2L425.8 408.8L425.5 409.1L424.8 409.5L424.3 410.0L423.9 410.4L423.3 411.0L422.9 411.4L422.5 412.0L422.0 412.7L421.9 412.9L421.7 413.9L421.5 414.9L421.3 415.8L421.1 416.8L421.0 417.0L420.8 417.7L420.3 418.7L420.1 419.0L419.5 419.7L419.2 420.0L418.2 420.6L418.2 420.7L417.3 421.2L416.3 421.6L416.1 421.6L415.4 421.8L414.4 422.0L413.5 422.1L412.5 422.1L411.6 422.0L410.7 421.9L409.7 421.7L409.3 421.6L408.8 421.5L407.8 421.2L406.9 420.8L406.4 420.6L405.9 420.5L405.0 420.1L404.0 419.7L404.0 419.7L403.1 419.4L402.1 419.0L401.2 418.8L401.0 418.7L400.3 418.5L399.3 418.3L398.4 418.2L397.4 418.0L396.5 418.0L395.5 417.9L394.6 417.9L393.6 417.9L392.7 417.9L391.7 417.9L390.8 418.0L389.9 418.1L388.9 418.2L388.0 418.4L387.0 418.4L386.1 418.5L385.1 418.5L384.2 418.5L383.2 418.4L382.3 418.2L381.3 418.0L380.7 417.7L380.4 417.7L379.5 417.3L378.5 416.8L378.5 416.8L377.6 416.2L377.0 415.8L376.6 415.6L375.7 414.9L375.7 414.8L374.7 413.9L374.7 413.9L373.8 412.9L373.8 412.9L373.1 412.0L372.8 411.6L372.4 411.0L371.9 410.1L371.8 410.0L371.3 409.1L370.9 408.1L370.9 408.1L370.6 407.1L370.3 406.2L370.1 405.2L370.0 404.8L369.9 404.2L369.7 403.3L369.4 402.3L369.2 401.3L369.1 400.9L368.9 400.4L368.6 399.4L368.3 398.5L368.1 398.1L367.9 397.5L367.4 396.5L367.2 396.1L366.9 395.6L366.3 394.6L366.2 394.5L365.6 393.6L365.3 393.2L364.8 392.7L364.3 392.1L364.0 391.7L363.4 391.1L363.0 390.7L362.4 390.2L361.9 389.8L361.5 389.4L360.8 388.8L360.6 388.6L359.6 387.9L359.6 387.8L358.7 387.1L358.3 386.9L357.7 386.4L357.0 385.9L356.8 385.7L355.8 385.0L355.8 384.9L354.9 384.2L354.6 384.0L353.9 383.4L353.5 383.0L353.0 382.6L352.4 382.0L352.0 381.6L351.5 381.1L351.1 380.6L350.6 380.1L350.2 379.5L349.9 379.2L349.2 378.3L349.1 378.2L348.5 377.2L348.3 376.8L347.9 376.3L347.4 375.3L347.3 375.0L347.0 374.3L346.6 373.4L346.4 372.6L346.3 372.4L346.1 371.4L345.9 370.5L345.8 369.5L345.7 368.5L345.6 367.6L345.6 366.6L345.6 365.6L345.7 364.7L345.8 363.7L345.8 362.8L346.0 361.8L346.1 360.8L346.3 359.9L346.4 359.3L346.5 358.9L346.7 357.9L346.9 357.0L347.2 356.0L347.3 355.5L347.5 355.0L347.8 354.1L348.1 353.1L348.3 352.6L348.4 352.1L348.8 351.2L349.2 350.2L349.2 350.2L349.7 349.2L350.1 348.3L350.2 348.2L350.6 347.3L351.1 346.4L351.1 346.3L351.7 345.4L352.0 344.8L352.3 344.4L353.0 343.5L353.0 343.4L353.6 342.5L353.9 342.1L354.4 341.5L354.9 340.9L355.2 340.6L355.8 339.9L356.1 339.6L356.8 338.9L357.0 338.6L357.7 337.9L358.0 337.7L358.7 337.1L359.1 336.7L359.6 336.3L360.2 335.7L360.6 335.5L361.5 334.8L361.6 334.8L362.4 334.2L363.1 333.8L363.4 333.6L364.3 333.0L364.7 332.8L365.3 332.5L366.2 332.0L366.4 331.9L367.2 331.5L368.1 330.9L368.2 330.9L369.1 330.4L369.9 329.9L370.0 329.9L370.9 329.4L371.6 329.0L371.9 328.8L372.8 328.3L373.3 328.0L373.8 327.7L374.7 327.2L375.0 327.1L375.7 326.6L376.6 326.1L376.6 326.1L377.6 325.6L378.4 325.1L378.5 325.1L379.5 324.6L380.2 324.2L380.4 324.1L381.3 323.6L382.2 323.2L382.3 323.2L383.2 322.7L384.2 322.3L384.4 322.2L385.1 322.0L386.1 321.6L387.0 321.3L387.0 321.3L388.0 321.0L388.9 320.7L389.9 320.5L390.8 320.3Z" fill="#fdbe84"/>
<path d="M394.6 329.9L394.6 329.9L395.5 329.8L396.5 329.8L397.4 329.8L398.4 329.8L399.3 329.8L400.3 329.8L401.2 329.8L402.1 329.9L403.1 329.9L403.2 329.9L404.0 330.0L405.0 330.1L405.9 330.1L406.9 330.2L407.8 330.3L408.8 330.4L409.7 330.5L410.7 330.7L411.6 330.8L412.2 330.9L412.5 331.0L413.5 331.2L414.4 331.4L415.4 331.7L415.9 331.9L416.3 332.0L417.3 332.5L417.8 332.8L418.2 333.1L419.1 333.8L419.2 333.9L420.1 334.7L420.2 334.8L421.0 335.5L421.3 335.7L422.0 336.3L422.5 336.7L422.9 337.1L423.7 337.7L423.9 337.8L424.8 338.6L424.9 338.6L425.8 339.4L426.0 339.6L426.7 340.2L427.2 340.6L427.7 341.0L428.3 341.5L428.6 341.8L429.4 342.5L429.6 342.7L430.4 343.5L430.5 343.6L431.3 344.4L431.4 344.5L432.2 345.4L432.4 345.6L433.1 346.3L433.3 346.7L433.8 347.3L434.3 347.9L434.6 348.3L435.2 349.2L435.2 349.2L435.9 350.2L436.2 350.7L436.4 351.2L437.0 352.1L437.1 352.5L437.4 353.1L437.9 354.1L438.1 354.5L438.3 355.0L438.6 356.0L438.9 357.0L439.0 357.2L439.2 357.9L439.5 358.9L439.7 359.9L439.9 360.8L440.0 361.3L440.0 361.8L440.2 362.8L440.3 363.7L440.4 364.7L440.5 365.6L440.5 366.6L440.6 367.6L440.6 368.5L440.7 369.5L440.7 370.5L440.8 371.4L440.8 372.4L440.8 373.4L440.9 374.3L440.9 374.3L441.0 375.3L441.0 376.3L441.0 377.2L441.1 378.2L441.1 379.2L441.1 380.1L441.0 381.1L441.0 382.0L440.9 383.0L440.9 383.2L440.8 384.0L440.7 384.9L440.5 385.9L440.3 386.9L440.0 387.8L440.0 388.0L439.7 388.8L439.4 389.8L439.0 390.6L438.9 390.7L438.5 391.7L438.1 392.4L437.9 392.7L437.3 393.6L437.1 393.9L436.6 394.6L436.2 395.1L435.8 395.6L435.2 396.2L434.9 396.5L434.3 397.1L433.9 397.5L433.3 397.9L432.7 398.5L432.4 398.7L431.4 399.4L431.4 399.4L430.5 400.1L430.1 400.4L429.6 400.8L428.7 401.3L428.6 401.4L427.7 402.1L427.4 402.3L426.7 402.9L426.3 403.3L425.8 403.7L425.2 404.2L424.8 404.6L424.3 405.2L423.9 405.7L423.6 406.2L422.9 407.1L422.9 407.1L422.3 408.1L422.0 408.7L421.8 409.1L421.4 410.0L421.0 411.0L421.0 411.0L420.5 412.0L420.1 412.6L419.8 412.9L419.2 413.8L419.1 413.9L418.2 414.8L418.2 414.9L417.3 415.6L416.8 415.8L416.3 416.1L415.4 416.3L414.4 416.4L413.5 416.4L412.5 416.2L411.6 415.9L411.3 415.8L410.7 415.5L409.7 415.0L409.5 414.9L408.8 414.4L408.1 413.9L407.8 413.7L406.9 413.0L406.8 412.9L405.9 412.4L405.0 412.0L405.0 411.9L404.0 411.6L403.1 411.4L402.1 411.2L401.2 411.0L401.2 411.0L400.3 410.9L399.3 410.8L398.4 410.8L397.4 410.7L396.5 410.8L395.5 410.8L394.6 410.9L393.6 411.0L393.4 411.0L392.7 411.1L391.7 411.2L390.8 411.4L389.9 411.6L388.9 411.8L388.5 412.0L388.0 412.1L387.0 412.3L386.1 412.4L385.1 412.4L384.2 412.2L383.5 412.0L383.2 411.8L382.3 411.1L382.1 411.0L381.3 410.2L381.2 410.0L380.5 409.1L380.4 408.9L379.9 408.1L379.5 407.2L379.4 407.1L379.0 406.2L378.7 405.2L378.5 404.6L378.4 404.2L378.1 403.3L377.9 402.3L377.7 401.3L377.6 400.7L377.5 400.4L377.3 399.4L377.1 398.5L376.9 397.5L376.7 396.5L376.6 396.2L376.5 395.6L376.2 394.6L376.0 393.6L375.7 392.7L375.7 392.6L375.4 391.7L375.1 390.7L374.7 389.8L374.7 389.8L374.4 388.8L374.0 387.8L373.8 387.2L373.6 386.9L373.3 385.9L372.9 384.9L372.8 384.6L372.6 384.0L372.3 383.0L372.0 382.0L371.9 381.4L371.8 381.1L371.6 380.1L371.5 379.2L371.6 378.2L371.9 377.6L372.1 377.2L372.8 376.7L373.5 376.3L373.8 376.1L374.7 375.7L375.7 375.3L375.8 375.3L376.6 374.9L377.6 374.5L377.9 374.3L378.5 374.0L379.5 373.5L379.7 373.4L380.4 373.0L381.3 372.4L381.3 372.4L382.3 371.7L382.7 371.4L383.2 370.9L383.8 370.5L384.2 370.0L384.7 369.5L385.1 368.9L385.4 368.5L386.0 367.6L386.1 367.5L386.5 366.6L386.9 365.6L387.0 365.4L387.3 364.7L387.5 363.7L387.6 362.8L387.7 361.8L387.7 360.8L387.7 359.9L387.6 358.9L387.5 357.9L387.3 357.0L387.1 356.0L387.0 355.9L386.8 355.0L386.5 354.1L386.2 353.1L386.1 352.6L385.9 352.1L385.6 351.2L385.2 350.2L385.1 349.9L384.9 349.2L384.5 348.3L384.2 347.3L384.2 347.3L383.9 346.3L383.6 345.4L383.5 344.4L383.3 343.5L383.3 342.5L383.4 341.5L383.5 340.6L383.7 339.6L384.0 338.6L384.2 338.3L384.5 337.7L385.0 336.7L385.1 336.4L385.6 335.7L386.1 335.1L386.3 334.8L387.0 333.9L387.1 333.8L388.0 333.0L388.1 332.8L388.9 332.2L389.3 331.9L389.9 331.5L390.8 331.0L391.0 330.9L391.7 330.6L392.7 330.3L393.6 330.1ZM362.2 370.5L362.4 370.3L363.4 370.0L364.3 370.3L364.7 370.5L365.3 371.1L365.6 371.4L365.9 372.4L365.7 373.4L365.3 373.6L364.3 373.7L363.4 373.5L363.1 373.4L362.4 373.0L362.0 372.4L361.8 371.4Z" fill="#fda55f"/>
<path d="M415.9 348.3L416.3 348.0L417.3 347.7L418.2 347.5L419.2 347.4L420.1 347.5L421.0 347.7L422.0 347.9L422.9 348.3L423.0 348.3L423.9 348.7L424.8 349.2L424.9 349.2L425.8 349.8L426.4 350.2L426.7 350.4L427.7 351.2L427.7 351.2L428.6 352.1L428.7 352.1L429.6 353.1L429.6 353.1L430.4 354.1L430.5 354.2L431.1 355.0L431.4 355.6L431.7 356.0L432.3 357.0L432.4 357.2L432.7 357.9L433.2 358.9L433.3 359.3L433.5 359.9L433.9 360.8L434.2 361.8L434.3 362.2L434.4 362.8L434.6 363.7L434.8 364.7L435.0 365.6L435.1 366.6L435.2 367.3L435.3 367.6L435.4 368.5L435.4 369.5L435.5 370.5L435.6 371.4L435.6 372.4L435.7 373.4L435.7 374.3L435.8 375.3L435.8 376.3L435.9 377.2L435.8 378.2L435.8 379.2L435.8 380.1L435.7 381.1L435.5 382.0L435.4 383.0L435.2 383.7L435.2 384.0L434.9 384.9L434.6 385.9L434.3 386.7L434.2 386.9L433.8 387.8L433.3 388.6L433.3 388.8L432.6 389.8L432.4 390.1L431.9 390.7L431.4 391.3L431.1 391.7L430.5 392.4L430.2 392.7L429.6 393.3L429.2 393.6L428.6 394.1L428.0 394.6L427.7 394.9L426.8 395.6L426.7 395.6L425.8 396.4L425.6 396.5L424.8 397.1L424.4 397.5L423.9 397.9L423.2 398.5L422.9 398.7L422.2 399.4L422.0 399.7L421.3 400.4L421.0 400.8L420.6 401.3L420.1 402.3L420.1 402.3L419.6 403.3L419.2 404.2L419.2 404.5L418.9 405.2L418.6 406.2L418.3 407.1L418.2 407.5L418.0 408.1L417.5 409.1L417.3 409.4L416.3 410.0L416.1 410.0L415.4 410.1L414.9 410.0L414.4 409.9L413.5 409.5L412.8 409.1L412.5 408.9L411.6 408.2L411.5 408.1L410.7 407.4L410.4 407.1L409.7 406.6L409.2 406.2L408.8 405.8L408.0 405.2L407.8 405.0L406.9 404.4L406.7 404.2L405.9 403.7L405.2 403.3L405.0 403.2L404.0 402.6L403.3 402.3L403.1 402.2L402.1 401.8L401.2 401.5L400.5 401.3L400.3 401.3L399.3 401.0L398.4 400.8L397.4 400.6L396.5 400.4L396.4 400.4L395.5 400.1L394.6 399.7L393.9 399.4L393.6 399.2L392.7 398.5L392.7 398.5L392.0 397.5L391.7 396.9L391.6 396.5L391.4 395.6L391.4 394.6L391.6 393.6L391.7 393.0L391.8 392.7L392.2 391.7L392.7 390.8L392.7 390.7L393.3 389.8L393.6 389.2L394.0 388.8L394.6 387.9L394.7 387.8L395.5 386.9L395.5 386.8L396.3 385.9L396.5 385.7L397.2 384.9L397.4 384.6L398.0 384.0L398.4 383.5L398.7 383.0L399.3 382.2L399.4 382.0L400.1 381.1L400.3 380.8L400.6 380.1L401.1 379.2L401.2 379.0L401.6 378.2L402.1 377.2L402.1 377.0L402.5 376.3L402.9 375.3L403.1 374.7L403.2 374.3L403.5 373.4L403.8 372.4L403.9 371.4L404.0 370.8L404.1 370.5L404.2 369.5L404.3 368.5L404.4 367.6L404.6 366.6L404.7 365.6L404.8 364.7L405.0 363.9L405.0 363.7L405.2 362.8L405.4 361.8L405.7 360.8L405.9 360.2L406.0 359.9L406.4 358.9L406.9 358.0L406.9 357.9L407.4 357.0L407.8 356.4L408.1 356.0L408.8 355.1L408.8 355.0L409.7 354.1L409.7 354.0L410.6 353.1L410.7 353.0L411.5 352.1L411.6 352.1L412.5 351.2L412.5 351.1L413.4 350.2L413.5 350.1L414.4 349.3L414.5 349.2L415.4 348.6Z" fill="#fd8c3b"/>
<path d="M420.3 358.9L421.0 358.8L422.0 358.8L422.3 358.9L422.9 359.1L423.9 359.6L424.2 359.9L424.8 360.4L425.2 360.8L425.8 361.5L426.0 361.8L426.5 362.8L426.7 363.1L427.0 363.7L427.4 364.7L427.7 365.4L427.8 365.6L428.1 366.6L428.4 367.6L428.6 368.4L428.7 368.5L428.9 369.5L429.2 370.5L429.4 371.4L429.6 372.2L429.6 372.4L429.6 373.4L429.6 374.3L429.6 375.3L429.6 376.3L429.6 376.6L429.5 377.2L429.4 378.2L429.3 379.2L429.1 380.1L428.9 381.1L428.7 382.0L428.6 382.3L428.4 383.0L427.9 384.0L427.7 384.5L427.4 384.9L426.7 385.8L426.6 385.9L425.8 386.6L425.4 386.9L424.8 387.2L423.9 387.6L423.1 387.8L422.9 387.9L422.0 388.0L421.0 388.0L420.1 387.8L420.1 387.8L419.2 387.4L418.5 386.9L418.2 386.6L417.7 385.9L417.3 385.0L417.3 384.9L417.0 384.0L416.9 383.0L416.9 382.0L416.9 381.1L417.1 380.1L417.3 379.3L417.3 379.2L417.6 378.2L417.9 377.2L418.2 376.3L418.2 376.3L418.6 375.3L418.9 374.3L419.1 373.4L419.2 373.3L419.3 372.4L419.2 371.4L419.2 371.4L418.9 370.5L418.6 369.5L418.2 368.7L418.2 368.5L417.8 367.6L417.4 366.6L417.3 366.0L417.2 365.6L417.0 364.7L416.9 363.7L417.0 362.8L417.2 361.8L417.3 361.7L417.7 360.8L418.2 360.2L418.5 359.9L419.2 359.4L420.1 358.9Z" fill="#f4721e"/>
<ellipse cx="390.8" cy="372.4" rx="12.8" ry="13.2" transform="rotate(0 390.8 372.4)" fill="#fda55f"/>
<ellipse cx="390.8" cy="369.4" rx="11" ry="8" transform="rotate(0 390.8 369.4)" fill="#fdbe84"/>
</g>
<g fill="none" stroke="#000" stroke-opacity="0.62" stroke-width="0.75" stroke-dasharray="2 0.65"><ellipse cx="390.8" cy="372.4" rx="85.55" ry="87.32"/><ellipse cx="390.8" cy="372.4" rx="39.70" ry="40.52"/><ellipse cx="390.8" cy="372.4" rx="12.96" ry="13.23"/></g>
<g fill="none" stroke="#000" stroke-opacity="0.68" stroke-width="0.75" stroke-dasharray="2.3 1.1"><path d="M390.80 385.63L390.80 478.30"/><path d="M403.76 372.40L494.55 372.40"/><path d="M390.80 359.17L390.80 266.50"/><path d="M377.84 372.40L287.05 372.40"/></g>
<g fill="none" stroke="#000" stroke-opacity="0.62" stroke-width="0.7" stroke-dasharray="2 0.5"><path d="M397.28 383.86L442.68 464.11"/><path d="M402.03 379.02L480.65 425.35"/><path d="M402.03 365.78L480.65 319.45"/><path d="M397.28 360.94L442.68 280.69"/><path d="M384.32 360.94L338.93 280.69"/><path d="M379.57 365.78L300.95 319.45"/><path d="M379.57 379.02L300.95 425.35"/><path d="M384.32 383.86L338.92 464.11"/></g>
<g clip-path="url(#cod)" fill="none" stroke="#000" stroke-width="1.15" stroke-linejoin="round" stroke-linecap="round"><path d="M334 314.4L338.8 316L345.2 315.7L353.2 314.7L358 316L362.8 320L366.8 324.8L370 329.6L371.6 334.4L373.2 338.4L374.8 340.8L372.4 340L369.2 339.2L364.4 339.2L359.6 340.8L354.8 342.4L350.8 344.8L348.4 347.2L347.6 351.2L348.4 356L347.6 360.8L344.4 362.4L339.6 361.6L334.8 360L330 357.6L328.4 352.8L326.8 346.4L325.2 339.2L324.4 332L325.2 327.2L327.6 323.2L330.8 320L333.2 316.8Z"/><path d="M376.6 347.8L380.2 347.2L383.8 348.4L386.2 350.8L387.4 353.2L389.2 356.2L391 359.2L392.8 357.4L395.8 356.8L399.4 356.2L402.4 357.4L404.8 359.8L406.6 362.8L409 364.5L411 368L411.5 371L412 374L414 377L416.5 380L419 383L420.5 386L420 387.5L418 386L415 384.5L412 383.5L408 382L404.2 380.4L401.2 381.4L399.4 383.8L398.2 387.4L397.6 390.4L395.8 393.4L392.2 395.2L387.4 396.4L382.6 396.4L377.8 395.2L373 394L368.2 392.2L365.2 389.2L364 385.6L363.4 382L361.6 378.4L359.8 374.8L359.2 371.2L359.2 367.6L359.8 364L361.6 360.4L363.4 356.8L365.2 353.2L368.2 350.8L371.8 349L376.6 347.8Z"/><path d="M480.6 424.6L479 425.9L475.8 425.4L471 422.2L466.2 418.2L461.4 414.2L456.6 410.2L451.8 406.2L447 402.2L442.2 398.2L435.8 395L429.4 393.4L425.4 394.2L427 397.4L429.4 400.6L432.6 403L435.8 406.2L439 409.4L441.4 413.4L440.6 417.4L439.3 421.4L439.2 426.2L439.8 432.6L440 439L439.2 445L438.2 450L437.2 455L436.6 460L437.2 466"/><path d="M397.2 321.4L401.2 326.6L396.4 329.4L395.6 326.6Z"/><path d="M336.4 461.6L338 456.8L341.2 454.4L346 454.4L350.8 453.6L354 450.4L358 446.4L361.2 442.4L364.4 439.7L369.2 437.6L374 436.5L378.8 436.5L380.1 438.4L380.4 444.8L381.2 452.8L382 459.2L382.8 464L383.6 468.8L381.2 473.6L379.6 476.8"/><path d="M339.6 434.4L338 436.5L335.5 439.2L334 440.8L335.3 440.2L337.8 437.8L339.6 434.4Z"/></g>
<g fill="#000"><circle cx="425.4" cy="406.2" r="1.2"/><circle cx="330" cy="440" r="0.7"/></g>
<circle cx="390.8" cy="372.4" r="1.6" fill="#fff"/>
<ellipse cx="390.8" cy="372.4" rx="103.75" ry="105.9" fill="none" stroke="#222" stroke-width="1"/>
<text x="14.6" y="12.3" text-anchor="start" font-size="9.4">(a)</text>
<text x="27.6" y="120.2" text-anchor="end" font-size="9.4">-90°E</text>
<text x="42.0" y="179.2" text-anchor="end" font-size="9.4">-60°E</text>
<text x="80.9" y="219.1" text-anchor="end" font-size="9.4">-30°E</text>
<text x="134.75" y="233.8" text-anchor="middle" font-size="9.4">0°</text>
<text x="270.75" y="12.3" text-anchor="start" font-size="9.4">(b)</text>
<text x="283.75" y="120.2" text-anchor="end" font-size="9.4">-90°E</text>
<text x="298.15" y="179.2" text-anchor="end" font-size="9.4">-60°E</text>
<text x="337.04999999999995" y="219.1" text-anchor="end" font-size="9.4">-30°E</text>
<text x="390.9" y="233.8" text-anchor="middle" font-size="9.4">0°</text>
<text x="14.6" y="267.29999999999995" text-anchor="start" font-size="9.4">(c)</text>
<text x="27.6" y="375.2" text-anchor="end" font-size="9.4">90°E</text>
<text x="42.0" y="434.19999999999993" text-anchor="end" font-size="9.4">60°E</text>
<text x="80.9" y="474.09999999999997" text-anchor="end" font-size="9.4">30°E</text>
<text x="134.75" y="488.79999999999995" text-anchor="middle" font-size="9.4">0°</text>
<text x="270.75" y="267.29999999999995" text-anchor="start" font-size="9.4">(d)</text>
<text x="283.75" y="375.2" text-anchor="end" font-size="9.4">90°E</text>
<text x="298.15" y="434.19999999999993" text-anchor="end" font-size="9.4">60°E</text>
<text x="337.04999999999995" y="474.09999999999997" text-anchor="end" font-size="9.4">30°E</text>
<text x="390.9" y="488.79999999999995" text-anchor="middle" font-size="9.4">0°</text>
<rect x="103.40" y="493.6" width="26.55" height="12.60" fill="#fff0e1"/>
<rect x="129.65" y="493.6" width="26.55" height="12.60" fill="#fee5cb"/>
<rect x="155.91" y="493.6" width="26.55" height="12.60" fill="#fdd4aa"/>
<rect x="182.16" y="493.6" width="26.55" height="12.60" fill="#fdbe84"/>
<rect x="208.42" y="493.6" width="26.55" height="12.60" fill="#fda55f"/>
<rect x="234.67" y="493.6" width="26.55" height="12.60" fill="#fd8c3b"/>
<rect x="260.93" y="493.6" width="26.55" height="12.60" fill="#f4721e"/>
<rect x="287.18" y="493.6" width="26.55" height="12.60" fill="#e65a0b"/>
<rect x="313.44" y="493.6" width="26.55" height="12.60" fill="#d04501"/>
<rect x="339.69" y="493.6" width="26.55" height="12.60" fill="#a93703"/>
<rect x="365.95" y="493.6" width="26.55" height="12.60" fill="#8c2c04"/>
<path d="M392.2 493.6L406.4 499.90L392.2 506.2Z" fill="#7f2704"/>
<path d="M103.4 493.6L392.2 493.6L406.4 499.90L392.2 506.2L103.4 506.2Z" fill="none" stroke="#444" stroke-width="0.8"/>
<path d="M103.40 506.2L103.40 508.59999999999997" stroke="#333" stroke-width="0.8"/>
<text x="103.40" y="518" text-anchor="middle" font-size="9.4">0</text>
<path d="M155.91 506.2L155.91 508.59999999999997" stroke="#333" stroke-width="0.8"/>
<text x="155.91" y="518" text-anchor="middle" font-size="9.4">2</text>
<path d="M208.42 506.2L208.42 508.59999999999997" stroke="#333" stroke-width="0.8"/>
<text x="208.42" y="518" text-anchor="middle" font-size="9.4">4</text>
<path d="M260.93 506.2L260.93 508.59999999999997" stroke="#333" stroke-width="0.8"/>
<text x="260.93" y="518" text-anchor="middle" font-size="9.4">6</text>
<path d="M313.44 506.2L313.44 508.59999999999997" stroke="#333" stroke-width="0.8"/>
<text x="313.44" y="518" text-anchor="middle" font-size="9.4">8</text>
<path d="M365.95 506.2L365.95 508.59999999999997" stroke="#333" stroke-width="0.8"/>
<text x="365.95" y="518" text-anchor="middle" font-size="9.4">10</text>
<text x="247.6" y="529.3" text-anchor="middle" font-size="9.4">Blocking frequency [%]</text>
</svg>
</body></html>
